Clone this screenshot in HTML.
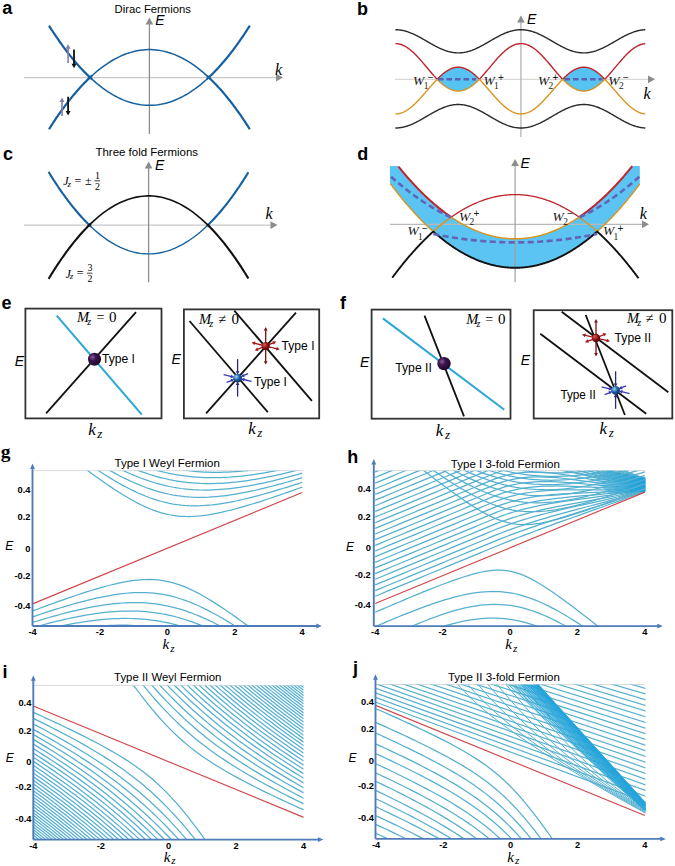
<!DOCTYPE html><html><head><meta charset="utf-8"><style>html,body{margin:0;padding:0;background:#fff;}svg{display:block}</style></head><body>
<svg width="675" height="866" viewBox="0 0 675 866">
<rect width="675" height="866" fill="#fff"/>
<text x="2.3" y="13.5" font-family="Liberation Sans" font-size="18" font-weight="bold" font-style="normal" fill="#000" text-anchor="start" >a</text>
<text x="356.9" y="14.9" font-family="Liberation Sans" font-size="18" font-weight="bold" font-style="normal" fill="#000" text-anchor="start" >b</text>
<text x="3" y="159.5" font-family="Liberation Sans" font-size="18" font-weight="bold" font-style="normal" fill="#000" text-anchor="start" >c</text>
<text x="357.2" y="159.7" font-family="Liberation Sans" font-size="18" font-weight="bold" font-style="normal" fill="#000" text-anchor="start" >d</text>
<text x="1.5" y="308.9" font-family="Liberation Sans" font-size="18" font-weight="bold" font-style="normal" fill="#000" text-anchor="start" >e</text>
<text x="339.9" y="308.7" font-family="Liberation Sans" font-size="18" font-weight="bold" font-style="normal" fill="#000" text-anchor="start" >f</text>
<text x="347.2" y="463.2" font-family="Liberation Sans" font-size="18" font-weight="bold" font-style="normal" fill="#000" text-anchor="start" >h</text>
<text x="2.5" y="677.6" font-family="Liberation Sans" font-size="18" font-weight="bold" font-style="normal" fill="#000" text-anchor="start" >i</text>
<text x="352.9" y="673.6" font-family="Liberation Sans" font-size="18" font-weight="bold" font-style="normal" fill="#000" text-anchor="start" >j</text>
<text x="0.8" y="457.6" font-family="Liberation Serif" font-size="19.5" font-weight="bold" font-style="normal" fill="#000" text-anchor="start" >g</text>
<text x="114.6" y="13.2" font-family="Liberation Sans" font-size="11.6" font-weight="normal" font-style="normal" fill="#000" text-anchor="start" textLength="76.3" lengthAdjust="spacingAndGlyphs" >Dirac Fermions</text>
<line x1="24" y1="77.6" x2="277" y2="77.6" stroke="#c8c8c8" stroke-width="1.3" />
<polygon points="283,77.6 276,81.45 276,73.75" fill="#8c8c8c"/>
<line x1="149.4" y1="134" x2="149.4" y2="24" stroke="#8c8c8c" stroke-width="1.3" />
<polygon points="149.4,17.5 153.25,24.5 145.55,24.5" fill="#8c8c8c"/>
<text x="155.3" y="25.3" font-family="Liberation Sans" font-size="14" font-weight="normal" font-style="italic" fill="#000" text-anchor="start" >E</text>
<text x="275" y="74.6" font-family="Liberation Serif" font-size="16" font-weight="normal" font-style="italic" fill="#000" text-anchor="start" >k</text>
<polyline points="49,129.23 49.88,127.85 50.76,126.47 51.63,125.11 52.51,123.76 53.39,122.42 54.27,121.1 55.14,119.79 56.02,118.49 56.9,117.2 57.78,115.92 58.65,114.66 59.53,113.4 60.41,112.16 61.29,110.94 62.16,109.72 63.04,108.52 63.92,107.33 64.8,106.15 65.67,104.98 66.55,103.83 67.43,102.68 68.31,101.55 69.18,100.43 70.06,99.33 70.94,98.23 71.82,97.15 72.69,96.08 73.57,95.02 74.45,93.98 75.33,92.95 76.2,91.93 77.08,90.92 77.96,89.92 78.84,88.94 79.71,87.96 80.59,87 81.47,86.06 82.35,85.12 83.22,84.2 84.1,83.28 84.98,82.38 85.86,81.5 86.73,80.62 87.61,79.76 88.49,78.91 89.37,78.07 90.24,77.24 91.12,76.43 92,75.63" fill="none" stroke="#15609f" stroke-width="2.2" />
<polyline points="49,25.67 49.88,27.05 50.76,28.43 51.63,29.79 52.51,31.14 53.39,32.48 54.27,33.8 55.14,35.11 56.02,36.41 56.9,37.7 57.78,38.98 58.65,40.24 59.53,41.5 60.41,42.74 61.29,43.96 62.16,45.18 63.04,46.38 63.92,47.57 64.8,48.75 65.67,49.92 66.55,51.07 67.43,52.22 68.31,53.35 69.18,54.47 70.06,55.57 70.94,56.67 71.82,57.75 72.69,58.82 73.57,59.88 74.45,60.92 75.33,61.95 76.2,62.97 77.08,63.98 77.96,64.98 78.84,65.96 79.71,66.94 80.59,67.9 81.47,68.84 82.35,69.78 83.22,70.7 84.1,71.62 84.98,72.52 85.86,73.4 86.73,74.28 87.61,75.14 88.49,75.99 89.37,76.83 90.24,77.66 91.12,78.47 92,79.27" fill="none" stroke="#15609f" stroke-width="2.2" />
<polyline points="88,79.38 90.51,77 93.02,74.71 95.53,72.53 98.04,70.44 100.55,68.45 103.06,66.56 105.57,64.78 108.08,63.09 110.59,61.5 113.1,60.01 115.61,58.62 118.12,57.33 120.63,56.14 123.14,55.05 125.65,54.05 128.16,53.16 130.67,52.37 133.18,51.68 135.69,51.08 138.2,50.59 140.71,50.2 143.22,49.9 145.73,49.71 148.24,49.61 150.76,49.61 153.27,49.72 155.78,49.92 158.29,50.22 160.8,50.63 163.31,51.13 165.82,51.73 168.33,52.43 170.84,53.23 173.35,54.13 175.86,55.13 178.37,56.23 180.88,57.43 183.39,58.73 185.9,60.12 188.41,61.62 190.92,63.22 193.43,64.91 195.94,66.71 198.45,68.61 200.96,70.6 203.47,72.7 205.98,74.89 208.49,77.18 211,79.58" fill="none" stroke="#15609f" stroke-width="1.5" />
<polyline points="88,75.52 90.51,77.9 93.02,80.19 95.53,82.37 98.04,84.46 100.55,86.45 103.06,88.34 105.57,90.12 108.08,91.81 110.59,93.4 113.1,94.89 115.61,96.28 118.12,97.57 120.63,98.76 123.14,99.85 125.65,100.85 128.16,101.74 130.67,102.53 133.18,103.22 135.69,103.82 138.2,104.31 140.71,104.7 143.22,105 145.73,105.19 148.24,105.29 150.76,105.29 153.27,105.18 155.78,104.98 158.29,104.68 160.8,104.27 163.31,103.77 165.82,103.17 168.33,102.47 170.84,101.67 173.35,100.77 175.86,99.77 178.37,98.67 180.88,97.47 183.39,96.17 185.9,94.78 188.41,93.28 190.92,91.68 193.43,89.99 195.94,88.19 198.45,86.29 200.96,84.3 203.47,82.2 205.98,80.01 208.49,77.72 211,75.32" fill="none" stroke="#15609f" stroke-width="1.5" />
<polyline points="207,75.81 207.87,76.61 208.75,77.42 209.62,78.25 210.49,79.09 211.37,79.94 212.24,80.8 213.11,81.67 213.99,82.56 214.86,83.45 215.73,84.36 216.61,85.28 217.48,86.22 218.36,87.16 219.23,88.12 220.1,89.09 220.98,90.07 221.85,91.07 222.72,92.07 223.6,93.09 224.47,94.12 225.34,95.16 226.22,96.22 227.09,97.28 227.96,98.36 228.84,99.45 229.71,100.55 230.58,101.67 231.46,102.79 232.33,103.93 233.2,105.08 234.08,106.25 234.95,107.42 235.82,108.61 236.7,109.81 237.57,111.02 238.44,112.24 239.32,113.47 240.19,114.72 241.07,115.98 241.94,117.25 242.81,118.53 243.69,119.83 244.56,121.14 245.43,122.46 246.31,123.79 247.18,125.13 248.05,126.49 248.93,127.85 249.8,129.23" fill="none" stroke="#15609f" stroke-width="2.2" />
<polyline points="207,79.09 207.87,78.29 208.75,77.48 209.62,76.65 210.49,75.81 211.37,74.96 212.24,74.1 213.11,73.23 213.99,72.34 214.86,71.45 215.73,70.54 216.61,69.62 217.48,68.68 218.36,67.74 219.23,66.78 220.1,65.81 220.98,64.83 221.85,63.83 222.72,62.83 223.6,61.81 224.47,60.78 225.34,59.74 226.22,58.68 227.09,57.62 227.96,56.54 228.84,55.45 229.71,54.35 230.58,53.23 231.46,52.11 232.33,50.97 233.2,49.82 234.08,48.65 234.95,47.48 235.82,46.29 236.7,45.09 237.57,43.88 238.44,42.66 239.32,41.43 240.19,40.18 241.07,38.92 241.94,37.65 242.81,36.37 243.69,35.07 244.56,33.76 245.43,32.44 246.31,31.11 247.18,29.77 248.05,28.41 248.93,27.05 249.8,25.67" fill="none" stroke="#15609f" stroke-width="2.2" />
<line x1="68.1" y1="63" x2="68.1" y2="48" stroke="#8a7ba6" stroke-width="1.6" />
<polygon points="68.1,44.3 70.57,48.8 65.62,48.8" fill="#8a7ba6"/>
<line x1="74" y1="49.4" x2="74" y2="64.5" stroke="#111" stroke-width="1.8" />
<polygon points="74,68.3 71.53,63.8 76.47,63.8" fill="#111"/>
<line x1="62" y1="116.1" x2="62" y2="101.3" stroke="#8a7ba6" stroke-width="1.6" />
<polygon points="62,97.6 64.47,102.1 59.52,102.1" fill="#8a7ba6"/>
<line x1="68.1" y1="96.7" x2="68.1" y2="111.6" stroke="#111" stroke-width="1.8" />
<polygon points="68.1,115.4 65.62,110.9 70.57,110.9" fill="#111"/>
<line x1="395" y1="79.3" x2="648" y2="79.3" stroke="#d8d8d8" stroke-width="1.2" />
<polygon points="655,79.3 648,83.15 648,75.45" fill="#8c8c8c"/>
<line x1="520.9" y1="137" x2="520.9" y2="22" stroke="#b0b0b0" stroke-width="1.2" />
<polygon points="520.9,15.6 524.75,22.6 517.05,22.6" fill="#8c8c8c"/>
<text x="527" y="24.4" font-family="Liberation Sans" font-size="14" font-weight="normal" font-style="italic" fill="#000" text-anchor="start" >E</text>
<text x="643.5" y="98.7" font-family="Liberation Serif" font-size="16" font-weight="normal" font-style="italic" fill="#000" text-anchor="start" >k</text>
<polygon points="436.11,78.16 436.74,78.83 437.36,79.12 437.99,78.48 438.62,77.85 439.24,77.23 439.87,76.63 440.49,76.04 441.12,75.46 441.75,74.9 442.37,74.36 443,73.83 443.63,73.32 444.25,72.83 444.88,72.36 445.51,71.9 446.13,71.47 446.76,71.05 447.38,70.65 448.01,70.27 448.64,69.92 449.26,69.58 449.89,69.26 450.52,68.97 451.14,68.7 451.77,68.45 452.39,68.22 453.02,68.01 453.65,67.83 454.27,67.67 454.9,67.54 455.53,67.42 456.15,67.33 456.78,67.26 457.41,67.22 458.03,67.2 458.66,67.2 459.28,67.23 459.91,67.28 460.54,67.36 461.16,67.45 461.79,67.57 462.42,67.72 463.04,67.88 463.67,68.07 464.29,68.29 464.92,68.52 465.55,68.78 466.17,69.06 466.8,69.36 467.43,69.68 468.05,70.02 468.68,70.38 469.31,70.77 469.93,71.17 470.56,71.6 471.18,72.04 471.81,72.5 472.44,72.98 473.06,73.48 473.69,73.99 474.32,74.52 474.94,75.07 475.57,75.63 476.19,76.21 476.82,76.81 477.45,77.41 477.45,81.13 476.82,81.72 476.19,82.29 475.57,82.86 474.94,83.4 474.32,83.93 473.69,84.45 473.06,84.95 472.44,85.43 471.81,85.9 471.18,86.34 470.56,86.77 469.93,87.18 469.31,87.58 468.68,87.95 468.05,88.3 467.43,88.63 466.8,88.95 466.17,89.24 465.55,89.51 464.92,89.76 464.29,89.98 463.67,90.19 463.04,90.37 462.42,90.53 461.79,90.67 461.16,90.79 460.54,90.89 459.91,90.96 459.28,91.01 458.66,91.03 458.03,91.04 457.41,91.02 456.78,90.97 456.15,90.91 455.53,90.82 454.9,90.71 454.27,90.58 453.65,90.42 453.02,90.25 452.39,90.05 451.77,89.83 451.14,89.58 450.52,89.32 449.89,89.04 449.26,88.73 448.64,88.4 448.01,88.06 447.38,87.69 446.76,87.3 446.13,86.9 445.51,86.48 444.88,86.03 444.25,85.57 443.63,85.1 443,84.6 442.37,84.09 441.75,83.56 441.12,83.02 440.49,82.47 439.87,81.89 439.24,81.31 438.62,80.71 437.99,80.1 437.36,79.48 436.74,79.76 436.11,80.4" fill="#57c3f3"/>
<polygon points="562.63,79.23 563.25,78.72 563.88,78.08 564.51,77.46 565.13,76.85 565.76,76.26 566.38,75.68 567.01,75.11 567.64,74.56 568.26,74.03 568.89,73.52 569.52,73.02 570.14,72.54 570.77,72.07 571.39,71.63 572.02,71.2 572.65,70.8 573.27,70.41 573.9,70.05 574.53,69.7 575.15,69.38 575.78,69.08 576.41,68.8 577.03,68.54 577.66,68.3 578.28,68.09 578.91,67.9 579.54,67.73 580.16,67.58 580.79,67.46 581.42,67.36 582.04,67.29 582.67,67.24 583.29,67.21 583.92,67.2 584.55,67.22 585.17,67.26 585.8,67.33 586.43,67.41 587.05,67.53 587.68,67.66 588.31,67.82 588.93,68 589.56,68.2 590.18,68.43 590.81,68.68 591.44,68.95 592.06,69.24 592.69,69.55 593.32,69.89 593.94,70.24 594.57,70.62 595.19,71.02 595.82,71.43 596.45,71.87 597.07,72.32 597.7,72.8 598.33,73.29 598.95,73.79 599.58,74.32 600.21,74.86 600.83,75.42 601.46,75.99 602.08,76.58 602.71,77.18 603.34,77.8 603.96,78.43 603.96,80.15 603.34,80.76 602.71,81.35 602.08,81.94 601.46,82.51 600.83,83.06 600.21,83.6 599.58,84.13 598.95,84.64 598.33,85.13 597.7,85.61 597.07,86.07 596.45,86.51 595.82,86.93 595.19,87.33 594.57,87.72 593.94,88.08 593.32,88.43 592.69,88.75 592.06,89.06 591.44,89.34 590.81,89.6 590.18,89.84 589.56,90.06 588.93,90.26 588.31,90.44 587.68,90.59 587.05,90.72 586.43,90.83 585.8,90.92 585.17,90.98 584.55,91.02 583.92,91.04 583.29,91.03 582.67,91 582.04,90.95 581.42,90.88 580.79,90.78 580.16,90.66 579.54,90.52 578.91,90.36 578.28,90.17 577.66,89.97 577.03,89.74 576.41,89.49 575.78,89.22 575.15,88.92 574.53,88.61 573.9,88.27 573.27,87.92 572.65,87.55 572.02,87.15 571.39,86.74 570.77,86.31 570.14,85.86 569.52,85.4 568.89,84.91 568.26,84.41 567.64,83.89 567.01,83.36 566.38,82.81 565.76,82.25 565.13,81.67 564.51,81.08 563.88,80.48 563.25,79.86 562.63,79.36" fill="#57c3f3"/>
<polyline points="395.4,29.7 396.03,29.7 396.65,29.72 397.28,29.75 397.91,29.78 398.53,29.83 399.16,29.89 399.78,29.97 400.41,30.05 401.04,30.14 401.66,30.25 402.29,30.36 402.92,30.49 403.54,30.63 404.17,30.78 404.79,30.93 405.42,31.1 406.05,31.28 406.67,31.47 407.3,31.67 407.93,31.87 408.55,32.09 409.18,32.32 409.81,32.55 410.43,32.79 411.06,33.04 411.68,33.3 412.31,33.57 412.94,33.85 413.56,34.13 414.19,34.42 414.82,34.71 415.44,35.02 416.07,35.33 416.69,35.64 417.32,35.96 417.95,36.29 418.57,36.62 419.2,36.95 419.83,37.29 420.45,37.63 421.08,37.98 421.71,38.33 422.33,38.68 422.96,39.04 423.58,39.4 424.21,39.76 424.84,40.12 425.46,40.48 426.09,40.84 426.72,41.21 427.34,41.57 427.97,41.93 428.59,42.3 429.22,42.66 429.85,43.02 430.47,43.38 431.1,43.74 431.73,44.09 432.35,44.44 432.98,44.79 433.61,45.14 434.23,45.48 434.86,45.81 435.48,46.15 436.11,46.47 436.74,46.8 437.36,47.11 437.99,47.43 438.62,47.73 439.24,48.03 439.87,48.32 440.49,48.61 441.12,48.89 441.75,49.16 442.37,49.42 443,49.68 443.63,49.93 444.25,50.17 444.88,50.4 445.51,50.62 446.13,50.83 446.76,51.03 447.38,51.23 448.01,51.41 448.64,51.58 449.26,51.75 449.89,51.9 450.52,52.04 451.14,52.17 451.77,52.29 452.39,52.41 453.02,52.5 453.65,52.59 454.27,52.67 454.9,52.74 455.53,52.79 456.15,52.84 456.78,52.87 457.41,52.89 458.03,52.9 458.66,52.9 459.28,52.88 459.91,52.86 460.54,52.82 461.16,52.78 461.79,52.72 462.42,52.65 463.04,52.57 463.67,52.48 464.29,52.37 464.92,52.26 465.55,52.13 466.17,52 466.8,51.85 467.43,51.7 468.05,51.53 468.68,51.35 469.31,51.17 469.93,50.97 470.56,50.77 471.18,50.55 471.81,50.33 472.44,50.09 473.06,49.85 473.69,49.6 474.32,49.35 474.94,49.08 475.57,48.81 476.19,48.53 476.82,48.24 477.45,47.94 478.07,47.64 478.7,47.33 479.33,47.02 479.95,46.7 480.58,46.38 481.21,46.05 481.83,45.71 482.46,45.37 483.08,45.03 483.71,44.68 484.34,44.34 484.96,43.98 485.59,43.63 486.22,43.27 486.84,42.91 487.47,42.55 488.09,42.19 488.72,41.82 489.35,41.46 489.97,41.1 490.6,40.73 491.23,40.37 491.85,40.01 492.48,39.65 493.11,39.29 493.73,38.93 494.36,38.58 494.98,38.22 495.61,37.88 496.24,37.53 496.86,37.19 497.49,36.85 498.12,36.52 498.74,36.19 499.37,35.86 499.99,35.54 500.62,35.23 501.25,34.92 501.87,34.62 502.5,34.33 503.13,34.04 503.75,33.76 504.38,33.49 505.01,33.22 505.63,32.97 506.26,32.72 506.88,32.48 507.51,32.25 508.14,32.02 508.76,31.81 509.39,31.61 510.02,31.41 510.64,31.23 511.27,31.05 511.89,30.88 512.52,30.73 513.15,30.58 513.77,30.45 514.4,30.33 515.03,30.21 515.65,30.11 516.28,30.02 516.91,29.94 517.53,29.87 518.16,29.82 518.78,29.77 519.41,29.74 520.04,29.71 520.66,29.7 521.29,29.7 521.92,29.71 522.54,29.73 523.17,29.77 523.79,29.81 524.42,29.87 525.05,29.94 525.67,30.02 526.3,30.11 526.93,30.21 527.55,30.32 528.18,30.44 528.81,30.57 529.43,30.72 530.06,30.87 530.68,31.04 531.31,31.21 531.94,31.4 532.56,31.59 533.19,31.79 533.82,32.01 534.44,32.23 535.07,32.46 535.69,32.7 536.32,32.95 536.95,33.2 537.57,33.47 538.2,33.74 538.83,34.02 539.45,34.31 540.08,34.6 540.71,34.9 541.33,35.21 541.96,35.52 542.58,35.84 543.21,36.16 543.84,36.49 544.46,36.82 545.09,37.16 545.72,37.5 546.34,37.85 546.97,38.2 547.59,38.55 548.22,38.9 548.85,39.26 549.47,39.62 550.1,39.98 550.73,40.34 551.35,40.71 551.98,41.07 552.61,41.43 553.23,41.8 553.86,42.16 554.48,42.52 555.11,42.88 555.74,43.24 556.36,43.6 556.99,43.96 557.62,44.31 558.24,44.66 558.87,45.01 559.49,45.35 560.12,45.69 560.75,46.02 561.37,46.35 562,46.68 562.63,47 563.25,47.31 563.88,47.62 564.51,47.92 565.13,48.22 565.76,48.5 566.38,48.79 567.01,49.06 567.64,49.33 568.26,49.58 568.89,49.83 569.52,50.08 570.14,50.31 570.77,50.54 571.39,50.75 572.02,50.96 572.65,51.15 573.27,51.34 573.9,51.52 574.53,51.68 575.15,51.84 575.78,51.99 576.41,52.12 577.03,52.25 577.66,52.36 578.28,52.47 578.91,52.56 579.54,52.64 580.16,52.71 580.79,52.77 581.42,52.82 582.04,52.86 582.67,52.88 583.29,52.9 583.92,52.9 584.55,52.89 585.17,52.87 585.8,52.84 586.43,52.8 587.05,52.74 587.68,52.68 588.31,52.6 588.93,52.51 589.56,52.41 590.18,52.3 590.81,52.18 591.44,52.05 592.06,51.91 592.69,51.76 593.32,51.59 593.94,51.42 594.57,51.24 595.19,51.05 595.82,50.85 596.45,50.63 597.07,50.41 597.7,50.18 598.33,49.95 598.95,49.7 599.58,49.44 600.21,49.18 600.83,48.91 601.46,48.63 602.08,48.35 602.71,48.05 603.34,47.76 603.96,47.45 604.59,47.14 605.22,46.82 605.84,46.5 606.47,46.17 607.09,45.84 607.72,45.5 608.35,45.16 608.97,44.82 609.6,44.47 610.23,44.12 610.85,43.76 611.48,43.41 612.11,43.05 612.73,42.69 613.36,42.32 613.98,41.96 614.61,41.6 615.24,41.24 615.86,40.87 616.49,40.51 617.12,40.15 617.74,39.78 618.37,39.42 618.99,39.07 619.62,38.71 620.25,38.36 620.87,38.01 621.5,37.66 622.13,37.32 622.75,36.98 623.38,36.64 624.01,36.31 624.63,35.99 625.26,35.66 625.88,35.35 626.51,35.04 627.14,34.74 627.76,34.44 628.39,34.15 629.02,33.87 629.64,33.59 630.27,33.32 630.89,33.06 631.52,32.81 632.15,32.57 632.77,32.33 633.4,32.11 634.03,31.89 634.65,31.68 635.28,31.48 635.91,31.29 636.53,31.11 637.16,30.95 637.78,30.79 638.41,30.64 639.04,30.5 639.66,30.37 640.29,30.26 640.92,30.15 641.54,30.06 642.17,29.97 642.79,29.9 643.42,29.84 644.05,29.79 644.67,29.75 645.3,29.72" fill="none" stroke="#2a2a2a" stroke-width="1.4" />
<polyline points="395.4,128 396.03,128 396.65,127.98 397.28,127.95 397.91,127.91 398.53,127.86 399.16,127.8 399.78,127.73 400.41,127.65 401.04,127.55 401.66,127.45 402.29,127.33 402.92,127.2 403.54,127.06 404.17,126.91 404.79,126.75 405.42,126.58 406.05,126.4 406.67,126.21 407.3,126.01 407.93,125.8 408.55,125.58 409.18,125.35 409.81,125.11 410.43,124.87 411.06,124.61 411.68,124.35 412.31,124.08 412.94,123.8 413.56,123.51 414.19,123.22 414.82,122.92 415.44,122.61 416.07,122.3 416.69,121.98 417.32,121.66 417.95,121.33 418.57,120.99 419.2,120.65 419.83,120.31 420.45,119.96 421.08,119.61 421.71,119.26 422.33,118.9 422.96,118.54 423.58,118.18 424.21,117.81 424.84,117.45 425.46,117.08 426.09,116.71 426.72,116.34 427.34,115.98 427.97,115.61 428.59,115.24 429.22,114.87 429.85,114.51 430.47,114.14 431.1,113.78 431.73,113.42 432.35,113.07 432.98,112.71 433.61,112.37 434.23,112.02 434.86,111.68 435.48,111.34 436.11,111.01 436.74,110.68 437.36,110.36 437.99,110.04 438.62,109.73 439.24,109.43 439.87,109.13 440.49,108.84 441.12,108.56 441.75,108.29 442.37,108.02 443,107.76 443.63,107.51 444.25,107.27 444.88,107.04 445.51,106.81 446.13,106.6 446.76,106.39 447.38,106.2 448.01,106.01 448.64,105.83 449.26,105.67 449.89,105.51 450.52,105.37 451.14,105.24 451.77,105.11 452.39,105 453.02,104.9 453.65,104.81 454.27,104.73 454.9,104.66 455.53,104.61 456.15,104.56 456.78,104.53 457.41,104.51 458.03,104.5 458.66,104.5 459.28,104.52 459.91,104.54 460.54,104.58 461.16,104.62 461.79,104.68 462.42,104.75 463.04,104.84 463.67,104.93 464.29,105.03 464.92,105.15 465.55,105.28 466.17,105.41 466.8,105.56 467.43,105.72 468.05,105.89 468.68,106.07 469.31,106.25 469.93,106.45 470.56,106.66 471.18,106.88 471.81,107.11 472.44,107.34 473.06,107.59 473.69,107.84 474.32,108.1 474.94,108.37 475.57,108.65 476.19,108.93 476.82,109.22 477.45,109.52 478.07,109.83 478.7,110.14 479.33,110.46 479.95,110.78 480.58,111.11 481.21,111.44 481.83,111.78 482.46,112.12 483.08,112.47 483.71,112.82 484.34,113.18 484.96,113.53 485.59,113.89 486.22,114.25 486.84,114.62 487.47,114.98 488.09,115.35 488.72,115.72 489.35,116.09 489.97,116.46 490.6,116.82 491.23,117.19 491.85,117.56 492.48,117.92 493.11,118.29 493.73,118.65 494.36,119.01 494.98,119.36 495.61,119.72 496.24,120.07 496.86,120.42 497.49,120.76 498.12,121.1 498.74,121.43 499.37,121.76 499.99,122.08 500.62,122.4 501.25,122.71 501.87,123.01 502.5,123.31 503.13,123.6 503.75,123.88 504.38,124.16 505.01,124.43 505.63,124.69 506.26,124.94 506.88,125.19 507.51,125.42 508.14,125.65 508.76,125.86 509.39,126.07 510.02,126.27 510.64,126.46 511.27,126.63 511.89,126.8 512.52,126.96 513.15,127.1 513.77,127.24 514.4,127.36 515.03,127.48 515.65,127.58 516.28,127.67 516.91,127.75 517.53,127.82 518.16,127.88 518.78,127.93 519.41,127.96 520.04,127.99 520.66,128 521.29,128 521.92,127.99 522.54,127.96 523.17,127.93 523.79,127.89 524.42,127.83 525.05,127.76 525.67,127.68 526.3,127.59 526.93,127.49 527.55,127.37 528.18,127.25 528.81,127.11 529.43,126.97 530.06,126.81 530.68,126.65 531.31,126.47 531.94,126.28 532.56,126.09 533.19,125.88 533.82,125.66 534.44,125.44 535.07,125.2 535.69,124.96 536.32,124.71 536.95,124.45 537.57,124.18 538.2,123.91 538.83,123.62 539.45,123.33 540.08,123.04 540.71,122.73 541.33,122.42 541.96,122.1 542.58,121.78 543.21,121.45 543.84,121.12 544.46,120.78 545.09,120.44 545.72,120.1 546.34,119.75 546.97,119.39 547.59,119.04 548.22,118.68 548.85,118.31 549.47,117.95 550.1,117.59 550.73,117.22 551.35,116.85 551.98,116.48 552.61,116.11 553.23,115.75 553.86,115.38 554.48,115.01 555.11,114.65 555.74,114.28 556.36,113.92 556.99,113.56 557.62,113.2 558.24,112.85 558.87,112.5 559.49,112.15 560.12,111.81 560.75,111.47 561.37,111.13 562,110.8 562.63,110.48 563.25,110.16 563.88,109.85 564.51,109.54 565.13,109.25 565.76,108.95 566.38,108.67 567.01,108.39 567.64,108.12 568.26,107.86 568.89,107.6 569.52,107.36 570.14,107.12 570.77,106.9 571.39,106.68 572.02,106.47 572.65,106.27 573.27,106.08 573.9,105.9 574.53,105.73 575.15,105.57 575.78,105.42 576.41,105.29 577.03,105.16 577.66,105.04 578.28,104.94 578.91,104.84 579.54,104.76 580.16,104.69 580.79,104.63 581.42,104.58 582.04,104.54 582.67,104.52 583.29,104.5 583.92,104.5 584.55,104.51 585.17,104.53 585.8,104.56 586.43,104.61 587.05,104.66 587.68,104.73 588.31,104.8 588.93,104.89 589.56,104.99 590.18,105.1 590.81,105.23 591.44,105.36 592.06,105.5 592.69,105.66 593.32,105.82 593.94,106 594.57,106.18 595.19,106.38 595.82,106.58 596.45,106.8 597.07,107.02 597.7,107.25 598.33,107.49 598.95,107.74 599.58,108 600.21,108.27 600.83,108.54 601.46,108.82 602.08,109.11 602.71,109.41 603.34,109.71 603.96,110.02 604.59,110.34 605.22,110.66 605.84,110.98 606.47,111.32 607.09,111.65 607.72,111.99 608.35,112.34 608.97,112.69 609.6,113.04 610.23,113.4 610.85,113.76 611.48,114.12 612.11,114.48 612.73,114.85 613.36,115.21 613.98,115.58 614.61,115.95 615.24,116.32 615.86,116.68 616.49,117.05 617.12,117.42 617.74,117.79 618.37,118.15 618.99,118.51 619.62,118.87 620.25,119.23 620.87,119.59 621.5,119.94 622.13,120.28 622.75,120.63 623.38,120.97 624.01,121.3 624.63,121.63 625.26,121.96 625.88,122.28 626.51,122.59 627.14,122.9 627.76,123.2 628.39,123.49 629.02,123.78 629.64,124.06 630.27,124.33 630.89,124.59 631.52,124.85 632.15,125.09 632.77,125.33 633.4,125.56 634.03,125.78 634.65,125.99 635.28,126.19 635.91,126.39 636.53,126.57 637.16,126.74 637.78,126.9 638.41,127.05 639.04,127.19 639.66,127.32 640.29,127.44 640.92,127.54 641.54,127.64 642.17,127.72 642.79,127.8 643.42,127.86 644.05,127.91 644.67,127.95 645.3,127.98" fill="none" stroke="#2a2a2a" stroke-width="1.4" />
<polyline points="395.4,43.6 396.03,43.61 396.65,43.64 397.28,43.69 397.91,43.77 398.53,43.87 399.16,44 399.78,44.15 400.41,44.32 401.04,44.51 401.66,44.73 402.29,44.97 402.92,45.23 403.54,45.51 404.17,45.82 404.79,46.14 405.42,46.49 406.05,46.86 406.67,47.24 407.3,47.65 407.93,48.08 408.55,48.52 409.18,48.99 409.81,49.47 410.43,49.97 411.06,50.49 411.68,51.03 412.31,51.58 412.94,52.14 413.56,52.72 414.19,53.32 414.82,53.93 415.44,54.55 416.07,55.19 416.69,55.84 417.32,56.5 417.95,57.17 418.57,57.85 419.2,58.54 419.83,59.24 420.45,59.95 421.08,60.66 421.71,61.38 422.33,62.11 422.96,62.84 423.58,63.58 424.21,64.32 424.84,65.07 425.46,65.81 426.09,66.56 426.72,67.31 427.34,68.06 427.97,68.81 428.59,69.56 429.22,70.3 429.85,71.04 430.47,71.78 431.1,72.52 431.73,73.25 432.35,73.97 432.98,74.69 433.61,75.4 434.23,76.1 434.86,76.8 435.48,77.49 436.11,78.16 436.74,78.83 437.36,79.12 437.99,78.48 438.62,77.85 439.24,77.23 439.87,76.63 440.49,76.04 441.12,75.46 441.75,74.9 442.37,74.36 443,73.83 443.63,73.32 444.25,72.83 444.88,72.36 445.51,71.9 446.13,71.47 446.76,71.05 447.38,70.65 448.01,70.27 448.64,69.92 449.26,69.58 449.89,69.26 450.52,68.97 451.14,68.7 451.77,68.45 452.39,68.22 453.02,68.01 453.65,67.83 454.27,67.67 454.9,67.54 455.53,67.42 456.15,67.33 456.78,67.26 457.41,67.22 458.03,67.2 458.66,67.2 459.28,67.23 459.91,67.28 460.54,67.36 461.16,67.45 461.79,67.57 462.42,67.72 463.04,67.88 463.67,68.07 464.29,68.29 464.92,68.52 465.55,68.78 466.17,69.06 466.8,69.36 467.43,69.68 468.05,70.02 468.68,70.38 469.31,70.77 469.93,71.17 470.56,71.6 471.18,72.04 471.81,72.5 472.44,72.98 473.06,73.48 473.69,73.99 474.32,74.52 474.94,75.07 475.57,75.63 476.19,76.21 476.82,76.81 477.45,77.41 478.07,78.04 478.7,78.67 479.33,79.28 479.95,78.63 480.58,77.96 481.21,77.28 481.83,76.59 482.46,75.89 483.08,75.19 483.71,74.47 484.34,73.75 484.96,73.03 485.59,72.3 486.22,71.56 486.84,70.82 487.47,70.08 488.09,69.33 488.72,68.58 489.35,67.83 489.97,67.08 490.6,66.33 491.23,65.59 491.85,64.84 492.48,64.1 493.11,63.36 493.73,62.62 494.36,61.89 494.98,61.16 495.61,60.44 496.24,59.73 496.86,59.03 497.49,58.33 498.12,57.64 498.74,56.97 499.37,56.3 499.99,55.64 500.62,55 501.25,54.36 501.87,53.75 502.5,53.14 503.13,52.55 503.75,51.97 504.38,51.41 505.01,50.86 505.63,50.33 506.26,49.82 506.88,49.32 507.51,48.85 508.14,48.39 508.76,47.95 509.39,47.53 510.02,47.12 510.64,46.74 511.27,46.38 511.89,46.04 512.52,45.72 513.15,45.42 513.77,45.15 514.4,44.89 515.03,44.66 515.65,44.45 516.28,44.26 516.91,44.1 517.53,43.96 518.16,43.84 518.78,43.75 519.41,43.68 520.04,43.63 520.66,43.6 521.29,43.6 521.92,43.63 522.54,43.67 523.17,43.74 523.79,43.83 524.42,43.95 525.05,44.09 525.67,44.25 526.3,44.44 526.93,44.64 527.55,44.87 528.18,45.13 528.81,45.4 529.43,45.7 530.06,46.02 530.68,46.35 531.31,46.71 531.94,47.09 532.56,47.49 533.19,47.91 533.82,48.35 534.44,48.81 535.07,49.29 535.69,49.78 536.32,50.29 536.95,50.82 537.57,51.37 538.2,51.93 538.83,52.5 539.45,53.09 540.08,53.7 540.71,54.32 541.33,54.95 541.96,55.59 542.58,56.25 543.21,56.91 543.84,57.59 544.46,58.28 545.09,58.97 545.72,59.68 546.34,60.39 546.97,61.11 547.59,61.83 548.22,62.57 548.85,63.3 549.47,64.04 550.1,64.78 550.73,65.53 551.35,66.28 551.98,67.03 552.61,67.78 553.23,68.52 553.86,69.27 554.48,70.02 555.11,70.76 555.74,71.5 556.36,72.24 556.99,72.97 557.62,73.7 558.24,74.42 558.87,75.13 559.49,75.84 560.12,76.54 560.75,77.23 561.37,77.91 562,78.58 562.63,79.23 563.25,78.72 563.88,78.08 564.51,77.46 565.13,76.85 565.76,76.26 566.38,75.68 567.01,75.11 567.64,74.56 568.26,74.03 568.89,73.52 569.52,73.02 570.14,72.54 570.77,72.07 571.39,71.63 572.02,71.2 572.65,70.8 573.27,70.41 573.9,70.05 574.53,69.7 575.15,69.38 575.78,69.08 576.41,68.8 577.03,68.54 577.66,68.3 578.28,68.09 578.91,67.9 579.54,67.73 580.16,67.58 580.79,67.46 581.42,67.36 582.04,67.29 582.67,67.24 583.29,67.21 583.92,67.2 584.55,67.22 585.17,67.26 585.8,67.33 586.43,67.41 587.05,67.53 587.68,67.66 588.31,67.82 588.93,68 589.56,68.2 590.18,68.43 590.81,68.68 591.44,68.95 592.06,69.24 592.69,69.55 593.32,69.89 593.94,70.24 594.57,70.62 595.19,71.02 595.82,71.43 596.45,71.87 597.07,72.32 597.7,72.8 598.33,73.29 598.95,73.79 599.58,74.32 600.21,74.86 600.83,75.42 601.46,75.99 602.08,76.58 602.71,77.18 603.34,77.8 603.96,78.43 604.59,79.07 605.22,78.88 605.84,78.21 606.47,77.54 607.09,76.85 607.72,76.16 608.35,75.46 608.97,74.74 609.6,74.03 610.23,73.3 610.85,72.57 611.48,71.84 612.11,71.1 612.73,70.36 613.36,69.61 613.98,68.86 614.61,68.12 615.24,67.37 615.86,66.62 616.49,65.87 617.12,65.12 617.74,64.38 618.37,63.64 618.99,62.9 619.62,62.17 620.25,61.44 620.87,60.72 621.5,60 622.13,59.29 622.75,58.59 623.38,57.9 624.01,57.22 624.63,56.55 625.26,55.89 625.88,55.24 626.51,54.6 627.14,53.98 627.76,53.37 628.39,52.77 629.02,52.19 629.64,51.62 630.27,51.07 630.89,50.53 631.52,50.01 632.15,49.51 632.77,49.02 633.4,48.56 634.03,48.11 634.65,47.68 635.28,47.27 635.91,46.88 636.53,46.52 637.16,46.17 637.78,45.84 638.41,45.53 639.04,45.25 639.66,44.99 640.29,44.75 640.92,44.53 641.54,44.33 642.17,44.16 642.79,44.01 643.42,43.88 644.05,43.78 644.67,43.7 645.3,43.64" fill="none" stroke="#c0232b" stroke-width="1.4" />
<polyline points="395.4,113.93 396.03,113.92 396.65,113.89 397.28,113.84 397.91,113.76 398.53,113.66 399.16,113.54 399.78,113.4 400.41,113.23 401.04,113.04 401.66,112.83 402.29,112.6 402.92,112.35 403.54,112.08 404.17,111.78 404.79,111.46 405.42,111.13 406.05,110.77 406.67,110.4 407.3,110 407.93,109.59 408.55,109.15 409.18,108.7 409.81,108.23 410.43,107.75 411.06,107.24 411.68,106.73 412.31,106.19 412.94,105.64 413.56,105.08 414.19,104.5 414.82,103.91 415.44,103.3 416.07,102.69 416.69,102.06 417.32,101.42 417.95,100.77 418.57,100.11 419.2,99.44 419.83,98.76 420.45,98.07 421.08,97.38 421.71,96.68 422.33,95.97 422.96,95.26 423.58,94.55 424.21,93.83 424.84,93.11 425.46,92.38 426.09,91.66 426.72,90.93 427.34,90.2 427.97,89.48 428.59,88.75 429.22,88.03 429.85,87.31 430.47,86.59 431.1,85.88 431.73,85.17 432.35,84.47 432.98,83.77 433.61,83.08 434.23,82.4 434.86,81.73 435.48,81.06 436.11,80.4 436.74,79.76 437.36,79.48 437.99,80.1 438.62,80.71 439.24,81.31 439.87,81.89 440.49,82.47 441.12,83.02 441.75,83.56 442.37,84.09 443,84.6 443.63,85.1 444.25,85.57 444.88,86.03 445.51,86.48 446.13,86.9 446.76,87.3 447.38,87.69 448.01,88.06 448.64,88.4 449.26,88.73 449.89,89.04 450.52,89.32 451.14,89.58 451.77,89.83 452.39,90.05 453.02,90.25 453.65,90.42 454.27,90.58 454.9,90.71 455.53,90.82 456.15,90.91 456.78,90.97 457.41,91.02 458.03,91.04 458.66,91.03 459.28,91.01 459.91,90.96 460.54,90.89 461.16,90.79 461.79,90.67 462.42,90.53 463.04,90.37 463.67,90.19 464.29,89.98 464.92,89.76 465.55,89.51 466.17,89.24 466.8,88.95 467.43,88.63 468.05,88.3 468.68,87.95 469.31,87.58 469.93,87.18 470.56,86.77 471.18,86.34 471.81,85.9 472.44,85.43 473.06,84.95 473.69,84.45 474.32,83.93 474.94,83.4 475.57,82.86 476.19,82.29 476.82,81.72 477.45,81.13 478.07,80.53 478.7,79.91 479.33,79.32 479.95,79.95 480.58,80.6 481.21,81.26 481.83,81.93 482.46,82.6 483.08,83.29 483.71,83.98 484.34,84.68 484.96,85.38 485.59,86.09 486.22,86.81 486.84,87.53 487.47,88.25 488.09,88.97 488.72,89.7 489.35,90.42 489.97,91.15 490.6,91.88 491.23,92.6 491.85,93.33 492.48,94.05 493.11,94.77 493.73,95.48 494.36,96.19 494.98,96.89 495.61,97.59 496.24,98.28 496.86,98.96 497.49,99.64 498.12,100.31 498.74,100.96 499.37,101.61 499.99,102.25 500.62,102.87 501.25,103.49 501.87,104.09 502.5,104.68 503.13,105.25 503.75,105.81 504.38,106.36 505.01,106.88 505.63,107.4 506.26,107.9 506.88,108.38 507.51,108.84 508.14,109.29 508.76,109.71 509.39,110.12 510.02,110.51 510.64,110.88 511.27,111.23 511.89,111.56 512.52,111.87 513.15,112.16 513.77,112.43 514.4,112.67 515.03,112.9 515.65,113.1 516.28,113.28 516.91,113.44 517.53,113.58 518.16,113.69 518.78,113.79 519.41,113.86 520.04,113.9 520.66,113.93 521.29,113.93 521.92,113.9 522.54,113.86 523.17,113.79 523.79,113.7 524.42,113.59 525.05,113.45 525.67,113.3 526.3,113.12 526.93,112.92 527.55,112.69 528.18,112.45 528.81,112.18 529.43,111.89 530.06,111.59 530.68,111.26 531.31,110.91 531.94,110.54 532.56,110.15 533.19,109.74 533.82,109.32 534.44,108.87 535.07,108.41 535.69,107.93 536.32,107.44 536.95,106.92 537.57,106.4 538.2,105.85 538.83,105.29 539.45,104.72 540.08,104.13 540.71,103.53 541.33,102.92 541.96,102.3 542.58,101.66 543.21,101.01 543.84,100.36 544.46,99.69 545.09,99.02 545.72,98.33 546.34,97.64 546.97,96.94 547.59,96.24 548.22,95.53 548.85,94.82 549.47,94.1 550.1,93.38 550.73,92.66 551.35,91.93 551.98,91.21 552.61,90.48 553.23,89.75 553.86,89.03 554.48,88.3 555.11,87.58 555.74,86.86 556.36,86.15 556.99,85.44 557.62,84.73 558.24,84.03 558.87,83.34 559.49,82.66 560.12,81.98 560.75,81.31 561.37,80.65 562,80 562.63,79.36 563.25,79.86 563.88,80.48 564.51,81.08 565.13,81.67 565.76,82.25 566.38,82.81 567.01,83.36 567.64,83.89 568.26,84.41 568.89,84.91 569.52,85.4 570.14,85.86 570.77,86.31 571.39,86.74 572.02,87.15 572.65,87.55 573.27,87.92 573.9,88.27 574.53,88.61 575.15,88.92 575.78,89.22 576.41,89.49 577.03,89.74 577.66,89.97 578.28,90.17 578.91,90.36 579.54,90.52 580.16,90.66 580.79,90.78 581.42,90.88 582.04,90.95 582.67,91 583.29,91.03 583.92,91.04 584.55,91.02 585.17,90.98 585.8,90.92 586.43,90.83 587.05,90.72 587.68,90.59 588.31,90.44 588.93,90.26 589.56,90.06 590.18,89.84 590.81,89.6 591.44,89.34 592.06,89.06 592.69,88.75 593.32,88.43 593.94,88.08 594.57,87.72 595.19,87.33 595.82,86.93 596.45,86.51 597.07,86.07 597.7,85.61 598.33,85.13 598.95,84.64 599.58,84.13 600.21,83.6 600.83,83.06 601.46,82.51 602.08,81.94 602.71,81.35 603.34,80.76 603.96,80.15 604.59,79.52 605.22,79.71 605.84,80.36 606.47,81.01 607.09,81.67 607.72,82.35 608.35,83.03 608.97,83.72 609.6,84.41 610.23,85.12 610.85,85.82 611.48,86.54 612.11,87.25 612.73,87.97 613.36,88.7 613.98,89.42 614.61,90.15 615.24,90.88 615.86,91.6 616.49,92.33 617.12,93.05 617.74,93.77 618.37,94.49 618.99,95.21 619.62,95.92 620.25,96.63 620.87,97.33 621.5,98.02 622.13,98.71 622.75,99.39 623.38,100.06 624.01,100.72 624.63,101.37 625.26,102.01 625.88,102.64 626.51,103.26 627.14,103.86 627.76,104.46 628.39,105.03 629.02,105.6 629.64,106.15 630.27,106.69 630.89,107.21 631.52,107.71 632.15,108.2 632.77,108.67 633.4,109.12 634.03,109.55 634.65,109.97 635.28,110.37 635.91,110.74 636.53,111.1 637.16,111.44 637.78,111.76 638.41,112.05 639.04,112.33 639.66,112.58 640.29,112.82 640.92,113.03 641.54,113.22 642.17,113.39 642.79,113.53 643.42,113.65 644.05,113.75 644.67,113.83 645.3,113.89" fill="none" stroke="#d9941e" stroke-width="1.4" />
<line x1="438" y1="79.3" x2="476" y2="79.3" stroke="#5d5fb0" stroke-width="2.6" stroke-dasharray="5.5 3"/>
<line x1="564.5" y1="79.3" x2="602.5" y2="79.3" stroke="#5d5fb0" stroke-width="2.6" stroke-dasharray="5.5 3"/>
<text x="413.1" y="84.8" font-family="Liberation Serif" font-style="italic" font-size="13.5" fill="#1a1a1a">W</text>
<text x="423.7" y="89.2" font-family="Liberation Serif" font-size="9.5" fill="#1a1a1a">1</text>
<text x="427.7" y="81.2" font-family="Liberation Sans" font-size="10" fill="#1a1a1a">−</text>
<text x="483.4" y="84.8" font-family="Liberation Serif" font-style="italic" font-size="13.5" fill="#1a1a1a">W</text>
<text x="494" y="89.2" font-family="Liberation Serif" font-size="9.5" fill="#1a1a1a">1</text>
<text x="498" y="81.2" font-family="Liberation Sans" font-size="10" fill="#1a1a1a">+</text>
<text x="537.9" y="84.8" font-family="Liberation Serif" font-style="italic" font-size="13.5" fill="#1a1a1a">W</text>
<text x="548.5" y="89.2" font-family="Liberation Serif" font-size="9.5" fill="#1a1a1a">2</text>
<text x="552.5" y="81.2" font-family="Liberation Sans" font-size="10" fill="#1a1a1a">+</text>
<text x="608.3" y="84.8" font-family="Liberation Serif" font-style="italic" font-size="13.5" fill="#1a1a1a">W</text>
<text x="618.9" y="89.2" font-family="Liberation Serif" font-size="9.5" fill="#1a1a1a">2</text>
<text x="622.9" y="81.2" font-family="Liberation Sans" font-size="10" fill="#1a1a1a">−</text>
<text x="95.5" y="156.1" font-family="Liberation Sans" font-size="11.6" font-weight="normal" font-style="normal" fill="#000" text-anchor="start" textLength="102.5" lengthAdjust="spacingAndGlyphs" >Three fold Fermions</text>
<line x1="24" y1="225.1" x2="271" y2="225.1" stroke="#c8c8c8" stroke-width="1.3" />
<polygon points="277.5,225.1 270.5,228.95 270.5,221.25" fill="#8c8c8c"/>
<line x1="148.6" y1="282.3" x2="148.6" y2="168" stroke="#8c8c8c" stroke-width="1.3" />
<polygon points="148.6,161.4 152.45,168.4 144.75,168.4" fill="#8c8c8c"/>
<text x="155" y="169.7" font-family="Liberation Sans" font-size="14" font-weight="normal" font-style="italic" fill="#000" text-anchor="start" >E</text>
<text x="265.4" y="218.6" font-family="Liberation Serif" font-size="16" font-weight="normal" font-style="italic" fill="#000" text-anchor="start" >k</text>
<polyline points="48.6,171.9 49.47,173.31 50.33,174.71 51.2,176.1 52.06,177.48 52.93,178.84 53.79,180.19 54.66,181.53 55.52,182.86 56.39,184.17 57.25,185.48 58.12,186.77 58.98,188.05 59.85,189.31 60.71,190.56 61.58,191.81 62.44,193.03 63.31,194.25 64.18,195.45 65.04,196.65 65.91,197.83 66.77,198.99 67.64,200.15 68.5,201.29 69.37,202.42 70.23,203.54 71.1,204.65 71.96,205.74 72.83,206.82 73.69,207.89 74.56,208.95 75.42,209.99 76.29,211.02 77.16,212.04 78.02,213.05 78.89,214.05 79.75,215.03 80.62,216 81.48,216.96 82.35,217.91 83.21,218.84 84.08,219.76 84.94,220.67 85.81,221.57 86.67,222.45 87.54,223.33 88.4,224.19 89.27,225.04 90.13,225.87 91,226.69" fill="none" stroke="#15609f" stroke-width="2.1" />
<polyline points="88,223.79 90.49,226.21 92.98,228.53 95.47,230.75 97.96,232.87 100.45,234.89 102.94,236.8 105.43,238.62 107.92,240.33 110.41,241.94 112.9,243.45 115.39,244.85 117.88,246.16 120.37,247.36 122.86,248.47 125.35,249.47 127.84,250.36 130.33,251.16 132.82,251.86 135.31,252.45 137.8,252.94 140.29,253.33 142.78,253.62 145.27,253.81 147.76,253.89 150.24,253.88 152.73,253.76 155.22,253.54 157.71,253.22 160.2,252.8 162.69,252.27 165.18,251.64 167.67,250.92 170.16,250.09 172.65,249.16 175.14,248.12 177.63,246.99 180.12,245.75 182.61,244.41 185.1,242.97 187.59,241.43 190.08,239.79 192.57,238.05 195.06,236.2 197.55,234.25 200.04,232.2 202.53,230.05 205.02,227.8 207.51,225.44 210,222.99" fill="none" stroke="#15609f" stroke-width="1.4" />
<polyline points="207,225.93 207.84,225.12 208.69,224.29 209.53,223.45 210.38,222.6 211.22,221.74 212.07,220.87 212.91,219.98 213.76,219.09 214.6,218.18 215.45,217.26 216.29,216.32 217.14,215.38 217.98,214.42 218.83,213.46 219.67,212.48 220.52,211.49 221.36,210.49 222.21,209.47 223.05,208.45 223.9,207.41 224.74,206.36 225.59,205.3 226.43,204.23 227.28,203.14 228.12,202.04 228.97,200.94 229.81,199.82 230.66,198.69 231.5,197.54 232.35,196.39 233.19,195.22 234.04,194.04 234.88,192.85 235.73,191.65 236.57,190.44 237.42,189.22 238.26,187.98 239.11,186.73 239.95,185.47 240.8,184.2 241.64,182.92 242.49,181.62 243.33,180.31 244.18,179 245.02,177.67 245.87,176.32 246.71,174.97 247.56,173.6 248.4,172.23" fill="none" stroke="#15609f" stroke-width="2.1" />
<polyline points="48.6,278.9 49.47,277.47 50.33,276.05 51.2,274.65 52.06,273.25 52.93,271.87 53.79,270.51 54.66,269.15 55.52,267.81 56.39,266.48 57.25,265.16 58.12,263.85 58.98,262.56 59.85,261.28 60.71,260.01 61.58,258.75 62.44,257.51 63.31,256.28 64.18,255.06 65.04,253.85 65.91,252.66 66.77,251.48 67.64,250.31 68.5,249.15 69.37,248.01 70.23,246.87 71.1,245.75 71.96,244.65 72.83,243.55 73.69,242.47 74.56,241.4 75.42,240.34 76.29,239.3 77.16,238.27 78.02,237.25 78.89,236.24 79.75,235.24 80.62,234.26 81.48,233.29 82.35,232.33 83.21,231.39 84.08,230.45 84.94,229.53 85.81,228.63 86.67,227.73 87.54,226.85 88.4,225.98 89.27,225.12 90.13,224.27 91,223.44" fill="none" stroke="#111" stroke-width="2.1" />
<polyline points="88,226.38 90.49,223.93 92.98,221.58 95.47,219.33 97.96,217.19 100.45,215.14 102.94,213.21 105.43,211.37 107.92,209.64 110.41,208.01 112.9,206.48 115.39,205.06 117.88,203.73 120.37,202.52 122.86,201.4 125.35,200.39 127.84,199.48 130.33,198.67 132.82,197.97 135.31,197.37 137.8,196.87 140.29,196.47 142.78,196.18 145.27,195.99 147.76,195.91 150.24,195.92 152.73,196.04 155.22,196.26 157.71,196.59 160.2,197.02 162.69,197.55 165.18,198.18 167.67,198.92 170.16,199.76 172.65,200.7 175.14,201.75 177.63,202.9 180.12,204.15 182.61,205.5 185.1,206.96 187.59,208.52 190.08,210.18 192.57,211.95 195.06,213.82 197.55,215.79 200.04,217.86 202.53,220.04 205.02,222.32 207.51,224.7 210,227.19" fill="none" stroke="#111" stroke-width="1.6" />
<polyline points="207,224.21 207.84,225.03 208.69,225.87 209.53,226.72 210.38,227.58 211.22,228.45 212.07,229.34 212.91,230.23 213.76,231.14 214.6,232.06 215.45,232.99 216.29,233.93 217.14,234.89 217.98,235.86 218.83,236.84 219.67,237.83 220.52,238.83 221.36,239.84 222.21,240.87 223.05,241.91 223.9,242.96 224.74,244.02 225.59,245.1 226.43,246.18 227.28,247.28 228.12,248.39 228.97,249.51 229.81,250.64 230.66,251.79 231.5,252.94 232.35,254.11 233.19,255.29 234.04,256.49 234.88,257.69 235.73,258.91 236.57,260.13 237.42,261.37 238.26,262.62 239.11,263.89 239.95,265.16 240.8,266.45 241.64,267.75 242.49,269.06 243.33,270.38 244.18,271.72 245.02,273.06 245.87,274.42 246.71,275.79 247.56,277.17 248.4,278.57" fill="none" stroke="#111" stroke-width="2.1" />
<text x="63.2" y="185.3" font-family="Liberation Serif" font-style="italic" font-size="12">J</text>
<text x="67.5" y="186.7" font-family="Liberation Serif" font-style="italic" font-size="9">z</text>
<text x="74.6" y="184.6" font-family="Liberation Serif" font-size="12">=</text>
<text x="85" y="185.3" font-family="Liberation Serif" font-size="12">±</text>
<text x="95" y="178.8" font-family="Liberation Serif" font-size="10">1</text>
<line x1="94.5" y1="180.8" x2="100" y2="180.8" stroke="#222" stroke-width="0.9"/>
<text x="95" y="189.8" font-family="Liberation Serif" font-size="10">2</text>
<text x="65.5" y="277.7" font-family="Liberation Serif" font-style="italic" font-size="12">J</text>
<text x="69.8" y="279.1" font-family="Liberation Serif" font-style="italic" font-size="9">z</text>
<text x="76.8" y="277.2" font-family="Liberation Serif" font-size="12">=</text>
<text x="87.4" y="271.2" font-family="Liberation Serif" font-size="10">3</text>
<line x1="86.9" y1="273.2" x2="92.4" y2="273.2" stroke="#222" stroke-width="0.9"/>
<text x="87.4" y="282.2" font-family="Liberation Serif" font-size="10">2</text>
<polygon points="389.9,166 390.74,166 391.57,166 392.41,166 393.24,166 394.08,166 394.91,166 395.75,166 396.59,166 397.42,166 398.26,166.32 399.09,167.35 399.93,168.38 400.77,169.39 401.6,170.4 402.44,171.41 403.27,172.4 404.11,173.39 404.94,174.37 405.78,175.34 406.62,176.31 407.45,177.27 408.29,178.22 409.12,179.16 409.96,180.1 410.79,181.03 411.63,181.95 412.47,182.86 413.3,183.77 414.14,184.67 414.97,185.56 415.81,186.44 416.65,187.32 417.48,188.19 418.32,189.05 419.15,189.91 419.99,190.75 420.82,191.59 421.66,192.43 422.5,193.25 423.33,194.07 424.17,194.88 425,195.68 425.84,196.48 426.67,197.27 427.51,198.05 428.35,198.82 429.18,199.58 430.02,200.34 430.85,201.09 431.69,201.84 432.53,202.57 433.36,203.3 434.2,204.02 435.03,204.74 435.87,205.44 436.7,206.14 437.54,206.84 438.38,207.52 439.21,208.2 440.05,208.87 440.88,209.53 441.72,210.18 442.55,210.83 443.39,211.47 444.23,212.1 445.06,212.73 445.9,213.35 446.73,213.96 447.57,214.56 448.41,215.15 449.24,215.74 450.08,216.32 450.91,216.9 451.75,217.46 452.58,218.02 453.42,218.57 454.26,219.11 455.09,219.65 455.93,220.18 456.76,220.7 457.6,221.22 458.43,221.72 459.27,222.22 460.11,222.71 460.94,223.2 461.78,223.67 462.61,224.14 463.45,224.61 464.28,225.06 465.12,225.51 465.96,225.95 466.79,226.38 467.63,226.81 468.46,227.22 469.3,227.63 470.14,228.04 470.97,228.43 471.81,228.82 472.64,229.2 473.48,229.57 474.31,229.94 475.15,230.3 475.99,230.65 476.82,230.99 477.66,231.33 478.49,231.66 479.33,231.98 480.16,232.29 481,232.6 481.84,232.9 482.67,233.19 483.51,233.48 484.34,233.75 485.18,234.02 486.02,234.29 486.85,234.54 487.69,234.79 488.52,235.03 489.36,235.26 490.19,235.49 491.03,235.7 491.87,235.91 492.7,236.12 493.54,236.31 494.37,236.5 495.21,236.68 496.04,236.86 496.88,237.02 497.72,237.18 498.55,237.33 499.39,237.47 500.22,237.61 501.06,237.74 501.9,237.86 502.73,237.98 503.57,238.08 504.4,238.18 505.24,238.27 506.07,238.36 506.91,238.44 507.75,238.51 508.58,238.57 509.42,238.62 510.25,238.67 511.09,238.71 511.92,238.74 512.76,238.77 513.6,238.79 514.43,238.8 515.27,238.8 516.1,238.8 516.94,238.78 517.78,238.76 518.61,238.74 519.45,238.7 520.28,238.66 521.12,238.61 521.95,238.56 522.79,238.49 523.63,238.42 524.46,238.35 525.3,238.26 526.13,238.17 526.97,238.07 527.8,237.96 528.64,237.84 529.48,237.72 530.31,237.59 531.15,237.45 531.98,237.31 532.82,237.15 533.66,236.99 534.49,236.83 535.33,236.65 536.16,236.47 537,236.28 537.83,236.08 538.67,235.88 539.51,235.67 540.34,235.45 541.18,235.22 542.01,234.99 542.85,234.75 543.68,234.5 544.52,234.24 545.36,233.98 546.19,233.71 547.03,233.43 547.86,233.15 548.7,232.85 549.54,232.55 550.37,232.24 551.21,231.93 552.04,231.61 552.88,231.28 553.71,230.94 554.55,230.59 555.39,230.24 556.22,229.88 557.06,229.51 557.89,229.14 558.73,228.76 559.56,228.37 560.4,227.97 561.24,227.57 562.07,227.16 562.91,226.74 563.74,226.31 564.58,225.88 565.42,225.44 566.25,224.99 567.09,224.53 567.92,224.07 568.76,223.6 569.59,223.12 570.43,222.63 571.27,222.14 572.1,221.64 572.94,221.13 573.77,220.62 574.61,220.09 575.44,219.56 576.28,219.03 577.12,218.48 577.95,217.93 578.79,217.37 579.62,216.8 580.46,216.23 581.29,215.65 582.13,215.06 582.97,214.46 583.8,213.86 584.64,213.25 585.47,212.63 586.31,212 587.15,211.37 587.98,210.73 588.82,210.08 589.65,209.42 590.49,208.76 591.32,208.09 592.16,207.41 593,206.72 593.83,206.03 594.67,205.33 595.5,204.62 596.34,203.91 597.17,203.18 598.01,202.45 598.85,201.72 599.68,200.97 600.52,200.22 601.35,199.46 602.19,198.69 603.03,197.92 603.86,197.14 604.7,196.35 605.53,195.55 606.37,194.75 607.2,193.94 608.04,193.12 608.88,192.29 609.71,191.46 610.55,190.62 611.38,189.77 612.22,188.91 613.05,188.05 613.89,187.18 614.73,186.3 615.56,185.42 616.4,184.52 617.23,183.62 618.07,182.71 618.91,181.8 619.74,180.88 620.58,179.95 621.41,179.01 622.25,178.07 623.08,177.11 623.92,176.15 624.76,175.19 625.59,174.21 626.43,173.23 627.26,172.24 628.1,171.25 628.93,170.24 629.77,169.23 630.61,168.21 631.44,167.19 632.28,166.15 633.11,166 633.95,166 634.79,166 635.62,166 636.46,166 637.29,166 638.13,166 638.96,166 639.8,166 639.8,183.96 638.96,185.09 638.13,186.2 637.29,187.3 636.46,188.4 635.62,189.49 634.79,190.58 633.95,191.65 633.11,192.72 632.28,193.78 631.44,194.83 630.61,195.88 629.77,196.92 628.93,197.95 628.1,198.97 627.26,199.99 626.43,200.99 625.59,201.99 624.76,202.99 623.92,203.97 623.08,204.95 622.25,205.92 621.41,206.88 620.58,207.84 619.74,208.78 618.91,209.72 618.07,210.66 617.23,211.58 616.4,212.5 615.56,213.41 614.73,214.31 613.89,215.2 613.05,216.09 612.22,216.97 611.38,217.84 610.55,218.71 609.71,219.56 608.88,220.41 608.04,221.26 607.2,222.09 606.37,222.92 605.53,223.74 604.7,224.55 603.86,225.35 603.03,226.15 602.19,226.94 601.35,227.72 600.52,228.49 599.68,229.26 598.85,230.02 598.01,230.77 597.17,231.51 596.34,232.25 595.5,232.98 594.67,233.7 593.83,234.41 593,235.12 592.16,235.82 591.32,236.51 590.49,237.19 589.65,237.87 588.82,238.53 587.98,239.2 587.15,239.85 586.31,240.49 585.47,241.13 584.64,241.76 583.8,242.39 582.97,243 582.13,243.61 581.29,244.21 580.46,244.8 579.62,245.39 578.79,245.97 577.95,246.54 577.12,247.1 576.28,247.65 575.44,248.2 574.61,248.74 573.77,249.27 572.94,249.8 572.1,250.32 571.27,250.83 570.43,251.33 569.59,251.82 568.76,252.31 567.92,252.79 567.09,253.26 566.25,253.73 565.42,254.18 564.58,254.63 563.74,255.08 562.91,255.51 562.07,255.94 561.24,256.36 560.4,256.77 559.56,257.17 558.73,257.57 557.89,257.96 557.06,258.34 556.22,258.71 555.39,259.08 554.55,259.44 553.71,259.79 552.88,260.13 552.04,260.47 551.21,260.8 550.37,261.12 549.54,261.43 548.7,261.74 547.86,262.04 547.03,262.33 546.19,262.61 545.36,262.89 544.52,263.16 543.68,263.42 542.85,263.67 542.01,263.92 541.18,264.16 540.34,264.39 539.51,264.61 538.67,264.83 537.83,265.03 537,265.23 536.16,265.43 535.33,265.61 534.49,265.79 533.66,265.96 532.82,266.12 531.98,266.28 531.15,266.43 530.31,266.57 529.48,266.7 528.64,266.82 527.8,266.94 526.97,267.05 526.13,267.15 525.3,267.25 524.46,267.34 523.63,267.42 522.79,267.49 521.95,267.55 521.12,267.61 520.28,267.66 519.45,267.7 518.61,267.74 517.78,267.76 516.94,267.78 516.1,267.8 515.27,267.8 514.43,267.8 513.6,267.79 512.76,267.77 511.92,267.74 511.09,267.71 510.25,267.67 509.42,267.62 508.58,267.56 507.75,267.5 506.91,267.43 506.07,267.35 505.24,267.26 504.4,267.17 503.57,267.07 502.73,266.96 501.9,266.84 501.06,266.72 500.22,266.59 499.39,266.45 498.55,266.3 497.72,266.15 496.88,265.99 496.04,265.82 495.21,265.64 494.37,265.46 493.54,265.27 492.7,265.07 491.87,264.86 491.03,264.65 490.19,264.42 489.36,264.19 488.52,263.96 487.69,263.71 486.85,263.46 486.02,263.2 485.18,262.93 484.34,262.66 483.51,262.38 482.67,262.09 481.84,261.79 481,261.48 480.16,261.17 479.33,260.85 478.49,260.52 477.66,260.19 476.82,259.85 475.99,259.5 475.15,259.14 474.31,258.77 473.48,258.4 472.64,258.02 471.81,257.63 470.97,257.24 470.14,256.83 469.3,256.42 468.46,256 467.63,255.58 466.79,255.15 465.96,254.71 465.12,254.26 464.28,253.8 463.45,253.34 462.61,252.87 461.78,252.39 460.94,251.9 460.11,251.41 459.27,250.91 458.43,250.4 457.6,249.88 456.76,249.36 455.93,248.83 455.09,248.29 454.26,247.74 453.42,247.19 452.58,246.63 451.75,246.06 450.91,245.48 450.08,244.9 449.24,244.31 448.41,243.71 447.57,243.1 446.73,242.49 445.9,241.86 445.06,241.24 444.23,240.6 443.39,239.95 442.55,239.3 441.72,238.64 440.88,237.98 440.05,237.3 439.21,236.62 438.38,235.93 437.54,235.23 436.7,234.53 435.87,233.81 435.03,233.1 434.2,232.37 433.36,231.63 432.53,230.89 431.69,230.14 430.85,229.38 430.02,228.62 429.18,227.84 428.35,227.06 427.51,226.28 426.67,225.48 425.84,224.68 425,223.87 424.17,223.05 423.33,222.22 422.5,221.39 421.66,220.55 420.82,219.7 419.99,218.85 419.15,217.98 418.32,217.11 417.48,216.24 416.65,215.35 415.81,214.46 414.97,213.56 414.14,212.65 413.3,211.73 412.47,210.81 411.63,209.88 410.79,208.94 409.96,207.99 409.12,207.04 408.29,206.08 407.45,205.11 406.62,204.13 405.78,203.15 404.94,202.16 404.11,201.16 403.27,200.15 402.44,199.14 401.6,198.11 400.77,197.09 399.93,196.05 399.09,195 398.26,193.95 397.42,192.89 396.59,191.83 395.75,190.75 394.91,189.67 394.08,188.58 393.24,187.48 392.41,186.38 391.57,185.27 390.74,184.15 389.9,183.02" fill="#5cc4f2"/>
<line x1="389.9" y1="224.3" x2="642" y2="224.3" stroke="#b8b8b8" stroke-width="1.2" />
<polygon points="649,224.3 642,228.15 642,220.45" fill="#8c8c8c"/>
<line x1="515.1" y1="282.3" x2="515.1" y2="165" stroke="#a0a0a0" stroke-width="1.2" />
<polygon points="515.1,158.9 518.95,165.9 511.25,165.9" fill="#8c8c8c"/>
<text x="520.6" y="168.2" font-family="Liberation Sans" font-size="14" font-weight="normal" font-style="italic" fill="#000" text-anchor="start" >E</text>
<text x="639.8" y="219.3" font-family="Liberation Serif" font-size="16" font-weight="normal" font-style="italic" fill="#000" text-anchor="start" >k</text>
<polyline points="398.53,166.65 399.15,167.42 399.78,168.19 400.4,168.95 401.03,169.71 401.65,170.47 402.28,171.22 402.9,171.96 403.53,172.7 404.15,173.44 404.78,174.18 405.4,174.9 406.03,175.63 406.65,176.35 407.28,177.07 407.9,177.78 408.53,178.49 409.15,179.2 409.78,179.9 410.4,180.59 411.03,181.28 411.65,181.97 412.28,182.66 412.9,183.34 413.53,184.01 414.15,184.68 414.78,185.35 415.4,186.01 416.03,186.67 416.65,187.33 417.28,187.98 417.9,188.63 418.53,189.27 419.15,189.91 419.78,190.54 420.4,191.17 421.03,191.8 421.65,192.42 422.28,193.04 422.9,193.65 423.53,194.26 424.15,194.87 424.78,195.47 425.4,196.06 426.03,196.66 426.65,197.25 427.28,197.83 427.9,198.41 428.53,198.99 429.15,199.56 429.78,200.13 430.4,200.69 431.03,201.25 431.65,201.81 432.28,202.36 432.9,202.91 433.53,203.45 434.15,203.99 434.78,204.52 435.4,205.05 436.03,205.58 436.65,206.1 437.28,206.62 437.9,207.13 438.53,207.64 439.15,208.15 439.78,208.65 440.41,209.15 441.03,209.64 441.66,210.13 442.28,210.62 442.91,211.1 443.53,211.58 444.16,212.05 444.78,212.52 445.41,212.98 446.03,213.44 446.66,213.9 447.28,214.35 447.91,214.8 448.53,215.24 449.16,215.68 449.78,216.12 450.41,216.55 451.03,216.98 451.66,216.81" fill="none" stroke="#c0232b" stroke-width="2.0" />
<polyline points="578.54,216.67 579.17,217.11 579.79,216.69 580.42,216.26 581.04,215.82 581.67,215.38 582.29,214.94 582.92,214.49 583.54,214.04 584.17,213.59 584.79,213.13 585.42,212.67 586.04,212.2 586.67,211.73 587.29,211.25 587.92,210.77 588.54,210.29 589.17,209.8 589.79,209.31 590.42,208.81 591.05,208.31 591.67,207.81 592.3,207.3 592.92,206.79 593.55,206.27 594.17,205.75 594.8,205.22 595.42,204.69 596.05,204.16 596.67,203.62 597.3,203.08 597.92,202.53 598.55,201.98 599.17,201.43 599.8,200.87 600.42,200.31 601.05,199.74 601.67,199.17 602.3,198.6 602.92,198.02 603.55,197.43 604.17,196.85 604.8,196.25 605.42,195.66 606.05,195.06 606.67,194.45 607.3,193.85 607.92,193.23 608.55,192.62 609.17,192 609.8,191.37 610.42,190.74 611.05,190.11 611.67,189.47 612.3,188.83 612.92,188.19 613.55,187.54 614.17,186.88 614.8,186.23 615.42,185.56 616.05,184.9 616.67,184.23 617.3,183.55 617.92,182.87 618.55,182.19 619.17,181.51 619.8,180.81 620.42,180.12 621.05,179.42 621.67,178.72 622.3,178.01 622.92,177.3 623.55,176.58 624.17,175.86 624.8,175.14 625.42,174.41 626.05,173.68 626.67,172.94 627.3,172.2 627.92,171.45 628.55,170.71 629.17,169.95 629.8,169.2 630.42,168.43 631.05,167.67 631.67,166.9 632.3,166.13" fill="none" stroke="#c0232b" stroke-width="2.0" />
<polyline points="450.41,216.55 451.03,216.98 451.66,216.81 452.28,216.37 452.91,215.94 453.53,215.52 454.16,215.09 454.78,214.68 455.41,214.26 456.03,213.85 456.66,213.45 457.28,213.05 457.91,212.65 458.53,212.26 459.16,211.87 459.78,211.49 460.41,211.11 461.03,210.74 461.66,210.37 462.28,210 462.91,209.64 463.53,209.28 464.16,208.93 464.78,208.58 465.41,208.24 466.03,207.9 466.66,207.56 467.28,207.23 467.91,206.9 468.53,206.58 469.16,206.26 469.78,205.94 470.41,205.63 471.03,205.33 471.66,205.03 472.28,204.73 472.91,204.44 473.53,204.15 474.16,203.86 474.78,203.58 475.41,203.31 476.03,203.04 476.66,202.77 477.28,202.51 477.91,202.25 478.53,201.99 479.16,201.74 479.78,201.5 480.41,201.26 481.03,201.02 481.66,200.79 482.28,200.56 482.91,200.33 483.53,200.11 484.16,199.9 484.78,199.69 485.41,199.48 486.03,199.28 486.66,199.08 487.28,198.89 487.91,198.7 488.53,198.51 489.16,198.33 489.78,198.15 490.41,197.98 491.04,197.81 491.66,197.65 492.29,197.49 492.91,197.33 493.54,197.18 494.16,197.03 494.79,196.89 495.41,196.75 496.04,196.62 496.66,196.49 497.29,196.37 497.91,196.24 498.54,196.13 499.16,196.01 499.79,195.91 500.41,195.8 501.04,195.7 501.66,195.61 502.29,195.52 502.91,195.43 503.54,195.35 504.16,195.27 504.79,195.2 505.41,195.13 506.04,195.06 506.66,195 507.29,194.94 507.91,194.89 508.54,194.84 509.16,194.8 509.79,194.76 510.41,194.73 511.04,194.7 511.66,194.67 512.29,194.65 512.91,194.63 513.54,194.62 514.16,194.61 514.79,194.6 515.41,194.6 516.04,194.6 516.66,194.61 517.29,194.62 517.91,194.64 518.54,194.66 519.16,194.69 519.79,194.72 520.41,194.75 521.04,194.79 521.66,194.83 522.29,194.88 522.91,194.93 523.54,194.98 524.16,195.04 524.79,195.11 525.41,195.17 526.04,195.25 526.66,195.32 527.29,195.4 527.91,195.49 528.54,195.58 529.16,195.67 529.79,195.77 530.41,195.87 531.04,195.98 531.66,196.09 532.29,196.21 532.91,196.33 533.54,196.45 534.16,196.58 534.79,196.71 535.41,196.85 536.04,196.99 536.66,197.13 537.29,197.28 537.91,197.44 538.54,197.6 539.16,197.76 539.79,197.93 540.42,198.1 541.04,198.27 541.67,198.45 542.29,198.64 542.92,198.82 543.54,199.02 544.17,199.21 544.79,199.42 545.42,199.62 546.04,199.83 546.67,200.05 547.29,200.26 547.92,200.49 548.54,200.71 549.17,200.95 549.79,201.18 550.42,201.42 551.04,201.67 551.67,201.91 552.29,202.17 552.92,202.42 553.54,202.69 554.17,202.95 554.79,203.22 555.42,203.5 556.04,203.77 556.67,204.06 557.29,204.34 557.92,204.64 558.54,204.93 559.17,205.23 559.79,205.54 560.42,205.85 561.04,206.16 561.67,206.48 562.29,206.8 562.92,207.12 563.54,207.45 564.17,207.79 564.79,208.13 565.42,208.47 566.04,208.82 566.67,209.17 567.29,209.53 567.92,209.89 568.54,210.25 569.17,210.62 569.79,210.99 570.42,211.37 571.04,211.75 571.67,212.14 572.29,212.53 572.92,212.92 573.54,213.32 574.17,213.73 574.79,214.13 575.42,214.54 576.04,214.96 576.67,215.38 577.29,215.81 577.92,216.24 578.54,216.67 579.17,217.11 579.79,216.69" fill="none" stroke="#c0232b" stroke-width="1.3" />
<polyline points="390.4,183.69 391.03,184.54 391.65,185.37 392.28,186.2 392.9,187.03 393.53,187.85 394.15,188.67 394.78,189.49 395.4,190.3 396.03,191.11 396.65,191.91 397.28,192.71 397.9,193.5 398.53,194.29 399.15,195.08 399.78,195.86 400.4,196.63 401.03,197.41 401.65,198.18 402.28,198.94 402.9,199.7 403.53,200.46 404.15,201.21 404.78,201.96 405.4,202.7 406.03,203.44 406.65,204.17 407.28,204.9 407.9,205.63 408.53,206.35 409.15,207.07 409.78,207.78 410.4,208.49 411.03,209.2 411.65,209.9 412.28,210.6 412.9,211.29 413.53,211.98 414.15,212.66 414.78,213.34 415.4,214.02 416.03,214.69 416.65,215.36 417.28,216.02 417.9,216.68 418.53,217.33 419.15,217.98 419.78,218.63 420.4,219.27 421.03,219.91 421.65,220.54 422.28,221.17 422.9,221.8 423.53,222.42 424.15,223.04 424.78,223.65 425.4,224.26 426.03,224.86 426.65,225.46 427.28,226.06 427.9,226.65 428.53,227.24 429.15,227.82 429.78,228.4 430.4,228.97 431.03,229.54 431.65,230.11 432.28,230.67 432.9,231.23 433.53,231.29 434.15,230.73 434.78,230.17 435.4,229.62 436.03,229.07 436.65,228.53 437.28,227.99 437.9,227.46 438.53,226.93 439.15,226.41 439.78,225.89 440.41,225.37 441.03,224.86 441.66,224.35 442.28,223.85 442.91,223.35 443.53,222.85 444.16,222.36 444.78,221.87 445.41,221.39 446.03,220.91 446.66,220.44 447.28,219.97 447.91,219.51 448.53,219.05 449.16,218.59 449.78,218.14 450.41,217.69 451.03,217.25 451.66,217.4 452.28,217.82 452.91,218.23 453.53,218.64 454.16,219.05 454.78,219.45 455.41,219.85 456.03,220.25 456.66,220.64 457.28,221.02 457.91,221.4 458.53,221.78 459.16,222.15 459.78,222.52 460.41,222.89 461.03,223.25 461.66,223.61 462.28,223.96 462.91,224.31 463.53,224.65 464.16,224.99 464.78,225.33 465.41,225.66 466.03,225.99 466.66,226.31 467.28,226.63 467.91,226.95 468.53,227.26 469.16,227.56 469.78,227.87 470.41,228.17 471.03,228.46 471.66,228.75 472.28,229.04 472.91,229.32 473.53,229.6 474.16,229.87 474.78,230.14 475.41,230.41 476.03,230.67 476.66,230.93 477.28,231.18 477.91,231.43 478.53,231.67 479.16,231.92 479.78,232.15 480.41,232.38 481.03,232.61 481.66,232.84 482.28,233.06 482.91,233.27 483.53,233.49 484.16,233.69 484.78,233.9 485.41,234.1 486.03,234.29 486.66,234.48 487.28,234.67 487.91,234.85 488.53,235.03 489.16,235.21 489.78,235.38 490.41,235.54 491.04,235.71 491.66,235.86 492.29,236.02 492.91,236.17 493.54,236.31 494.16,236.45 494.79,236.59 495.41,236.72 496.04,236.85 496.66,236.98 497.29,237.1 497.91,237.22 498.54,237.33 499.16,237.44 499.79,237.54 500.41,237.64 501.04,237.74 501.66,237.83 502.29,237.92 502.91,238 503.54,238.08 504.16,238.15 504.79,238.23 505.41,238.29 506.04,238.35 506.66,238.41 507.29,238.47 507.91,238.52 508.54,238.56 509.16,238.61 509.79,238.64 510.41,238.68 511.04,238.71 511.66,238.73 512.29,238.76 512.91,238.77 513.54,238.79 514.16,238.79 514.79,238.8 515.41,238.8 516.04,238.8 516.66,238.79 517.29,238.78 517.91,238.76 518.54,238.74 519.16,238.72 519.79,238.69 520.41,238.66 521.04,238.62 521.66,238.58 522.29,238.53 522.91,238.48 523.54,238.43 524.16,238.37 524.79,238.31 525.41,238.25 526.04,238.18 526.66,238.1 527.29,238.03 527.91,237.94 528.54,237.86 529.16,237.77 529.79,237.67 530.41,237.57 531.04,237.47 531.66,237.36 532.29,237.25 532.91,237.14 533.54,237.02 534.16,236.89 534.79,236.77 535.41,236.63 536.04,236.5 536.66,236.36 537.29,236.21 537.91,236.07 538.54,235.91 539.16,235.76 539.79,235.6 540.42,235.43 541.04,235.26 541.67,235.09 542.29,234.91 542.92,234.73 543.54,234.54 544.17,234.35 544.79,234.16 545.42,233.96 546.04,233.76 546.67,233.55 547.29,233.34 547.92,233.13 548.54,232.91 549.17,232.69 549.79,232.46 550.42,232.23 551.04,231.99 551.67,231.75 552.29,231.51 552.92,231.26 553.54,231.01 554.17,230.75 554.79,230.49 555.42,230.23 556.04,229.96 556.67,229.69 557.29,229.41 557.92,229.13 558.54,228.84 559.17,228.55 559.79,228.26 560.42,227.96 561.04,227.66 561.67,227.36 562.29,227.05 562.92,226.73 563.54,226.41 564.17,226.09 564.79,225.77 565.42,225.43 566.04,225.1 566.67,224.76 567.29,224.42 567.92,224.07 568.54,223.72 569.17,223.36 569.79,223 570.42,222.64 571.04,222.27 571.67,221.9 572.29,221.52 572.92,221.14 573.54,220.76 574.17,220.37 574.79,219.98 575.42,219.58 576.04,219.18 576.67,218.77 577.29,218.37 577.92,217.95 578.54,217.53 579.17,217.11 579.79,217.55 580.42,217.99 581.04,218.44 581.67,218.9 582.29,219.36 582.92,219.82 583.54,220.29 584.17,220.76 584.79,221.24 585.42,221.72 586.04,222.2 586.67,222.69 587.29,223.19 587.92,223.68 588.54,224.19 589.17,224.69 589.79,225.2 590.42,225.72 591.05,226.24 591.67,226.76 592.3,227.29 592.92,227.82 593.55,228.36 594.17,228.9 594.8,229.44 595.42,229.99 596.05,230.55 596.67,231.11 597.3,231.41 597.92,230.85 598.55,230.29 599.17,229.72 599.8,229.15 600.42,228.58 601.05,228 601.67,227.42 602.3,226.84 602.92,226.25 603.55,225.65 604.17,225.05 604.8,224.45 605.42,223.84 606.05,223.23 606.67,222.62 607.3,222 607.92,221.37 608.55,220.75 609.17,220.11 609.8,219.48 610.42,218.84 611.05,218.19 611.67,217.54 612.3,216.89 612.92,216.23 613.55,215.57 614.17,214.9 614.8,214.23 615.42,213.56 616.05,212.88 616.67,212.2 617.3,211.51 617.92,210.82 618.55,210.12 619.17,209.42 619.8,208.72 620.42,208.01 621.05,207.3 621.67,206.58 622.3,205.86 622.92,205.14 623.55,204.41 624.17,203.67 624.8,202.94 625.42,202.19 626.05,201.45 626.67,200.7 627.3,199.94 627.92,199.18 628.55,198.42 629.17,197.65 629.8,196.88 630.42,196.11 631.05,195.33 631.67,194.54 632.3,193.75 632.92,192.96 633.55,192.16 634.17,191.36 634.8,190.56 635.42,189.75 636.05,188.93 636.67,188.12 637.3,187.29 637.92,186.47 638.55,185.64 639.17,184.8 639.8,183.96" fill="none" stroke="#d9941e" stroke-width="1.4" />
<polyline points="392.28,277.71 392.9,276.86 393.53,276.03 394.15,275.19 394.78,274.36 395.4,273.54 396.03,272.71 396.65,271.9 397.28,271.08 397.9,270.28 398.53,269.47 399.15,268.67 399.78,267.87 400.4,267.08 401.03,266.3 401.65,265.51 402.28,264.73 402.9,263.96 403.53,263.19 404.15,262.42 404.78,261.66 405.4,260.91 406.03,260.15 406.65,259.41 407.28,258.66 407.9,257.92 408.53,257.19 409.15,256.45 409.78,255.73 410.4,255 411.03,254.29 411.65,253.57 412.28,252.86 412.9,252.16 413.53,251.46 414.15,250.76 414.78,250.07 415.4,249.38 416.03,248.69 416.65,248.01 417.28,247.34 417.9,246.67 418.53,246 419.15,245.34 419.78,244.68 420.4,244.03 421.03,243.38 421.65,242.73 422.28,242.09 422.9,241.45 423.53,240.82 424.15,240.19 424.78,239.57 425.4,238.95 426.03,238.33 426.65,237.72 427.28,237.12 427.9,236.51 428.53,235.92 429.15,235.32 429.78,234.73 430.4,234.15 431.03,233.57 431.65,232.99 432.28,232.42 432.9,231.85 433.53,231.78 434.15,232.33 434.78,232.88 435.4,233.42 436.03,233.95 436.65,234.49 437.28,235.01 437.9,235.54 438.53,236.06 439.15,236.57 439.78,237.08 440.41,237.59 441.03,238.09 441.66,238.59 442.28,239.09 442.91,239.58 443.53,240.06 444.16,240.54 444.78,241.02 445.41,241.5 446.03,241.96 446.66,242.43 447.28,242.89 447.91,243.35 448.53,243.8 449.16,244.25 449.78,244.69 450.41,245.13 451.03,245.56 451.66,246 452.28,246.42 452.91,246.85 453.53,247.26 454.16,247.68 454.78,248.09 455.41,248.49 456.03,248.9 456.66,249.29 457.28,249.69 457.91,250.07 458.53,250.46 459.16,250.84 459.78,251.22 460.41,251.59 461.03,251.96 461.66,252.32 462.28,252.68 462.91,253.03 463.53,253.38 464.16,253.73 464.78,254.07 465.41,254.41 466.03,254.75 466.66,255.08 467.28,255.4 467.91,255.72 468.53,256.04 469.16,256.35 469.78,256.66 470.41,256.97 471.03,257.27 471.66,257.56 472.28,257.85 472.91,258.14 473.53,258.42 474.16,258.7 474.78,258.98 475.41,259.25 476.03,259.52 476.66,259.78 477.28,260.04 477.91,260.29 478.53,260.54 479.16,260.79 479.78,261.03 480.41,261.26 481.03,261.5 481.66,261.73 482.28,261.95 482.91,262.17 483.53,262.39 484.16,262.6 484.78,262.8 485.41,263.01 486.03,263.21 486.66,263.4 487.28,263.59 487.91,263.78 488.53,263.96 489.16,264.14 489.78,264.31 490.41,264.48 491.04,264.65 491.66,264.81 492.29,264.96 492.91,265.12 493.54,265.27 494.16,265.41 494.79,265.55 495.41,265.69 496.04,265.82 496.66,265.94 497.29,266.07 497.91,266.19 498.54,266.3 499.16,266.41 499.79,266.52 500.41,266.62 501.04,266.72 501.66,266.81 502.29,266.9 502.91,266.98 503.54,267.07 504.16,267.14 504.79,267.21 505.41,267.28 506.04,267.35 506.66,267.41 507.29,267.46 507.91,267.51 508.54,267.56 509.16,267.6 509.79,267.64 510.41,267.68 511.04,267.71 511.66,267.73 512.29,267.75 512.91,267.77 513.54,267.79 514.16,267.79 514.79,267.8 515.41,267.8 516.04,267.8 516.66,267.79 517.29,267.78 517.91,267.76 518.54,267.74 519.16,267.72 519.79,267.69 520.41,267.65 521.04,267.62 521.66,267.57 522.29,267.53 522.91,267.48 523.54,267.42 524.16,267.37 524.79,267.3 525.41,267.24 526.04,267.17 526.66,267.09 527.29,267.01 527.91,266.93 528.54,266.84 529.16,266.75 529.79,266.65 530.41,266.55 531.04,266.45 531.66,266.34 532.29,266.22 532.91,266.11 533.54,265.98 534.16,265.86 534.79,265.73 535.41,265.59 536.04,265.45 536.66,265.31 537.29,265.17 537.91,265.01 538.54,264.86 539.16,264.7 539.79,264.53 540.42,264.37 541.04,264.19 541.67,264.02 542.29,263.84 542.92,263.65 543.54,263.46 544.17,263.27 544.79,263.07 545.42,262.87 546.04,262.66 546.67,262.45 547.29,262.24 547.92,262.02 548.54,261.8 549.17,261.57 549.79,261.34 550.42,261.1 551.04,260.86 551.67,260.62 552.29,260.37 552.92,260.12 553.54,259.86 554.17,259.6 554.79,259.34 555.42,259.07 556.04,258.79 556.67,258.51 557.29,258.23 557.92,257.95 558.54,257.66 559.17,257.36 559.79,257.06 560.42,256.76 561.04,256.45 561.67,256.14 562.29,255.82 562.92,255.5 563.54,255.18 564.17,254.85 564.79,254.52 565.42,254.18 566.04,253.84 566.67,253.5 567.29,253.15 567.92,252.79 568.54,252.43 569.17,252.07 569.79,251.71 570.42,251.34 571.04,250.96 571.67,250.58 572.29,250.2 572.92,249.81 573.54,249.42 574.17,249.02 574.79,248.62 575.42,248.22 576.04,247.81 576.67,247.4 577.29,246.98 577.92,246.56 578.54,246.13 579.17,245.7 579.79,245.27 580.42,244.83 581.04,244.39 581.67,243.94 582.29,243.49 582.92,243.04 583.54,242.58 584.17,242.11 584.79,241.65 585.42,241.17 586.04,240.7 586.67,240.22 587.29,239.73 587.92,239.24 588.54,238.75 589.17,238.25 589.79,237.75 590.42,237.25 591.05,236.74 591.67,236.22 592.3,235.7 592.92,235.18 593.55,234.65 594.17,234.12 594.8,233.59 595.42,233.05 596.05,232.51 596.67,231.96 597.3,231.67 597.92,232.24 598.55,232.81 599.17,233.38 599.8,233.96 600.42,234.54 601.05,235.13 601.67,235.72 602.3,236.32 602.92,236.92 603.55,237.53 604.17,238.14 604.8,238.75 605.42,239.37 606.05,239.99 606.67,240.62 607.3,241.25 607.92,241.89 608.55,242.53 609.17,243.17 609.8,243.82 610.42,244.47 611.05,245.13 611.67,245.79 612.3,246.45 612.92,247.12 613.55,247.8 614.17,248.48 614.8,249.16 615.42,249.85 616.05,250.54 616.67,251.23 617.3,251.93 617.92,252.64 618.55,253.34 619.17,254.06 619.8,254.77 620.42,255.5 621.05,256.22 621.67,256.95 622.3,257.69 622.92,258.42 623.55,259.17 624.17,259.91 624.8,260.67 625.42,261.42 626.05,262.18 626.67,262.95 627.3,263.71 627.92,264.49 628.55,265.26 629.17,266.05 629.8,266.83 630.42,267.62 631.05,268.42 631.67,269.21 632.3,270.02 632.92,270.82 633.55,271.64 634.17,272.45 634.8,273.27 635.42,274.1 636.05,274.93 636.67,275.76 637.3,276.6 637.92,277.44 638.55,278.28" fill="none" stroke="#111" stroke-width="1.9" />
<polyline points="433.3,233.95 435.38,234.37 437.45,234.78 439.53,235.18 441.6,235.58 443.68,235.95 445.76,236.32 447.83,236.68 449.91,237.03 451.98,237.36 454.06,237.69 456.14,238 458.21,238.31 460.29,238.6 462.36,238.88 464.44,239.15 466.52,239.41 468.59,239.66 470.67,239.9 472.74,240.13 474.82,240.35 476.89,240.55 478.97,240.75 481.05,240.93 483.12,241.1 485.2,241.27 487.27,241.42 489.35,241.56 491.43,241.69 493.5,241.81 495.58,241.91 497.65,242.01 499.73,242.1 501.81,242.17 503.88,242.24 505.96,242.29 508.03,242.34 510.11,242.37 512.19,242.39 514.26,242.4 516.34,242.4 518.41,242.39 520.49,242.36 522.57,242.33 524.64,242.29 526.72,242.23 528.79,242.17 530.87,242.09 532.95,242 535.02,241.9 537.1,241.8 539.17,241.68 541.25,241.55 543.33,241.4 545.4,241.25 547.48,241.09 549.55,240.91 551.63,240.73 553.71,240.53 555.78,240.33 557.86,240.11 559.93,239.88 562.01,239.64 564.08,239.39 566.16,239.13 568.24,238.86 570.31,238.57 572.39,238.28 574.46,237.97 576.54,237.66 578.62,237.33 580.69,237 582.77,236.65 584.84,236.29 586.92,235.92 589,235.54 591.07,235.15 593.15,234.74 595.22,234.33 597.3,233.91" fill="none" stroke="#6264b8" stroke-width="2.6" stroke-dasharray="6 3.5"/>
<polyline points="450.8,217.33 449.25,216.6 447.69,215.85 446.14,215.08 444.58,214.3 443.03,213.5 441.48,212.68 439.92,211.84 438.37,210.99 436.82,210.12 435.26,209.23 433.71,208.33 432.15,207.4 430.6,206.46 429.05,205.5 427.49,204.53 425.94,203.54 424.38,202.53 422.83,201.5 421.28,200.45 419.72,199.39 418.17,198.31 416.62,197.21 415.06,196.1 413.51,194.97 411.95,193.82 410.4,192.65 408.85,191.47 407.29,190.26 405.74,189.05 404.18,187.81 402.63,186.55 401.08,185.28 399.52,183.99 397.97,182.69 396.42,181.36 394.86,180.02 393.31,178.66 391.75,177.29 390.2,175.89" fill="none" stroke="#6264b8" stroke-width="2.6" stroke-dasharray="6 3.5"/>
<polyline points="579.6,217.33 581.15,216.6 582.71,215.85 584.26,215.08 585.82,214.3 587.37,213.5 588.92,212.68 590.48,211.84 592.03,210.99 593.58,210.12 595.14,209.23 596.69,208.33 598.25,207.4 599.8,206.46 601.35,205.5 602.91,204.53 604.46,203.54 606.02,202.53 607.57,201.5 609.12,200.45 610.68,199.39 612.23,198.31 613.78,197.21 615.34,196.1 616.89,194.97 618.45,193.82 620,192.65 621.55,191.47 623.11,190.26 624.66,189.05 626.22,187.81 627.77,186.55 629.32,185.28 630.88,183.99 632.43,182.69 633.98,181.36 635.54,180.02 637.09,178.66 638.65,177.29 640.2,175.89" fill="none" stroke="#6264b8" stroke-width="2.6" stroke-dasharray="6 3.5"/>
<text x="459" y="220.8" font-family="Liberation Serif" font-style="italic" font-size="13.5" fill="#1a1a1a">W</text>
<text x="469.6" y="225.2" font-family="Liberation Serif" font-size="9.5" fill="#1a1a1a">2</text>
<text x="473.6" y="217.2" font-family="Liberation Sans" font-size="10" fill="#1a1a1a">+</text>
<text x="407.5" y="235.2" font-family="Liberation Serif" font-style="italic" font-size="13.5" fill="#1a1a1a">W</text>
<text x="418.1" y="239.6" font-family="Liberation Serif" font-size="9.5" fill="#1a1a1a">1</text>
<text x="422.1" y="231.6" font-family="Liberation Sans" font-size="10" fill="#1a1a1a">−</text>
<text x="552.6" y="220.8" font-family="Liberation Serif" font-style="italic" font-size="13.5" fill="#1a1a1a">W</text>
<text x="563.2" y="225.2" font-family="Liberation Serif" font-size="9.5" fill="#1a1a1a">2</text>
<text x="567.2" y="217.2" font-family="Liberation Sans" font-size="10" fill="#1a1a1a">−</text>
<text x="602.9" y="235.4" font-family="Liberation Serif" font-style="italic" font-size="13.5" fill="#1a1a1a">W</text>
<text x="613.5" y="239.8" font-family="Liberation Serif" font-size="9.5" fill="#1a1a1a">1</text>
<text x="617.5" y="231.8" font-family="Liberation Sans" font-size="10" fill="#1a1a1a">+</text>
<defs>
<radialGradient id="gp" cx="0.35" cy="0.35" r="0.75"><stop offset="0" stop-color="#8a5c9a"/><stop offset="0.35" stop-color="#3a1450"/><stop offset="1" stop-color="#1a0522"/></radialGradient>
<radialGradient id="gr" cx="0.35" cy="0.35" r="0.75"><stop offset="0" stop-color="#e06060"/><stop offset="0.5" stop-color="#8a1010"/><stop offset="1" stop-color="#500808"/></radialGradient>
<radialGradient id="gb" cx="0.35" cy="0.35" r="0.75"><stop offset="0" stop-color="#9ad8ff"/><stop offset="0.5" stop-color="#1a5a9a"/><stop offset="1" stop-color="#0a2a5a"/></radialGradient>
</defs>
<rect x="25.4" y="308.6" width="136.1" height="109.8" fill="none" stroke="#333" stroke-width="1.8"/>
<line x1="46.1" y1="413.4" x2="136" y2="312.1" stroke="#111" stroke-width="1.8" />
<line x1="56.7" y1="315.7" x2="141.8" y2="414.6" stroke="#2aa6d9" stroke-width="2.0" />
<circle cx="94.5" cy="359.2" r="6.5" fill="url(#gp)"/>
<text x="102" y="362.8" font-family="Liberation Sans" font-size="13" font-weight="normal" font-style="normal" fill="#000" text-anchor="start" textLength="33" lengthAdjust="spacingAndGlyphs" >Type I</text>
<text x="77.1" y="321.8" font-family="Liberation Serif" font-style="italic" font-size="14.5">M</text>
<text x="87.3" y="324.6" font-family="Liberation Serif" font-style="italic" font-size="10">z</text>
<text x="96.5" y="321.8" font-family="Liberation Serif" font-size="14">=</text>
<text x="109.1" y="321.8" font-family="Liberation Serif" font-size="15">0</text>
<text x="14.8" y="365.5" font-family="Liberation Sans" font-size="14" font-weight="normal" font-style="italic" fill="#000" text-anchor="start" >E</text>
<text x="88.2" y="434.5" font-family="Liberation Serif" font-style="italic" font-size="17">k<tspan font-size="13" dx="1.6" dy="3.4">z</tspan></text>
<rect x="183.9" y="309.4" width="135.3" height="109" fill="none" stroke="#333" stroke-width="1.8"/>
<line x1="189.5" y1="321" x2="267.8" y2="412.1" stroke="#111" stroke-width="1.8" />
<line x1="206.1" y1="413.4" x2="296" y2="312.6" stroke="#111" stroke-width="1.8" />
<line x1="234.3" y1="310.6" x2="311.9" y2="400.8" stroke="#111" stroke-width="1.8" />
<line x1="265.7" y1="342.6" x2="265.7" y2="329.7" stroke="#7a1010" stroke-width="1.3" />
<polygon points="265.7,327.1 267.57,330.5 263.83,330.5" fill="#7a1010"/>
<line x1="265.7" y1="349.6" x2="265.7" y2="362" stroke="#7a1010" stroke-width="1.3" />
<polygon points="265.7,364.6 263.83,361.2 267.57,361.2" fill="#7a1010"/>
<line x1="262.3" y1="345.25" x2="254.22" y2="343.23" stroke="#a01818" stroke-width="1.3" />
<polygon points="251.7,342.6 255.45,341.61 254.54,345.24" fill="#a01818"/>
<line x1="262.44" y1="347.37" x2="257.12" y2="349.45" stroke="#a01818" stroke-width="1.3" />
<polygon points="254.7,350.4 257.19,347.42 258.55,350.9" fill="#a01818"/>
<line x1="268.92" y1="344.72" x2="273.81" y2="342.62" stroke="#a01818" stroke-width="1.3" />
<polygon points="276.2,341.6 273.81,344.66 272.34,341.22" fill="#a01818"/>
<line x1="269.11" y1="346.9" x2="277.17" y2="348.8" stroke="#a01818" stroke-width="1.3" />
<polygon points="279.7,349.4 275.96,350.44 276.82,346.8" fill="#a01818"/>
<line x1="237.6" y1="359.1" x2="237.6" y2="372" stroke="#2a2a78" stroke-width="1.3" />
<polygon points="237.6,374.6 235.73,371.2 239.47,371.2" fill="#2a2a78"/>
<line x1="237.6" y1="396.6" x2="237.6" y2="384.2" stroke="#2a2a78" stroke-width="1.3" />
<polygon points="237.6,381.6 239.47,385 235.73,385" fill="#2a2a78"/>
<line x1="223.6" y1="374.6" x2="231.68" y2="376.62" stroke="#3a3ab8" stroke-width="1.3" />
<polygon points="234.2,377.25 230.45,378.24 231.36,374.61" fill="#3a3ab8"/>
<line x1="226.6" y1="382.4" x2="231.92" y2="380.32" stroke="#3a3ab8" stroke-width="1.3" />
<polygon points="234.34,379.37 231.85,382.35 230.49,378.87" fill="#3a3ab8"/>
<line x1="248.1" y1="373.6" x2="243.21" y2="375.7" stroke="#3a3ab8" stroke-width="1.3" />
<polygon points="240.82,376.72 243.21,373.66 244.68,377.1" fill="#3a3ab8"/>
<line x1="251.6" y1="381.4" x2="243.54" y2="379.5" stroke="#3a3ab8" stroke-width="1.3" />
<polygon points="241.01,378.9 244.74,377.86 243.89,381.5" fill="#3a3ab8"/>
<circle cx="265.7" cy="346.1" r="4.2" fill="url(#gr)"/>
<circle cx="237.6" cy="378.1" r="4.4" fill="url(#gb)"/>
<text x="281.6" y="350.4" font-family="Liberation Sans" font-size="13" font-weight="normal" font-style="normal" fill="#000" text-anchor="start" textLength="32.9" lengthAdjust="spacingAndGlyphs" >Type I</text>
<text x="254.1" y="385.8" font-family="Liberation Sans" font-size="13" font-weight="normal" font-style="normal" fill="#000" text-anchor="start" textLength="32.7" lengthAdjust="spacingAndGlyphs" >Type I</text>
<text x="199.1" y="323.7" font-family="Liberation Serif" font-style="italic" font-size="14.5">M</text>
<text x="209.3" y="326.5" font-family="Liberation Serif" font-style="italic" font-size="10">z</text>
<text x="218.5" y="323.7" font-family="Liberation Serif" font-size="14">≠</text>
<text x="231.5" y="323.7" font-family="Liberation Serif" font-size="15">0</text>
<text x="171.5" y="363.5" font-family="Liberation Sans" font-size="14" font-weight="normal" font-style="italic" fill="#000" text-anchor="start" >E</text>
<text x="248.2" y="433.5" font-family="Liberation Serif" font-style="italic" font-size="17">k<tspan font-size="13" dx="1.6" dy="3.4">z</tspan></text>
<rect x="371.6" y="309.6" width="138.9" height="109.1" fill="none" stroke="#333" stroke-width="1.8"/>
<line x1="382.9" y1="318.4" x2="504.3" y2="409.7" stroke="#2aa6d9" stroke-width="2.0" />
<line x1="424.5" y1="315.7" x2="464" y2="416.4" stroke="#111" stroke-width="1.8" />
<circle cx="444" cy="363.6" r="6.7" fill="url(#gp)"/>
<text x="395.2" y="371.9" font-family="Liberation Sans" font-size="13" font-weight="normal" font-style="normal" fill="#000" text-anchor="start" textLength="36.7" lengthAdjust="spacingAndGlyphs" >Type II</text>
<text x="466.2" y="324.2" font-family="Liberation Serif" font-style="italic" font-size="14.5">M</text>
<text x="476.4" y="327" font-family="Liberation Serif" font-style="italic" font-size="10">z</text>
<text x="485.2" y="324.2" font-family="Liberation Serif" font-size="14">=</text>
<text x="498.1" y="324.2" font-family="Liberation Serif" font-size="15">0</text>
<text x="360" y="366.8" font-family="Liberation Sans" font-size="14" font-weight="normal" font-style="italic" fill="#000" text-anchor="start" >E</text>
<text x="435.8" y="436" font-family="Liberation Serif" font-style="italic" font-size="17">k<tspan font-size="13" dx="1.6" dy="3.4">z</tspan></text>
<rect x="533.7" y="310.2" width="138.6" height="108.3" fill="none" stroke="#333" stroke-width="1.8"/>
<line x1="561.7" y1="311.8" x2="668.3" y2="392.3" stroke="#111" stroke-width="1.8" />
<line x1="540.3" y1="333.7" x2="646.2" y2="413.7" stroke="#111" stroke-width="1.8" />
<line x1="585.7" y1="315" x2="624.9" y2="415" stroke="#111" stroke-width="1.8" />
<line x1="596" y1="334.5" x2="596" y2="321.6" stroke="#7a1010" stroke-width="1.3" />
<polygon points="596,319 597.87,322.4 594.13,322.4" fill="#7a1010"/>
<line x1="596" y1="341.5" x2="596" y2="353.9" stroke="#7a1010" stroke-width="1.3" />
<polygon points="596,356.5 594.13,353.1 597.87,353.1" fill="#7a1010"/>
<line x1="592.6" y1="337.15" x2="584.52" y2="335.13" stroke="#a01818" stroke-width="1.3" />
<polygon points="582,334.5 585.75,333.51 584.84,337.14" fill="#a01818"/>
<line x1="592.74" y1="339.27" x2="587.42" y2="341.35" stroke="#a01818" stroke-width="1.3" />
<polygon points="585,342.3 587.49,339.32 588.85,342.8" fill="#a01818"/>
<line x1="599.22" y1="336.62" x2="604.11" y2="334.52" stroke="#a01818" stroke-width="1.3" />
<polygon points="606.5,333.5 604.11,336.56 602.64,333.12" fill="#a01818"/>
<line x1="599.41" y1="338.8" x2="607.47" y2="340.7" stroke="#a01818" stroke-width="1.3" />
<polygon points="610,341.3 606.26,342.34 607.12,338.7" fill="#a01818"/>
<line x1="615.6" y1="371.3" x2="615.6" y2="384.2" stroke="#2a2a78" stroke-width="1.3" />
<polygon points="615.6,386.8 613.73,383.4 617.47,383.4" fill="#2a2a78"/>
<line x1="615.6" y1="408.8" x2="615.6" y2="396.4" stroke="#2a2a78" stroke-width="1.3" />
<polygon points="615.6,393.8 617.47,397.2 613.73,397.2" fill="#2a2a78"/>
<line x1="601.6" y1="386.8" x2="609.68" y2="388.82" stroke="#3a3ab8" stroke-width="1.3" />
<polygon points="612.2,389.45 608.45,390.44 609.36,386.81" fill="#3a3ab8"/>
<line x1="604.6" y1="394.6" x2="609.92" y2="392.52" stroke="#3a3ab8" stroke-width="1.3" />
<polygon points="612.34,391.57 609.85,394.55 608.49,391.07" fill="#3a3ab8"/>
<line x1="626.1" y1="385.8" x2="621.21" y2="387.9" stroke="#3a3ab8" stroke-width="1.3" />
<polygon points="618.82,388.92 621.21,385.86 622.68,389.3" fill="#3a3ab8"/>
<line x1="629.6" y1="393.6" x2="621.54" y2="391.7" stroke="#3a3ab8" stroke-width="1.3" />
<polygon points="619.01,391.1 622.74,390.06 621.89,393.7" fill="#3a3ab8"/>
<circle cx="596" cy="338" r="4.2" fill="url(#gr)"/>
<circle cx="615.6" cy="390.3" r="4.4" fill="url(#gb)"/>
<text x="614.6" y="341.7" font-family="Liberation Sans" font-size="13" font-weight="normal" font-style="normal" fill="#000" text-anchor="start" textLength="36.5" lengthAdjust="spacingAndGlyphs" >Type II</text>
<text x="560.4" y="399.3" font-family="Liberation Sans" font-size="13" font-weight="normal" font-style="normal" fill="#000" text-anchor="start" textLength="35.3" lengthAdjust="spacingAndGlyphs" >Type II</text>
<text x="627" y="323" font-family="Liberation Serif" font-style="italic" font-size="14.5">M</text>
<text x="637.2" y="325.8" font-family="Liberation Serif" font-style="italic" font-size="10">z</text>
<text x="645.7" y="323" font-family="Liberation Serif" font-size="14">≠</text>
<text x="659.1" y="323" font-family="Liberation Serif" font-size="15">0</text>
<text x="520.7" y="364.9" font-family="Liberation Sans" font-size="14" font-weight="normal" font-style="italic" fill="#000" text-anchor="start" >E</text>
<text x="599.5" y="434" font-family="Liberation Serif" font-style="italic" font-size="17">k<tspan font-size="13" dx="1.6" dy="3.4">z</tspan></text>
<clipPath id="cp1"><rect x="32.5" y="470.7" width="271" height="155.3"/></clipPath>
<line x1="32.5" y1="470.7" x2="303.5" y2="470.7" stroke="#dcdcdc" stroke-width="1.0" />
<polyline points="83.39,467.44 87.3,470.33 91.21,473.18 95.12,476.01 99.02,478.79 102.93,481.53 106.84,484.23 110.74,486.87 114.65,489.45 118.56,491.97 122.47,494.42 126.37,496.79 130.28,499.07 134.19,501.25 138.1,503.32 142,505.27 145.91,507.09 149.82,508.77 153.72,510.3 157.63,511.67 161.54,512.87 165.45,513.9 169.35,514.76 173.26,515.44 177.17,515.95 181.08,516.29 184.98,516.47 188.89,516.5 192.8,516.39 196.7,516.15 200.61,515.79 204.52,515.32 208.43,514.76 212.33,514.1 216.24,513.37 220.15,512.56 224.06,511.68 227.96,510.75 231.87,509.77 235.78,508.74 239.68,507.67 243.59,506.56 247.5,505.41 251.41,504.24 255.31,503.03 259.22,501.8 263.13,500.55 267.03,499.28 270.94,497.99 274.85,496.68 278.76,495.35 282.66,494.01 286.57,492.65 290.48,491.29 294.39,489.91 298.29,488.52 302.2,487.12" fill="none" stroke="#55b0cf" stroke-width="1.25" clip-path="url(#cp1)"/>
<polyline points="32.6,610.95 36.51,609.49 40.41,608.03 44.32,606.59 48.23,605.16 52.14,603.74 56.04,602.33 59.95,600.93 63.86,599.56 67.77,598.2 71.67,596.85 75.58,595.53 79.49,594.23 83.39,592.96 87.3,591.71 91.21,590.5 95.12,589.31 99.02,588.17 102.93,587.06 106.84,586.01 110.74,585 114.65,584.05 118.56,583.17 122.47,582.36 126.37,581.63 130.28,580.99 134.19,580.45 138.1,580.02 142,579.71 145.91,579.53 149.82,579.5 153.72,579.63 157.63,579.92 161.54,580.39 165.45,581.03 169.35,581.86 173.26,582.87 177.17,584.06 181.08,585.42 184.98,586.95 188.89,588.63 192.8,590.46 196.7,592.42 200.61,594.51 204.52,596.7 208.43,599 212.33,601.38 216.24,603.85 220.15,606.39 224.06,608.99 227.96,611.65 231.87,614.36 235.78,617.12 239.68,619.92 243.59,622.75 247.5,625.62 251.41,628.53 255.31,631.45" fill="none" stroke="#55b0cf" stroke-width="1.25" clip-path="url(#cp1)"/>
<polyline points="91.21,465.89 95.12,468.49 99.02,471.04 102.93,473.54 106.84,475.98 110.74,478.37 114.65,480.69 118.56,482.94 122.47,485.12 126.37,487.21 130.28,489.22 134.19,491.14 138.1,492.96 142,494.67 145.91,496.28 149.82,497.76 153.72,499.13 157.63,500.38 161.54,501.49 165.45,502.48 169.35,503.34 173.26,504.06 177.17,504.66 181.08,505.12 184.98,505.47 188.89,505.69 192.8,505.8 196.7,505.79 200.61,505.69 204.52,505.48 208.43,505.18 212.33,504.8 216.24,504.33 220.15,503.79 224.06,503.18 227.96,502.51 231.87,501.78 235.78,500.99 239.68,500.15 243.59,499.26 247.5,498.33 251.41,497.37 255.31,496.36 259.22,495.32 263.13,494.25 267.03,493.15 270.94,492.03 274.85,490.88 278.76,489.7 282.66,488.51 286.57,487.29 290.48,486.06 294.39,484.81 298.29,483.54 302.2,482.26" fill="none" stroke="#55b0cf" stroke-width="1.25" clip-path="url(#cp1)"/>
<polyline points="32.6,616.86 36.51,615.54 40.41,614.24 44.32,612.95 48.23,611.68 52.14,610.43 56.04,609.2 59.95,607.99 63.86,606.8 67.77,605.64 71.67,604.51 75.58,603.41 79.49,602.34 83.39,601.31 87.3,600.31 91.21,599.36 95.12,598.45 99.02,597.59 102.93,596.78 106.84,596.02 110.74,595.33 114.65,594.7 118.56,594.14 122.47,593.66 126.37,593.25 130.28,592.94 134.19,592.72 138.1,592.59 142,592.57 145.91,592.66 149.82,592.86 153.72,593.19 157.63,593.63 161.54,594.2 165.45,594.9 169.35,595.73 173.26,596.68 177.17,597.77 181.08,598.98 184.98,600.31 188.89,601.76 192.8,603.32 196.7,605 200.61,606.78 204.52,608.65 208.43,610.62 212.33,612.68 216.24,614.82 220.15,617.03 224.06,619.31 227.96,621.66 231.87,624.07 235.78,626.54 239.68,629.05" fill="none" stroke="#55b0cf" stroke-width="1.25" clip-path="url(#cp1)"/>
<polyline points="102.93,466.48 106.84,468.76 110.74,470.97 114.65,473.12 118.56,475.2 122.47,477.21 126.37,479.15 130.28,481 134.19,482.77 138.1,484.44 142,486.03 145.91,487.52 149.82,488.9 153.72,490.19 157.63,491.37 161.54,492.44 165.45,493.41 169.35,494.26 173.26,495.01 177.17,495.65 181.08,496.18 184.98,496.61 188.89,496.93 192.8,497.15 196.7,497.28 200.61,497.31 204.52,497.26 208.43,497.12 212.33,496.89 216.24,496.6 220.15,496.23 224.06,495.79 227.96,495.28 231.87,494.72 235.78,494.1 239.68,493.43 243.59,492.7 247.5,491.93 251.41,491.12 255.31,490.26 259.22,489.37 263.13,488.44 267.03,487.48 270.94,486.49 274.85,485.47 278.76,484.42 282.66,483.34 286.57,482.24 290.48,481.12 294.39,479.98 298.29,478.82 302.2,477.64" fill="none" stroke="#55b0cf" stroke-width="1.25" clip-path="url(#cp1)"/>
<polyline points="32.6,622.44 36.51,621.23 40.41,620.05 44.32,618.89 48.23,617.75 52.14,616.64 56.04,615.55 59.95,614.48 63.86,613.45 67.77,612.44 71.67,611.47 75.58,610.54 79.49,609.64 83.39,608.78 87.3,607.96 91.21,607.19 95.12,606.46 99.02,605.79 102.93,605.17 106.84,604.6 110.74,604.1 114.65,603.66 118.56,603.29 122.47,603 126.37,602.78 130.28,602.64 134.19,602.58 138.1,602.61 142,602.73 145.91,602.95 149.82,603.26 153.72,603.67 157.63,604.19 161.54,604.81 165.45,605.53 169.35,606.35 173.26,607.29 177.17,608.32 181.08,609.46 184.98,610.71 188.89,612.05 192.8,613.49 196.7,615.02 200.61,616.64 204.52,618.35 208.43,620.15 212.33,622.02 216.24,623.97 220.15,626 224.06,628.09 227.96,630.24" fill="none" stroke="#55b0cf" stroke-width="1.25" clip-path="url(#cp1)"/>
<polyline points="114.65,466.37 118.56,468.33 122.47,470.22 126.37,472.04 130.28,473.79 134.19,475.45 138.1,477.04 142,478.54 145.91,479.95 149.82,481.28 153.72,482.51 157.63,483.65 161.54,484.7 165.45,485.65 169.35,486.5 173.26,487.26 177.17,487.93 181.08,488.5 184.98,488.98 188.89,489.36 192.8,489.66 196.7,489.87 200.61,490 204.52,490.04 208.43,490.01 212.33,489.9 216.24,489.72 220.15,489.47 224.06,489.15 227.96,488.77 231.87,488.34 235.78,487.84 239.68,487.29 243.59,486.69 247.5,486.04 251.41,485.35 255.31,484.61 259.22,483.84 263.13,483.03 267.03,482.18 270.94,481.29 274.85,480.38 278.76,479.43 282.66,478.46 286.57,477.46 290.48,476.43 294.39,475.38 298.29,474.31 302.2,473.22" fill="none" stroke="#55b0cf" stroke-width="1.25" clip-path="url(#cp1)"/>
<polyline points="32.6,627.72 36.51,626.62 40.41,625.54 44.32,624.49 48.23,623.46 52.14,622.45 56.04,621.48 59.95,620.53 63.86,619.62 67.77,618.74 71.67,617.9 75.58,617.09 79.49,616.32 83.39,615.59 87.3,614.91 91.21,614.27 95.12,613.68 99.02,613.14 102.93,612.66 106.84,612.23 110.74,611.86 114.65,611.56 118.56,611.32 122.47,611.15 126.37,611.04 130.28,611.02 134.19,611.07 138.1,611.2 142,611.41 145.91,611.7 149.82,612.08 153.72,612.54 157.63,613.1 161.54,613.75 165.45,614.48 169.35,615.31 173.26,616.23 177.17,617.24 181.08,618.33 184.98,619.52 188.89,620.8 192.8,622.16 196.7,623.6 200.61,625.13 204.52,626.73 208.43,628.41 212.33,630.17" fill="none" stroke="#55b0cf" stroke-width="1.25" clip-path="url(#cp1)"/>
<polyline points="130.28,467.29 134.19,468.88 138.1,470.4 142,471.84 145.91,473.2 149.82,474.48 153.72,475.67 157.63,476.78 161.54,477.81 165.45,478.75 169.35,479.61 173.26,480.38 177.17,481.06 181.08,481.66 184.98,482.18 188.89,482.61 192.8,482.96 196.7,483.23 200.61,483.43 204.52,483.54 208.43,483.59 212.33,483.56 216.24,483.47 220.15,483.31 224.06,483.08 227.96,482.8 231.87,482.46 235.78,482.06 239.68,481.61 243.59,481.11 247.5,480.56 251.41,479.97 255.31,479.33 259.22,478.65 263.13,477.93 267.03,477.17 270.94,476.38 274.85,475.56 278.76,474.7 282.66,473.81 286.57,472.9 290.48,471.95 294.39,470.99 298.29,469.99 302.2,468.98" fill="none" stroke="#55b0cf" stroke-width="1.25" clip-path="url(#cp1)"/>
<polyline points="44.32,629.79 48.23,628.86 52.14,627.95 56.04,627.07 59.95,626.22 63.86,625.41 67.77,624.63 71.67,623.89 75.58,623.18 79.49,622.52 83.39,621.9 87.3,621.32 91.21,620.79 95.12,620.31 99.02,619.87 102.93,619.49 106.84,619.17 110.74,618.9 114.65,618.69 118.56,618.55 122.47,618.47 126.37,618.45 130.28,618.5 134.19,618.63 138.1,618.83 142,619.1 145.91,619.45 149.82,619.87 153.72,620.38 157.63,620.96 161.54,621.62 165.45,622.37 169.35,623.2 173.26,624.11 177.17,625.09 181.08,626.17 184.98,627.32 188.89,628.54 192.8,629.85" fill="none" stroke="#55b0cf" stroke-width="1.25" clip-path="url(#cp1)"/>
<polyline points="145.91,467.04 149.82,468.28 153.72,469.45 157.63,470.54 161.54,471.55 165.45,472.49 169.35,473.34 173.26,474.12 177.17,474.82 181.08,475.44 184.98,475.98 188.89,476.45 192.8,476.84 196.7,477.16 200.61,477.4 204.52,477.58 208.43,477.68 212.33,477.72 216.24,477.7 220.15,477.61 224.06,477.46 227.96,477.25 231.87,476.99 235.78,476.67 239.68,476.3 243.59,475.88 247.5,475.41 251.41,474.9 255.31,474.34 259.22,473.74 263.13,473.1 267.03,472.43 270.94,471.71 274.85,470.97 278.76,470.19 282.66,469.37 286.57,468.53 290.48,467.66" fill="none" stroke="#55b0cf" stroke-width="1.25" clip-path="url(#cp1)"/>
<polyline points="71.67,629.53 75.58,628.91 79.49,628.33 83.39,627.8 87.3,627.31 91.21,626.86 95.12,626.46 99.02,626.11 102.93,625.82 106.84,625.57 110.74,625.38 114.65,625.25 118.56,625.18 122.47,625.17 126.37,625.22 130.28,625.33 134.19,625.52 138.1,625.76 142,626.08 145.91,626.47 149.82,626.93 153.72,627.46 157.63,628.07 161.54,628.75 165.45,629.5" fill="none" stroke="#55b0cf" stroke-width="1.25" clip-path="url(#cp1)"/>
<polyline points="169.35,467.56 173.26,468.34 177.17,469.05 181.08,469.69 184.98,470.26 188.89,470.75 192.8,471.17 196.7,471.53 200.61,471.81 204.52,472.03 208.43,472.19 212.33,472.28 216.24,472.31 220.15,472.28 224.06,472.19 227.96,472.04 231.87,471.84 235.78,471.59 239.68,471.29 243.59,470.94 247.5,470.54 251.41,470.09 255.31,469.6 259.22,469.08 263.13,468.51 267.03,467.9 270.94,467.25" fill="none" stroke="#55b0cf" stroke-width="1.25" clip-path="url(#cp1)"/>
<polyline points="32.6,603.88 302.2,492.52" fill="none" stroke="#d0474c" stroke-width="1.15" clip-path="url(#cp1)"/>
<line x1="32.5" y1="626" x2="32.5" y2="467.4" stroke="#4f7cb8" stroke-width="1.9" />
<polygon points="32.5,463.4 34.9,468.9 30.1,468.9" fill="#4f7cb8"/>
<line x1="32.5" y1="626" x2="317.8" y2="626" stroke="#4f7cb8" stroke-width="1.9" />
<polygon points="321.8,626 316.3,628.4 316.3,623.6" fill="#4f7cb8"/>
<text x="32.6" y="635" font-family="Liberation Sans" font-size="9.3" font-weight="bold" font-style="normal" fill="#000" text-anchor="middle" >-4</text>
<text x="100" y="635" font-family="Liberation Sans" font-size="9.3" font-weight="bold" font-style="normal" fill="#000" text-anchor="middle" >-2</text>
<text x="167.4" y="635" font-family="Liberation Sans" font-size="9.3" font-weight="bold" font-style="normal" fill="#000" text-anchor="middle" >0</text>
<text x="234.8" y="635" font-family="Liberation Sans" font-size="9.3" font-weight="bold" font-style="normal" fill="#000" text-anchor="middle" >2</text>
<text x="302.2" y="635" font-family="Liberation Sans" font-size="9.3" font-weight="bold" font-style="normal" fill="#000" text-anchor="middle" >4</text>
<text x="30.5" y="492.9" font-family="Liberation Sans" font-size="9.3" font-weight="bold" font-style="normal" fill="#000" text-anchor="end" >0.4</text>
<text x="30.5" y="520.3" font-family="Liberation Sans" font-size="9.3" font-weight="bold" font-style="normal" fill="#000" text-anchor="end" >0.2</text>
<text x="30.5" y="552.1" font-family="Liberation Sans" font-size="9.3" font-weight="bold" font-style="normal" fill="#000" text-anchor="end" >0</text>
<text x="30.5" y="578.5" font-family="Liberation Sans" font-size="9.3" font-weight="bold" font-style="normal" fill="#000" text-anchor="end" >-0.2</text>
<text x="30.5" y="609" font-family="Liberation Sans" font-size="9.3" font-weight="bold" font-style="normal" fill="#000" text-anchor="end" >-0.4</text>
<text x="114.5" y="466.6" font-family="Liberation Sans" font-size="11.6" font-weight="normal" font-style="normal" fill="#000" text-anchor="start" textLength="105.4" lengthAdjust="spacingAndGlyphs" >Type I Weyl Fermion</text>
<text x="5.3" y="549.6" font-family="Liberation Sans" font-size="12" font-weight="normal" font-style="italic" fill="#000" text-anchor="start" >E</text>
<text x="162.5" y="649.2" font-family="Liberation Serif" font-style="italic" font-size="15">k<tspan font-size="11" dx="1" dy="2.8">z</tspan></text>
<clipPath id="cp2"><rect x="373.8" y="470.7" width="271.7" height="155.4"/></clipPath>
<line x1="373.8" y1="470.7" x2="645.5" y2="470.7" stroke="#dcdcdc" stroke-width="1.0" />
<defs><linearGradient id="hb" x1="0" y1="0" x2="1" y2="0"><stop offset="0" stop-color="#3fb0dc" stop-opacity="0"/><stop offset="0.55" stop-color="#22a5dc" stop-opacity="0.55"/><stop offset="1" stop-color="#16a0dc" stop-opacity="0.95"/></linearGradient></defs>
<polyline points="375.2,596.23 380.7,593.96 386.2,591.68 391.71,589.41 397.21,587.14 402.71,584.87 408.21,582.59 413.71,580.32 419.22,578.05 424.72,575.78 430.22,573.5 435.72,571.23 441.22,568.96 446.73,566.69 452.23,564.41 457.73,562.14 463.23,559.87 468.73,557.59 474.24,555.32 479.74,553.05 485.24,550.78 490.74,548.5 496.24,546.24 501.75,544 507.25,541.8 512.75,539.64 518.25,537.5 523.76,535.39 529.26,533.31 534.76,531.24 540.26,529.2 545.76,527.18 551.27,525.18 556.77,523.18 562.27,521.2 567.77,519.23 573.27,517.27 578.78,515.31 584.28,513.35 589.78,511.4 595.28,509.44 600.78,507.48 606.29,505.51 611.79,503.53 617.29,501.54 622.79,499.54 628.29,497.53 633.8,495.49 639.3,493.44 644.8,491.36" fill="none" stroke="#55b0cf" stroke-width="1.25" clip-path="url(#cp2)"/>
<polyline points="375.2,590.57 380.7,588.3 386.2,586.03 391.71,583.76 397.21,581.48 402.71,579.21 408.21,576.94 413.71,574.67 419.22,572.39 424.72,570.12 430.22,567.85 435.72,565.58 441.22,563.3 446.73,561.03 452.23,558.76 457.73,556.49 463.23,554.21 468.73,551.94 474.24,549.67 479.74,547.39 485.24,545.12 490.74,542.85 496.24,540.59 501.75,538.38 507.25,536.24 512.75,534.16 518.25,532.12 523.76,530.14 529.26,528.2 534.76,526.31 540.26,524.45 545.76,522.62 551.27,520.82 556.77,519.05 562.27,517.3 567.77,515.56 573.27,513.84 578.78,512.13 584.28,510.42 589.78,508.71 595.28,507 600.78,505.28 606.29,503.54 611.79,501.8 617.29,500.03 622.79,498.24 628.29,496.42 633.8,494.57 639.3,492.69 644.8,490.76" fill="none" stroke="#55b0cf" stroke-width="1.25" clip-path="url(#cp2)"/>
<polyline points="375.2,584.92 380.7,582.65 386.2,580.37 391.71,578.1 397.21,575.83 402.71,573.56 408.21,571.28 413.71,569.01 419.22,566.74 424.72,564.47 430.22,562.19 435.72,559.92 441.22,557.65 446.73,555.38 452.23,553.1 457.73,550.83 463.23,548.56 468.73,546.28 474.24,544.01 479.74,541.74 485.24,539.47 490.74,537.19 496.24,534.94 501.75,532.76 507.25,530.68 512.75,528.68 518.25,526.75 523.76,524.89 529.26,523.1 534.76,521.37 540.26,519.69 545.76,518.06 551.27,516.47 556.77,514.92 562.27,513.39 567.77,511.89 573.27,510.41 578.78,508.94 584.28,507.48 589.78,506.02 595.28,504.55 600.78,503.07 606.29,501.58 611.79,500.06 617.29,498.52 622.79,496.94 628.29,495.32 633.8,493.66 639.3,491.94 644.8,490.17" fill="none" stroke="#55b0cf" stroke-width="1.25" clip-path="url(#cp2)"/>
<polyline points="375.2,579.26 380.7,576.99 386.2,574.72 391.71,572.45 397.21,570.17 402.71,567.9 408.21,565.63 413.71,563.36 419.22,561.08 424.72,558.81 430.22,556.54 435.72,554.27 441.22,551.99 446.73,549.72 452.23,547.45 457.73,545.18 463.23,542.9 468.73,540.63 474.24,538.36 479.74,536.08 485.24,533.81 490.74,531.54 496.24,529.29 501.75,527.14 507.25,525.12 512.75,523.2 518.25,521.37 523.76,519.65 529.26,518 534.76,516.43 540.26,514.94 545.76,513.5 551.27,512.12 556.77,510.78 562.27,509.49 567.77,508.22 573.27,506.98 578.78,505.76 584.28,504.54 589.78,503.33 595.28,502.11 600.78,500.87 606.29,499.62 611.79,498.33 617.29,497.01 622.79,495.64 628.29,494.22 633.8,492.74 639.3,491.2 644.8,489.58" fill="none" stroke="#55b0cf" stroke-width="1.25" clip-path="url(#cp2)"/>
<polyline points="375.2,573.61 380.7,571.34 386.2,569.06 391.71,566.79 397.21,564.52 402.71,562.25 408.21,559.97 413.71,557.7 419.22,555.43 424.72,553.16 430.22,550.88 435.72,548.61 441.22,546.34 446.73,544.07 452.23,541.79 457.73,539.52 463.23,537.25 468.73,534.97 474.24,532.7 479.74,530.43 485.24,528.16 490.74,525.88 496.24,523.64 501.75,521.52 507.25,519.55 512.75,517.71 518.25,516 523.76,514.4 529.26,512.9 534.76,511.5 540.26,510.18 545.76,508.94 551.27,507.77 556.77,506.65 562.27,505.58 567.77,504.55 573.27,503.55 578.78,502.57 584.28,501.61 589.78,500.64 595.28,499.66 600.78,498.67 606.29,497.65 611.79,496.59 617.29,495.49 622.79,494.34 628.29,493.12 633.8,491.83 639.3,490.45 644.8,488.98" fill="none" stroke="#55b0cf" stroke-width="1.25" clip-path="url(#cp2)"/>
<polyline points="375.2,567.95 380.7,565.68 386.2,563.41 391.71,561.14 397.21,558.86 402.71,556.59 408.21,554.32 413.71,552.05 419.22,549.77 424.72,547.5 430.22,545.23 435.72,542.96 441.22,540.68 446.73,538.41 452.23,536.14 457.73,533.87 463.23,531.59 468.73,529.32 474.24,527.05 479.74,524.77 485.24,522.5 490.74,520.23 496.24,517.99 501.75,515.9 507.25,513.99 512.75,512.23 518.25,510.62 523.76,509.15 529.26,507.8 534.76,506.56 540.26,505.43 545.76,504.38 551.27,503.41 556.77,502.52 562.27,501.68 567.77,500.88 573.27,500.12 578.78,499.39 584.28,498.67 589.78,497.95 595.28,497.22 600.78,496.47 606.29,495.69 611.79,494.86 617.29,493.98 622.79,493.04 628.29,492.02 633.8,490.91 639.3,489.71 644.8,488.39" fill="none" stroke="#55b0cf" stroke-width="1.25" clip-path="url(#cp2)"/>
<polyline points="375.2,562.3 380.7,560.03 386.2,557.75 391.71,555.48 397.21,553.21 402.71,550.94 408.21,548.66 413.71,546.39 419.22,544.12 424.72,541.85 430.22,539.57 435.72,537.3 441.22,535.03 446.73,532.76 452.23,530.48 457.73,528.21 463.23,525.94 468.73,523.66 474.24,521.39 479.74,519.12 485.24,516.85 490.74,514.57 496.24,512.34 501.75,510.28 507.25,508.43 512.75,506.75 518.25,505.25 523.76,503.9 529.26,502.7 534.76,501.63 540.26,500.67 545.76,499.82 551.27,499.06 556.77,498.38 562.27,497.77 567.77,497.21 573.27,496.7 578.78,496.21 584.28,495.73 589.78,495.26 595.28,494.77 600.78,494.27 606.29,493.72 611.79,493.13 617.29,492.47 622.79,491.74 628.29,490.92 633.8,489.99 639.3,488.96 644.8,487.8" fill="none" stroke="#55b0cf" stroke-width="1.25" clip-path="url(#cp2)"/>
<polyline points="375.2,556.64 380.7,554.37 386.2,552.1 391.71,549.83 397.21,547.55 402.71,545.28 408.21,543.01 413.71,540.74 419.22,538.46 424.72,536.19 430.22,533.92 435.72,531.65 441.22,529.37 446.73,527.1 452.23,524.83 457.73,522.56 463.23,520.28 468.73,518.01 474.24,515.74 479.74,513.46 485.24,511.19 490.74,508.92 496.24,506.68 501.75,504.66 507.25,502.86 512.75,501.27 518.25,499.87 523.76,498.65 529.26,497.6 534.76,496.69 540.26,495.91 545.76,495.26 551.27,494.71 556.77,494.25 562.27,493.87 567.77,493.54 573.27,493.27 578.78,493.02 584.28,492.79 589.78,492.57 595.28,492.33 600.78,492.06 606.29,491.76 611.79,491.39 617.29,490.96 622.79,490.44 628.29,489.81 633.8,489.08 639.3,488.21 644.8,487.2" fill="none" stroke="#55b0cf" stroke-width="1.25" clip-path="url(#cp2)"/>
<polyline points="375.2,550.99 380.7,548.72 386.2,546.44 391.71,544.17 397.21,541.9 402.71,539.63 408.21,537.35 413.71,535.08 419.22,532.81 424.72,530.54 430.22,528.26 435.72,525.99 441.22,523.72 446.73,521.45 452.23,519.17 457.73,516.9 463.23,514.63 468.73,512.35 474.24,510.08 479.74,507.81 485.24,505.54 490.74,503.26 496.24,501.03 501.75,499.04 507.25,497.3 512.75,495.79 518.25,494.5 523.76,493.41 529.26,492.5 534.76,491.75 540.26,491.16 545.76,490.7 551.27,490.36 556.77,490.12 562.27,489.96 567.77,489.87 573.27,489.84 578.78,489.84 584.28,489.86 589.78,489.88 595.28,489.88 600.78,489.86 606.29,489.79 611.79,489.66 617.29,489.44 622.79,489.14 628.29,488.71 633.8,488.16 639.3,487.47 644.8,486.61" fill="none" stroke="#55b0cf" stroke-width="1.25" clip-path="url(#cp2)"/>
<polyline points="375.2,545.33 380.7,543.06 386.2,540.79 391.71,538.52 397.21,536.24 402.71,533.97 408.21,531.7 413.71,529.43 419.22,527.15 424.72,524.88 430.22,522.61 435.72,520.34 441.22,518.06 446.73,515.79 452.23,513.52 457.73,511.25 463.23,508.97 468.73,506.7 474.24,504.43 479.74,502.15 485.24,499.88 490.74,497.61 496.24,495.38 501.75,493.42 507.25,491.74 512.75,490.31 518.25,489.12 523.76,488.16 529.26,487.39 534.76,486.82 540.26,486.4 545.76,486.14 551.27,486.01 556.77,485.98 562.27,486.06 567.77,486.2 573.27,486.41 578.78,486.65 584.28,486.92 589.78,487.19 595.28,487.44 600.78,487.66 606.29,487.83 611.79,487.92 617.29,487.93 622.79,487.83 628.29,487.61 633.8,487.25 639.3,486.72 644.8,486.01" fill="none" stroke="#55b0cf" stroke-width="1.25" clip-path="url(#cp2)"/>
<polyline points="375.2,539.68 380.7,537.41 386.2,535.13 391.71,532.86 397.21,530.59 402.71,528.32 408.21,526.04 413.71,523.77 419.22,521.5 424.72,519.23 430.22,516.95 435.72,514.68 441.22,512.41 446.73,510.14 452.23,507.86 457.73,505.59 463.23,503.32 468.73,501.04 474.24,498.77 479.74,496.5 485.24,494.23 490.74,491.95 496.24,489.73 501.75,487.8 507.25,486.18 512.75,484.83 518.25,483.75 523.76,482.91 529.26,482.29 534.76,481.88 540.26,481.65 545.76,481.58 551.27,481.65 556.77,481.85 562.27,482.15 567.77,482.54 573.27,482.98 578.78,483.47 584.28,483.98 589.78,484.5 595.28,485 600.78,485.46 606.29,485.86 611.79,486.19 617.29,486.42 622.79,486.53 628.29,486.51 633.8,486.33 639.3,485.97 644.8,485.42" fill="none" stroke="#55b0cf" stroke-width="1.25" clip-path="url(#cp2)"/>
<polyline points="375.2,534.02 380.7,531.75 386.2,529.48 391.71,527.21 397.21,524.93 402.71,522.66 408.21,520.39 413.71,518.12 419.22,515.84 424.72,513.57 430.22,511.3 435.72,509.03 441.22,506.75 446.73,504.48 452.23,502.21 457.73,499.94 463.23,497.66 468.73,495.39 474.24,493.12 479.74,490.84 485.24,488.57 490.74,486.3 496.24,484.08 501.75,482.18 507.25,480.61 512.75,479.35 518.25,478.37 523.76,477.66 529.26,477.19 534.76,476.94 540.26,476.89 545.76,477.02 551.27,477.3 556.77,477.72 562.27,478.25 567.77,478.87 573.27,479.55 578.78,480.29 584.28,481.05 589.78,481.81 595.28,482.55 600.78,483.25 606.29,483.9 611.79,484.45 617.29,484.91 622.79,485.23 628.29,485.41 633.8,485.41 639.3,485.23 644.8,484.83" fill="none" stroke="#55b0cf" stroke-width="1.25" clip-path="url(#cp2)"/>
<polyline points="375.2,528.37 380.7,526.1 386.2,523.82 391.71,521.55 397.21,519.28 402.71,517.01 408.21,514.73 413.71,512.46 419.22,510.19 424.72,507.92 430.22,505.64 435.72,503.37 441.22,501.1 446.73,498.83 452.23,496.55 457.73,494.28 463.23,492.01 468.73,489.73 474.24,487.46 479.74,485.19 485.24,482.92 490.74,480.64 496.24,478.43 501.75,476.56 507.25,475.05 512.75,473.87 518.25,473 523.76,472.41 529.26,472.09 534.76,472.01 540.26,472.14 545.76,472.46 551.27,472.95 556.77,473.59 562.27,474.34 567.77,475.2 573.27,476.12 578.78,477.1 584.28,478.11 589.78,479.12 595.28,480.11 600.78,481.05 606.29,481.93 611.79,482.72 617.29,483.39 622.79,483.93 628.29,484.31 633.8,484.5 639.3,484.48 644.8,484.23" fill="none" stroke="#55b0cf" stroke-width="1.25" clip-path="url(#cp2)"/>
<polyline points="375.2,522.71 380.7,520.44 386.2,518.17 391.71,515.9 397.21,513.62 402.71,511.35 408.21,509.08 413.71,506.81 419.22,504.53 424.72,502.26 430.22,499.99 435.72,497.72 441.22,495.44 446.73,493.17 452.23,490.9 457.73,488.63 463.23,486.35 468.73,484.08 474.24,481.81 479.74,479.53 485.24,477.26 490.74,474.99 496.24,472.78 501.75,470.94 507.25,469.49 512.75,468.39 518.25,467.62" fill="none" stroke="#55b0cf" stroke-width="1.25" clip-path="url(#cp2)"/>
<polyline points="540.26,467.38 545.76,467.9 551.27,468.6 556.77,469.45 562.27,470.44 567.77,471.53 573.27,472.69 578.78,473.92 584.28,475.17 589.78,476.43 595.28,477.66 600.78,478.85 606.29,479.97 611.79,480.99 617.29,481.88 622.79,482.63 628.29,483.21 633.8,483.58 639.3,483.74 644.8,483.64" fill="none" stroke="#55b0cf" stroke-width="1.25" clip-path="url(#cp2)"/>
<polyline points="375.2,517.06 380.7,514.79 386.2,512.51 391.71,510.24 397.21,507.97 402.71,505.7 408.21,503.42 413.71,501.15 419.22,498.88 424.72,496.61 430.22,494.33 435.72,492.06 441.22,489.79 446.73,487.52 452.23,485.24 457.73,482.97 463.23,480.7 468.73,478.42 474.24,476.15 479.74,473.88 485.24,471.61 490.74,469.33 496.24,467.13" fill="none" stroke="#55b0cf" stroke-width="1.25" clip-path="url(#cp2)"/>
<polyline points="562.27,466.53 567.77,467.86 573.27,469.27 578.78,470.73 584.28,472.23 589.78,473.74 595.28,475.22 600.78,476.65 606.29,478 611.79,479.25 617.29,480.37 622.79,481.33 628.29,482.1 633.8,482.67 639.3,482.99 644.8,483.05" fill="none" stroke="#55b0cf" stroke-width="1.25" clip-path="url(#cp2)"/>
<polyline points="375.2,511.4 380.7,509.13 386.2,506.86 391.71,504.59 397.21,502.31 402.71,500.04 408.21,497.77 413.71,495.5 419.22,493.22 424.72,490.95 430.22,488.68 435.72,486.41 441.22,484.13 446.73,481.86 452.23,479.59 457.73,477.32 463.23,475.04 468.73,472.77 474.24,470.5 479.74,468.22 485.24,465.95" fill="none" stroke="#55b0cf" stroke-width="1.25" clip-path="url(#cp2)"/>
<polyline points="578.78,467.55 584.28,469.3 589.78,471.05 595.28,472.77 600.78,474.45 606.29,476.04 611.79,477.52 617.29,478.86 622.79,480.03 628.29,481 633.8,481.75 639.3,482.24 644.8,482.45" fill="none" stroke="#55b0cf" stroke-width="1.25" clip-path="url(#cp2)"/>
<polyline points="375.2,505.75 380.7,503.48 386.2,501.2 391.71,498.93 397.21,496.66 402.71,494.39 408.21,492.11 413.71,489.84 419.22,487.57 424.72,485.3 430.22,483.02 435.72,480.75 441.22,478.48 446.73,476.21 452.23,473.93 457.73,471.66 463.23,469.39 468.73,467.11" fill="none" stroke="#55b0cf" stroke-width="1.25" clip-path="url(#cp2)"/>
<polyline points="584.28,466.36 589.78,468.36 595.28,470.33 600.78,472.24 606.29,474.07 611.79,475.78 617.29,477.34 622.79,478.73 628.29,479.9 633.8,480.83 639.3,481.5 644.8,481.86" fill="none" stroke="#55b0cf" stroke-width="1.25" clip-path="url(#cp2)"/>
<polyline points="375.2,500.09 380.7,497.82 386.2,495.55 391.71,493.28 397.21,491 402.71,488.73 408.21,486.46 413.71,484.19 419.22,481.91 424.72,479.64 430.22,477.37 435.72,475.1 441.22,472.82 446.73,470.55 452.23,468.28 457.73,466.01" fill="none" stroke="#55b0cf" stroke-width="1.25" clip-path="url(#cp2)"/>
<polyline points="589.78,465.67 595.28,467.88 600.78,470.04 606.29,472.11 611.79,474.05 617.29,475.83 622.79,477.43 628.29,478.8 633.8,479.92 639.3,480.75 644.8,481.26" fill="none" stroke="#55b0cf" stroke-width="1.25" clip-path="url(#cp2)"/>
<polyline points="375.2,494.44 380.7,492.17 386.2,489.89 391.71,487.62 397.21,485.35 402.71,483.08 408.21,480.8 413.71,478.53 419.22,476.26 424.72,473.99 430.22,471.71 435.72,469.44 441.22,467.17" fill="none" stroke="#55b0cf" stroke-width="1.25" clip-path="url(#cp2)"/>
<polyline points="595.28,465.44 600.78,467.84 606.29,470.14 611.79,472.31 617.29,474.32 622.79,476.13 628.29,477.7 633.8,479 639.3,480 644.8,480.67" fill="none" stroke="#55b0cf" stroke-width="1.25" clip-path="url(#cp2)"/>
<polyline points="375.2,488.78 380.7,486.51 386.2,484.24 391.71,481.97 397.21,479.69 402.71,477.42 408.21,475.15 413.71,472.88 419.22,470.6 424.72,468.33 430.22,466.06" fill="none" stroke="#55b0cf" stroke-width="1.25" clip-path="url(#cp2)"/>
<polyline points="600.78,465.64 606.29,468.18 611.79,470.58 617.29,472.81 622.79,474.82 628.29,476.6 633.8,478.09 639.3,479.26 644.8,480.08" fill="none" stroke="#55b0cf" stroke-width="1.25" clip-path="url(#cp2)"/>
<polyline points="375.2,483.13 380.7,480.86 386.2,478.58 391.71,476.31 397.21,474.04 402.71,471.77 408.21,469.49 413.71,467.22" fill="none" stroke="#55b0cf" stroke-width="1.25" clip-path="url(#cp2)"/>
<polyline points="606.29,466.21 611.79,468.84 617.29,471.29 622.79,473.52 628.29,475.49 633.8,477.17 639.3,478.51 644.8,479.48" fill="none" stroke="#55b0cf" stroke-width="1.25" clip-path="url(#cp2)"/>
<polyline points="375.2,477.47 380.7,475.2 386.2,472.93 391.71,470.66 397.21,468.38 402.71,466.11" fill="none" stroke="#55b0cf" stroke-width="1.25" clip-path="url(#cp2)"/>
<polyline points="611.79,467.11 617.29,469.78 622.79,472.22 628.29,474.39 633.8,476.25 639.3,477.77 644.8,478.89" fill="none" stroke="#55b0cf" stroke-width="1.25" clip-path="url(#cp2)"/>
<polyline points="375.2,471.82 380.7,469.55 386.2,467.27" fill="none" stroke="#55b0cf" stroke-width="1.25" clip-path="url(#cp2)"/>
<polyline points="611.79,465.38 617.29,468.27 622.79,470.92 628.29,473.29 633.8,475.34 639.3,477.02 644.8,478.3" fill="none" stroke="#55b0cf" stroke-width="1.25" clip-path="url(#cp2)"/>
<polyline points="617.29,466.76 622.79,469.62 628.29,472.19 633.8,474.42 639.3,476.27 644.8,477.7" fill="none" stroke="#55b0cf" stroke-width="1.25" clip-path="url(#cp2)"/>
<polyline points="568.7,470.7 645.6,488" fill="none" stroke="#55b0cf" stroke-width="1.0" clip-path="url(#cp2)"/>
<polyline points="578.82,470.7 645.6,486.33" fill="none" stroke="#55b0cf" stroke-width="1.0" clip-path="url(#cp2)"/>
<polyline points="587.79,470.7 645.6,484.67" fill="none" stroke="#55b0cf" stroke-width="1.0" clip-path="url(#cp2)"/>
<polyline points="595.5,470.7 645.6,483" fill="none" stroke="#55b0cf" stroke-width="1.0" clip-path="url(#cp2)"/>
<polyline points="601.8,470.7 645.6,481.33" fill="none" stroke="#55b0cf" stroke-width="1.0" clip-path="url(#cp2)"/>
<polyline points="606.42,470.7 645.6,479.67" fill="none" stroke="#55b0cf" stroke-width="1.0" clip-path="url(#cp2)"/>
<polyline points="608.7,470.7 645.6,478" fill="none" stroke="#55b0cf" stroke-width="1.0" clip-path="url(#cp2)"/>
<defs><linearGradient id="hb2" gradientUnits="userSpaceOnUse" x1="580" y1="0" x2="645.6" y2="0"><stop offset="0" stop-color="#3fb0dc" stop-opacity="0"/><stop offset="0.45" stop-color="#22a5dc" stop-opacity="0.5"/><stop offset="1" stop-color="#16a0dc" stop-opacity="0.95"/></linearGradient></defs>
<polygon points="580,470.7 608.7,470.7 645.6,478 645.6,491.8 610,494" fill="url(#hb2)"/>
<polyline points="418.18,466.08 422.09,469.13 425.99,472.17 429.9,475.19 433.81,478.19 437.72,481.17 441.62,484.11 445.53,487.03 449.44,489.92 453.34,492.76 457.25,495.56 461.16,498.31 465.07,501 468.97,503.62 472.88,506.15 476.79,508.6 480.7,510.93 484.6,513.14 488.51,515.21 492.42,517.11 496.32,518.83 500.23,520.35 504.14,521.64 508.05,522.71 511.95,523.53 515.86,524.12 519.77,524.47 523.68,524.6 527.58,524.53 531.49,524.27 535.4,523.85 539.3,523.29 543.21,522.6 547.12,521.8 551.03,520.91 554.93,519.94 558.84,518.9 562.75,517.8 566.66,516.65 570.56,515.45 574.47,514.22 578.38,512.95 582.28,511.65 586.19,510.32 590.1,508.97 594.01,507.59 597.91,506.2 601.82,504.79 605.73,503.37 609.63,501.94 613.54,500.49 617.45,499.03 621.36,497.56 625.26,496.08 629.17,494.6 633.08,493.1 636.99,491.6 640.89,490.09 644.8,488.58" fill="none" stroke="#55b0cf" stroke-width="1.25" clip-path="url(#cp2)"/>
<polyline points="425.99,465.15 429.9,467.93 433.81,470.67 437.72,473.37 441.62,476.03 445.53,478.64 449.44,481.21 453.34,483.71 457.25,486.16 461.16,488.53 465.07,490.83 468.97,493.06 472.88,495.19 476.79,497.22 480.7,499.15 484.6,500.96 488.51,502.66 492.42,504.22 496.32,505.64 500.23,506.92 504.14,508.05 508.05,509.03 511.95,509.86 515.86,510.53 519.77,511.04 523.68,511.41 527.58,511.63 531.49,511.72 535.4,511.67 539.3,511.51 543.21,511.22 547.12,510.84 551.03,510.35 554.93,509.78 558.84,509.13 562.75,508.4 566.66,507.6 570.56,506.74 574.47,505.83 578.38,504.86 582.28,503.85 586.19,502.8 590.1,501.7 594.01,500.58 597.91,499.42 601.82,498.23 605.73,497.01 609.63,495.77 613.54,494.51 617.45,493.23 621.36,491.93 625.26,490.61 629.17,489.27 633.08,487.92 636.99,486.56 640.89,485.18 644.8,483.79" fill="none" stroke="#55b0cf" stroke-width="1.25" clip-path="url(#cp2)"/>
<polyline points="437.72,466.81 441.62,469.28 445.53,471.7 449.44,474.06 453.34,476.37 457.25,478.6 461.16,480.77 465.07,482.87 468.97,484.88 472.88,486.81 476.79,488.65 480.7,490.4 484.6,492.04 488.51,493.58 492.42,495 496.32,496.31 500.23,497.5 504.14,498.57 508.05,499.52 511.95,500.35 515.86,501.05 519.77,501.62 523.68,502.08 527.58,502.42 531.49,502.64 535.4,502.75 539.3,502.75 543.21,502.66 547.12,502.47 551.03,502.18 554.93,501.82 558.84,501.37 562.75,500.85 566.66,500.26 570.56,499.6 574.47,498.88 578.38,498.11 582.28,497.29 586.19,496.42 590.1,495.5 594.01,494.54 597.91,493.55 601.82,492.52 605.73,491.45 609.63,490.36 613.54,489.24 617.45,488.09 621.36,486.92 625.26,485.72 629.17,484.51 633.08,483.27 636.99,482.02 640.89,480.75 644.8,479.46" fill="none" stroke="#55b0cf" stroke-width="1.25" clip-path="url(#cp2)"/>
<polyline points="445.53,465.76 449.44,467.99 453.34,470.15 457.25,472.25 461.16,474.29 465.07,476.25 468.97,478.14 472.88,479.94 476.79,481.66 480.7,483.3 484.6,484.84 488.51,486.28 492.42,487.63 496.32,488.88 500.23,490.02 504.14,491.06 508.05,491.99 511.95,492.81 515.86,493.53 519.77,494.14 523.68,494.64 527.58,495.05 531.49,495.35 535.4,495.55 539.3,495.65 543.21,495.67 547.12,495.59 551.03,495.44 554.93,495.2 558.84,494.88 562.75,494.5 566.66,494.04 570.56,493.52 574.47,492.94 578.38,492.31 582.28,491.62 586.19,490.88 590.1,490.09 594.01,489.26 597.91,488.39 601.82,487.48 605.73,486.53 609.63,485.55 613.54,484.54 617.45,483.5 621.36,482.43 625.26,481.33 629.17,480.21 633.08,479.07 636.99,477.91 640.89,476.72 644.8,475.52" fill="none" stroke="#55b0cf" stroke-width="1.25" clip-path="url(#cp2)"/>
<polyline points="457.25,466.78 461.16,468.71 465.07,470.58 468.97,472.38 472.88,474.1 476.79,475.74 480.7,477.3 484.6,478.77 488.51,480.16 492.42,481.45 496.32,482.66 500.23,483.77 504.14,484.78 508.05,485.7 511.95,486.53 515.86,487.26 519.77,487.89 523.68,488.42 527.58,488.87 531.49,489.22 535.4,489.48 539.3,489.65 543.21,489.74 547.12,489.75 551.03,489.68 554.93,489.53 558.84,489.31 562.75,489.02 566.66,488.66 570.56,488.24 574.47,487.76 578.38,487.23 582.28,486.64 586.19,486 590.1,485.31 594.01,484.58 597.91,483.8 601.82,482.99 605.73,482.13 609.63,481.24 613.54,480.32 617.45,479.36 621.36,478.38 625.26,477.37 629.17,476.33 633.08,475.26 636.99,474.17 640.89,473.06 644.8,471.93" fill="none" stroke="#55b0cf" stroke-width="1.25" clip-path="url(#cp2)"/>
<polyline points="468.97,467.37 472.88,469.03 476.79,470.61 480.7,472.11 484.6,473.54 488.51,474.88 492.42,476.14 496.32,477.31 500.23,478.4 504.14,479.4 508.05,480.32 511.95,481.14 515.86,481.87 519.77,482.52 523.68,483.08 527.58,483.55 531.49,483.94 535.4,484.25 539.3,484.47 543.21,484.61 547.12,484.68 551.03,484.67 554.93,484.59 558.84,484.44 562.75,484.22 566.66,483.94 570.56,483.6 574.47,483.19 578.38,482.74 582.28,482.23 586.19,481.66 590.1,481.05 594.01,480.4 597.91,479.7 601.82,478.96 605.73,478.18 609.63,477.37 613.54,476.52 617.45,475.63 621.36,474.72 625.26,473.77 629.17,472.8 633.08,471.8 636.99,470.78 640.89,469.73 644.8,468.66" fill="none" stroke="#55b0cf" stroke-width="1.25" clip-path="url(#cp2)"/>
<polyline points="480.7,467.57 484.6,468.96 488.51,470.27 492.42,471.5 496.32,472.65 500.23,473.73 504.14,474.71 508.05,475.62 511.95,476.44 515.86,477.19 519.77,477.84 523.68,478.42 527.58,478.92 531.49,479.33 535.4,479.67 539.3,479.93 543.21,480.11 547.12,480.22 551.03,480.26 554.93,480.24 558.84,480.14 562.75,479.98 566.66,479.75 570.56,479.47 574.47,479.13 578.38,478.74 582.28,478.29 586.19,477.79 590.1,477.24 594.01,476.65 597.91,476.02 601.82,475.34 605.73,474.62 609.63,473.87 613.54,473.08 617.45,472.26 621.36,471.4 625.26,470.51 629.17,469.6 633.08,468.65 636.99,467.68" fill="none" stroke="#55b0cf" stroke-width="1.25" clip-path="url(#cp2)"/>
<polyline points="492.42,467.42 496.32,468.55 500.23,469.61 504.14,470.59 508.05,471.49 511.95,472.32 515.86,473.06 519.77,473.73 523.68,474.32 527.58,474.83 531.49,475.27 535.4,475.63 539.3,475.92 543.21,476.14 547.12,476.28 551.03,476.36 554.93,476.37 558.84,476.32 562.75,476.21 566.66,476.03 570.56,475.8 574.47,475.51 578.38,475.16 582.28,474.76 586.19,474.32 590.1,473.82 594.01,473.29 597.91,472.7 601.82,472.08 605.73,471.41 609.63,470.71 613.54,469.97 617.45,469.2 621.36,468.39 625.26,467.55" fill="none" stroke="#55b0cf" stroke-width="1.25" clip-path="url(#cp2)"/>
<polyline points="504.14,466.94 508.05,467.84 511.95,468.66 515.86,469.41 519.77,470.09 523.68,470.69 527.58,471.22 531.49,471.67 535.4,472.05 539.3,472.37 543.21,472.61 547.12,472.78 551.03,472.89 554.93,472.94 558.84,472.92 562.75,472.84 566.66,472.71 570.56,472.51 574.47,472.26 578.38,471.96 582.28,471.61 586.19,471.2 590.1,470.75 594.01,470.26 597.91,469.72 601.82,469.14 605.73,468.52 609.63,467.86 613.54,467.16" fill="none" stroke="#55b0cf" stroke-width="1.25" clip-path="url(#cp2)"/>
<polyline points="375.2,612.29 379.11,610.59 383.01,608.91 386.92,607.22 390.83,605.55 394.74,603.88 398.64,602.22 402.55,600.57 406.46,598.92 410.37,597.29 414.27,595.66 418.18,594.05 422.09,592.45 425.99,590.87 429.9,589.3 433.81,587.75 437.72,586.23 441.62,584.73 445.53,583.25 449.44,581.81 453.34,580.4 457.25,579.04 461.16,577.73 465.07,576.47 468.97,575.28 472.88,574.17 476.79,573.16 480.7,572.25 484.6,571.47 488.51,570.84 492.42,570.39 496.32,570.13 500.23,570.1 504.14,570.32 508.05,570.79 511.95,571.55 515.86,572.57 519.77,573.86 523.68,575.39 527.58,577.15 531.49,579.11 535.4,581.24 539.3,583.52 543.21,585.93 547.12,588.45 551.03,591.06 554.93,593.76 558.84,596.51 562.75,599.33 566.66,602.2 570.56,605.11 574.47,608.05 578.38,611.03 582.28,614.03 586.19,617.06 590.1,620.11 594.01,623.18 597.91,626.27 601.82,629.37" fill="none" stroke="#55b0cf" stroke-width="1.25" clip-path="url(#cp2)"/>
<polyline points="375.2,626.73 379.11,625.03 383.01,623.34 386.92,621.68 390.83,620.02 394.74,618.39 398.64,616.78 402.55,615.18 406.46,613.61 410.37,612.07 414.27,610.55 418.18,609.06 422.09,607.6 425.99,606.18 429.9,604.79 433.81,603.44 437.72,602.14 441.62,600.88 445.53,599.68 449.44,598.54 453.34,597.46 457.25,596.44 461.16,595.5 465.07,594.64 468.97,593.87 472.88,593.19 476.79,592.62 480.7,592.16 484.6,591.81 488.51,591.59 492.42,591.5 496.32,591.54 500.23,591.74 504.14,592.07 508.05,592.56 511.95,593.21 515.86,594 519.77,594.95 523.68,596.04 527.58,597.28 531.49,598.65 535.4,600.16 539.3,601.79 543.21,603.54 547.12,605.4 551.03,607.36 554.93,609.41 558.84,611.56 562.75,613.78 566.66,616.08 570.56,618.45 574.47,620.87 578.38,623.36 582.28,625.9 586.19,628.49 590.1,631.12" fill="none" stroke="#55b0cf" stroke-width="1.25" clip-path="url(#cp2)"/>
<polyline points="402.55,630.45 406.46,628.7 410.37,626.98 414.27,625.29 418.18,623.64 422.09,622.03 425.99,620.46 429.9,618.94 433.81,617.46 437.72,616.04 441.62,614.68 445.53,613.37 449.44,612.13 453.34,610.97 457.25,609.88 461.16,608.87 465.07,607.94 468.97,607.11 472.88,606.38 476.79,605.76 480.7,605.24 484.6,604.84 488.51,604.57 492.42,604.42 496.32,604.41 500.23,604.53 504.14,604.78 508.05,605.18 511.95,605.72 515.86,606.41 519.77,607.23 523.68,608.19 527.58,609.29 531.49,610.52 535.4,611.88 539.3,613.36 543.21,614.96 547.12,616.67 551.03,618.48 554.93,620.39 558.84,622.4 562.75,624.49 566.66,626.67 570.56,628.92 574.47,631.24" fill="none" stroke="#55b0cf" stroke-width="1.25" clip-path="url(#cp2)"/>
<polyline points="433.81,629.47 437.72,628.16 441.62,626.91 445.53,625.72 449.44,624.6 453.34,623.56 457.25,622.6 461.16,621.71 465.07,620.92 468.97,620.22 472.88,619.61 476.79,619.11 480.7,618.71 484.6,618.41 488.51,618.24 492.42,618.17 496.32,618.23 500.23,618.41 504.14,618.71 508.05,619.14 511.95,619.69 515.86,620.36 519.77,621.17 523.68,622.09 527.58,623.14 531.49,624.3 535.4,625.58 539.3,626.98 543.21,628.48 547.12,630.09" fill="none" stroke="#55b0cf" stroke-width="1.25" clip-path="url(#cp2)"/>
<polyline points="375.2,603.48 644.8,492.12" fill="none" stroke="#d0474c" stroke-width="1.15" clip-path="url(#cp2)"/>
<line x1="373.8" y1="626.1" x2="373.8" y2="463.1" stroke="#4f7cb8" stroke-width="1.9" />
<polygon points="373.8,459.1 376.2,464.6 371.4,464.6" fill="#4f7cb8"/>
<line x1="373.8" y1="626.1" x2="658.8" y2="626.1" stroke="#4f7cb8" stroke-width="1.9" />
<polygon points="662.8,626.1 657.3,628.5 657.3,623.7" fill="#4f7cb8"/>
<text x="375.2" y="635.1" font-family="Liberation Sans" font-size="9.3" font-weight="bold" font-style="normal" fill="#000" text-anchor="middle" >-4</text>
<text x="442.6" y="635.1" font-family="Liberation Sans" font-size="9.3" font-weight="bold" font-style="normal" fill="#000" text-anchor="middle" >-2</text>
<text x="510" y="635.1" font-family="Liberation Sans" font-size="9.3" font-weight="bold" font-style="normal" fill="#000" text-anchor="middle" >0</text>
<text x="577.4" y="635.1" font-family="Liberation Sans" font-size="9.3" font-weight="bold" font-style="normal" fill="#000" text-anchor="middle" >2</text>
<text x="644.8" y="635.1" font-family="Liberation Sans" font-size="9.3" font-weight="bold" font-style="normal" fill="#000" text-anchor="middle" >4</text>
<text x="370.8" y="492.2" font-family="Liberation Sans" font-size="9.3" font-weight="bold" font-style="normal" fill="#000" text-anchor="end" >0.4</text>
<text x="370.8" y="520.4" font-family="Liberation Sans" font-size="9.3" font-weight="bold" font-style="normal" fill="#000" text-anchor="end" >0.2</text>
<text x="370.8" y="550.6" font-family="Liberation Sans" font-size="9.3" font-weight="bold" font-style="normal" fill="#000" text-anchor="end" >0</text>
<text x="370.8" y="578.3" font-family="Liberation Sans" font-size="9.3" font-weight="bold" font-style="normal" fill="#000" text-anchor="end" >-0.2</text>
<text x="370.8" y="607.5" font-family="Liberation Sans" font-size="9.3" font-weight="bold" font-style="normal" fill="#000" text-anchor="end" >-0.4</text>
<text x="450.8" y="468.3" font-family="Liberation Sans" font-size="11.6" font-weight="normal" font-style="normal" fill="#000" text-anchor="start" textLength="109.1" lengthAdjust="spacingAndGlyphs" >Type I 3-fold Fermion</text>
<text x="346" y="550.8" font-family="Liberation Sans" font-size="12" font-weight="normal" font-style="italic" fill="#000" text-anchor="start" >E</text>
<text x="505.3" y="649.2" font-family="Liberation Serif" font-style="italic" font-size="15">k<tspan font-size="11" dx="1" dy="2.8">z</tspan></text>
<clipPath id="cp3"><rect x="33.3" y="685.4" width="270.4" height="154.2"/></clipPath>
<line x1="33.3" y1="685.4" x2="303.7" y2="685.4" stroke="#dcdcdc" stroke-width="1.0" />
<polyline points="33.3,712.32 37.88,714.4 42.47,716.49 47.05,718.6 51.63,720.72 56.22,722.85 60.8,725.01 65.38,727.19 69.96,729.39 74.55,731.62 79.13,733.87 83.71,736.16 88.3,738.48 92.88,740.85 97.46,743.26 102.05,745.72 106.63,748.25 111.21,750.84 115.79,753.51 120.38,756.26 124.96,759.12 129.54,762.09 134.13,765.2 138.71,768.45 143.29,771.87 147.88,775.47 152.46,779.28 157.04,783.31 161.63,787.58 166.21,792.09 170.79,796.86 175.37,801.89 179.96,807.16 184.54,812.67 189.12,818.4 193.71,824.33 198.29,830.46 202.87,836.74 207.46,843.18" fill="none" stroke="#55b0cf" stroke-width="1.25" clip-path="url(#cp3)"/>
<polyline points="129.54,679.84 134.13,686.12 138.71,692.25 143.29,698.23 147.88,704.02 152.46,709.62 157.04,715.02 161.63,720.19 166.21,725.13 170.79,729.83 175.37,734.3 179.96,738.54 184.54,742.56 189.12,746.37 193.71,749.98 198.29,753.42 202.87,756.69 207.46,759.82 212.04,762.83 216.62,765.71 221.21,768.5 225.79,771.2 230.37,773.82 234.95,776.36 239.54,778.85 244.12,781.28 248.7,783.67 253.29,786.01 257.87,788.31 262.45,790.58 267.04,792.82 271.62,795.03 276.2,797.21 280.78,799.38 285.37,801.52 289.95,803.65 294.53,805.75 299.12,807.85 303.7,809.92" fill="none" stroke="#55b0cf" stroke-width="1.25" clip-path="url(#cp3)"/>
<polyline points="33.3,718.34 37.88,720.59 42.47,722.86 47.05,725.15 51.63,727.47 56.22,729.82 60.8,732.2 65.38,734.61 69.96,737.05 74.55,739.54 79.13,742.06 83.71,744.64 88.3,747.26 92.88,749.94 97.46,752.69 102.05,755.5 106.63,758.38 111.21,761.35 115.79,764.4 120.38,767.55 124.96,770.81 129.54,774.18 134.13,777.67 138.71,781.3 143.29,785.07 147.88,788.99 152.46,793.07 157.04,797.31 161.63,801.73 166.21,806.32 170.79,811.09 175.37,816.04 179.96,821.16 184.54,826.46 189.12,831.92 193.71,837.54 198.29,843.31" fill="none" stroke="#55b0cf" stroke-width="1.25" clip-path="url(#cp3)"/>
<polyline points="138.71,679.78 143.29,685.44 147.88,690.95 152.46,696.32 157.04,701.52 161.63,706.56 166.21,711.43 170.79,716.14 175.37,720.67 179.96,725.04 184.54,729.25 189.12,733.3 193.71,737.2 198.29,740.95 202.87,744.56 207.46,748.05 212.04,751.41 216.62,754.67 221.21,757.82 225.79,760.87 230.37,763.84 234.95,766.73 239.54,769.54 244.12,772.29 248.7,774.98 253.29,777.61 257.87,780.18 262.45,782.71 267.04,785.2 271.62,787.65 276.2,790.06 280.78,792.44 285.37,794.79 289.95,797.11 294.53,799.4 299.12,801.67 303.7,803.91" fill="none" stroke="#55b0cf" stroke-width="1.25" clip-path="url(#cp3)"/>
<polyline points="33.3,724.01 37.88,726.4 42.47,728.82 47.05,731.26 51.63,733.74 56.22,736.26 60.8,738.81 65.38,741.4 69.96,744.03 74.55,746.7 79.13,749.43 83.71,752.21 88.3,755.05 92.88,757.95 97.46,760.91 102.05,763.95 106.63,767.06 111.21,770.26 115.79,773.54 120.38,776.92 124.96,780.39 129.54,783.98 134.13,787.67 138.71,791.49 143.29,795.43 147.88,799.5 152.46,803.7 157.04,808.04 161.63,812.53 166.21,817.15 170.79,821.92 175.37,826.84 179.96,831.89 184.54,837.09 189.12,842.43 193.71,847.9" fill="none" stroke="#55b0cf" stroke-width="1.25" clip-path="url(#cp3)"/>
<polyline points="147.88,680.68 152.46,685.92 157.04,691.04 161.63,696.02 166.21,700.86 170.79,705.57 175.37,710.13 179.96,714.56 184.54,718.86 189.12,723.02 193.71,727.05 198.29,730.96 202.87,734.75 207.46,738.43 212.04,741.99 216.62,745.45 221.21,748.82 225.79,752.09 230.37,755.28 234.95,758.38 239.54,761.41 244.12,764.37 248.7,767.26 253.29,770.1 257.87,772.87 262.45,775.59 267.04,778.27 271.62,780.9 276.2,783.48 280.78,786.03 285.37,788.54 289.95,791.01 294.53,793.46 299.12,795.87 303.7,798.26" fill="none" stroke="#55b0cf" stroke-width="1.25" clip-path="url(#cp3)"/>
<polyline points="33.3,729.38 37.88,731.89 42.47,734.43 47.05,737.01 51.63,739.62 56.22,742.27 60.8,744.96 65.38,747.69 69.96,750.47 74.55,753.3 79.13,756.18 83.71,759.12 88.3,762.11 92.88,765.17 97.46,768.3 102.05,771.5 106.63,774.77 111.21,778.13 115.79,781.57 120.38,785.1 124.96,788.72 129.54,792.44 134.13,796.27 138.71,800.2 143.29,804.25 147.88,808.41 152.46,812.69 157.04,817.08 161.63,821.61 166.21,826.25 170.79,831.02 175.37,835.92 179.96,840.93 184.54,846.07" fill="none" stroke="#55b0cf" stroke-width="1.25" clip-path="url(#cp3)"/>
<polyline points="157.04,682.16 161.63,687.1 166.21,691.93 170.79,696.63 175.37,701.22 179.96,705.68 184.54,710.03 189.12,714.26 193.71,718.38 198.29,722.39 202.87,726.29 207.46,730.09 212.04,733.78 216.62,737.38 221.21,740.89 225.79,744.31 230.37,747.65 234.95,750.91 239.54,754.09 244.12,757.21 248.7,760.26 253.29,763.24 257.87,766.17 262.45,769.04 267.04,771.86 271.62,774.63 276.2,777.36 280.78,780.04 285.37,782.68 289.95,785.29 294.53,787.86 299.12,790.39 303.7,792.9" fill="none" stroke="#55b0cf" stroke-width="1.25" clip-path="url(#cp3)"/>
<polyline points="33.3,734.5 37.88,737.11 42.47,739.76 47.05,742.44 51.63,745.17 56.22,747.93 60.8,750.74 65.38,753.59 69.96,756.49 74.55,759.44 79.13,762.44 83.71,765.51 88.3,768.63 92.88,771.81 97.46,775.06 102.05,778.39 106.63,781.78 111.21,785.26 115.79,788.81 120.38,792.45 124.96,796.18 129.54,800.01 134.13,803.92 138.71,807.94 143.29,812.06 147.88,816.28 152.46,820.61 157.04,825.05 161.63,829.6 166.21,834.25 170.79,839.02 175.37,843.9" fill="none" stroke="#55b0cf" stroke-width="1.25" clip-path="url(#cp3)"/>
<polyline points="161.63,679.23 166.21,684.05 170.79,688.75 175.37,693.35 179.96,697.84 184.54,702.22 189.12,706.5 193.71,710.68 198.29,714.76 202.87,718.74 207.46,722.62 212.04,726.41 216.62,730.11 221.21,733.73 225.79,737.26 230.37,740.71 234.95,744.09 239.54,747.39 244.12,750.62 248.7,753.79 253.29,756.9 257.87,759.95 262.45,762.94 267.04,765.88 271.62,768.77 276.2,771.61 280.78,774.4 285.37,777.16 289.95,779.87 294.53,782.54 299.12,785.18 303.7,787.79" fill="none" stroke="#55b0cf" stroke-width="1.25" clip-path="url(#cp3)"/>
<polyline points="33.3,739.39 37.88,742.1 42.47,744.84 47.05,747.62 51.63,750.44 56.22,753.3 60.8,756.2 65.38,759.16 69.96,762.16 74.55,765.21 79.13,768.32 83.71,771.48 88.3,774.7 92.88,777.99 97.46,781.34 102.05,784.76 106.63,788.26 111.21,791.82 115.79,795.47 120.38,799.2 124.96,803.01 129.54,806.9 134.13,810.89 138.71,814.97 143.29,819.14 147.88,823.41 152.46,827.78 157.04,832.25 161.63,836.81 166.21,841.48 170.79,846.25" fill="none" stroke="#55b0cf" stroke-width="1.25" clip-path="url(#cp3)"/>
<polyline points="170.79,681.62 175.37,686.23 179.96,690.74 184.54,695.15 189.12,699.46 193.71,703.69 198.29,707.81 202.87,711.85 207.46,715.8 212.04,719.66 216.62,723.44 221.21,727.14 225.79,730.76 230.37,734.3 234.95,737.77 239.54,741.16 244.12,744.5 248.7,747.76 253.29,750.97 257.87,754.11 262.45,757.21 267.04,760.24 271.62,763.23 276.2,766.17 280.78,769.06 285.37,771.91 289.95,774.71 294.53,777.48 299.12,780.21 303.7,782.91" fill="none" stroke="#55b0cf" stroke-width="1.25" clip-path="url(#cp3)"/>
<polyline points="33.3,744.09 37.88,746.88 42.47,749.7 47.05,752.56 51.63,755.47 56.22,758.41 60.8,761.4 65.38,764.44 69.96,767.53 74.55,770.67 79.13,773.86 83.71,777.11 88.3,780.42 92.88,783.79 97.46,787.22 102.05,790.73 106.63,794.3 111.21,797.94 115.79,801.66 120.38,805.45 124.96,809.33 129.54,813.29 134.13,817.33 138.71,821.46 143.29,825.67 147.88,829.98 152.46,834.37 157.04,838.86 161.63,843.45" fill="none" stroke="#55b0cf" stroke-width="1.25" clip-path="url(#cp3)"/>
<polyline points="175.37,679.67 179.96,684.2 184.54,688.63 189.12,692.97 193.71,697.23 198.29,701.4 202.87,705.48 207.46,709.49 212.04,713.4 216.62,717.24 221.21,721.01 225.79,724.69 230.37,728.31 234.95,731.85 239.54,735.33 244.12,738.74 248.7,742.09 253.29,745.38 257.87,748.61 262.45,751.78 267.04,754.9 271.62,757.97 276.2,760.99 280.78,763.97 285.37,766.9 289.95,769.79 294.53,772.63 299.12,775.44 303.7,778.22" fill="none" stroke="#55b0cf" stroke-width="1.25" clip-path="url(#cp3)"/>
<polyline points="33.3,748.62 37.88,751.48 42.47,754.37 47.05,757.31 51.63,760.28 56.22,763.3 60.8,766.37 65.38,769.48 69.96,772.64 74.55,775.86 79.13,779.13 83.71,782.45 88.3,785.83 92.88,789.27 97.46,792.78 102.05,796.35 106.63,799.98 111.21,803.69 115.79,807.47 120.38,811.32 124.96,815.25 129.54,819.26 134.13,823.34 138.71,827.51 143.29,831.76 147.88,836.09 152.46,840.52 157.04,845.02" fill="none" stroke="#55b0cf" stroke-width="1.25" clip-path="url(#cp3)"/>
<polyline points="179.96,678.1 184.54,682.55 189.12,686.92 193.71,691.21 198.29,695.41 202.87,699.53 207.46,703.58 212.04,707.54 216.62,711.43 221.21,715.25 225.79,718.99 230.37,722.67 234.95,726.28 239.54,729.82 244.12,733.3 248.7,736.71 253.29,740.07 257.87,743.37 262.45,746.62 267.04,749.81 271.62,752.95 276.2,756.05 280.78,759.1 285.37,762.1 289.95,765.06 294.53,767.98 299.12,770.86 303.7,773.7" fill="none" stroke="#55b0cf" stroke-width="1.25" clip-path="url(#cp3)"/>
<polyline points="33.3,752.99 37.88,755.91 42.47,758.88 47.05,761.88 51.63,764.92 56.22,768 60.8,771.13 65.38,774.31 69.96,777.54 74.55,780.82 79.13,784.15 83.71,787.54 88.3,790.98 92.88,794.49 97.46,798.05 102.05,801.68 106.63,805.37 111.21,809.13 115.79,812.96 120.38,816.86 124.96,820.83 129.54,824.88 134.13,829 138.71,833.21 143.29,837.48 147.88,841.84 152.46,846.28" fill="none" stroke="#55b0cf" stroke-width="1.25" clip-path="url(#cp3)"/>
<polyline points="189.12,681.23 193.71,685.54 198.29,689.77 202.87,693.92 207.46,698 212.04,702.01 216.62,705.94 221.21,709.8 225.79,713.6 230.37,717.32 234.95,720.98 239.54,724.58 244.12,728.12 248.7,731.59 253.29,735.01 257.87,738.38 262.45,741.68 267.04,744.94 271.62,748.15 276.2,751.3 280.78,754.42 285.37,757.48 289.95,760.51 294.53,763.49 299.12,766.43 303.7,769.34" fill="none" stroke="#55b0cf" stroke-width="1.25" clip-path="url(#cp3)"/>
<polyline points="33.3,757.23 37.88,760.21 42.47,763.22 47.05,766.28 51.63,769.38 56.22,772.53 60.8,775.72 65.38,778.96 69.96,782.24 74.55,785.58 79.13,788.97 83.71,792.41 88.3,795.91 92.88,799.47 97.46,803.08 102.05,806.76 106.63,810.5 111.21,814.31 115.79,818.18 120.38,822.12 124.96,826.13 129.54,830.22 134.13,834.37 138.71,838.6 143.29,842.91" fill="none" stroke="#55b0cf" stroke-width="1.25" clip-path="url(#cp3)"/>
<polyline points="193.71,680.17 198.29,684.42 202.87,688.6 207.46,692.71 212.04,696.75 216.62,700.72 221.21,704.62 225.79,708.46 230.37,712.23 234.95,715.94 239.54,719.58 244.12,723.17 248.7,726.7 253.29,730.17 257.87,733.59 262.45,736.95 267.04,740.26 271.62,743.53 276.2,746.74 280.78,749.91 285.37,753.03 289.95,756.12 294.53,759.16 299.12,762.16 303.7,765.12" fill="none" stroke="#55b0cf" stroke-width="1.25" clip-path="url(#cp3)"/>
<polyline points="33.3,761.33 37.88,764.36 42.47,767.44 47.05,770.55 51.63,773.7 56.22,776.9 60.8,780.14 65.38,783.43 69.96,786.77 74.55,790.16 79.13,793.6 83.71,797.09 88.3,800.64 92.88,804.24 97.46,807.9 102.05,811.63 106.63,815.41 111.21,819.26 115.79,823.17 120.38,827.15 124.96,831.19 129.54,835.3 134.13,839.49 138.71,843.74" fill="none" stroke="#55b0cf" stroke-width="1.25" clip-path="url(#cp3)"/>
<polyline points="198.29,679.33 202.87,683.53 207.46,687.67 212.04,691.74 216.62,695.74 221.21,699.68 225.79,703.55 230.37,707.36 234.95,711.11 239.54,714.8 244.12,718.43 248.7,722 253.29,725.52 257.87,728.98 262.45,732.4 267.04,735.76 271.62,739.07 276.2,742.34 280.78,745.56 285.37,748.73 289.95,751.87 294.53,754.96 299.12,758.01 303.7,761.03" fill="none" stroke="#55b0cf" stroke-width="1.25" clip-path="url(#cp3)"/>
<polyline points="33.3,765.32 37.88,768.4 42.47,771.52 47.05,774.68 51.63,777.89 56.22,781.13 60.8,784.42 65.38,787.76 69.96,791.14 74.55,794.58 79.13,798.06 83.71,801.6 88.3,805.19 92.88,808.84 97.46,812.54 102.05,816.3 106.63,820.12 111.21,824.01 115.79,827.95 120.38,831.96 124.96,836.03 129.54,840.17 134.13,844.38" fill="none" stroke="#55b0cf" stroke-width="1.25" clip-path="url(#cp3)"/>
<polyline points="202.87,678.68 207.46,682.84 212.04,686.93 216.62,690.96 221.21,694.93 225.79,698.83 230.37,702.68 234.95,706.46 239.54,710.19 244.12,713.86 248.7,717.48 253.29,721.04 257.87,724.54 262.45,728 267.04,731.41 271.62,734.77 276.2,738.08 280.78,741.35 285.37,744.57 289.95,747.75 294.53,750.89 299.12,753.99 303.7,757.05" fill="none" stroke="#55b0cf" stroke-width="1.25" clip-path="url(#cp3)"/>
<polyline points="33.3,769.2 37.88,772.33 42.47,775.49 47.05,778.7 51.63,781.94 56.22,785.23 60.8,788.57 65.38,791.95 69.96,795.38 74.55,798.85 79.13,802.38 83.71,805.96 88.3,809.59 92.88,813.27 97.46,817.01 102.05,820.81 106.63,824.66 111.21,828.58 115.79,832.55 120.38,836.59 124.96,840.69 129.54,844.85" fill="none" stroke="#55b0cf" stroke-width="1.25" clip-path="url(#cp3)"/>
<polyline points="212.04,682.31 216.62,686.37 221.21,690.36 225.79,694.3 230.37,698.17 234.95,701.99 239.54,705.75 244.12,709.46 248.7,713.11 253.29,716.71 257.87,720.25 262.45,723.75 267.04,727.2 271.62,730.6 276.2,733.95 280.78,737.26 285.37,740.53 289.95,743.75 294.53,746.93 299.12,750.08 303.7,753.18" fill="none" stroke="#55b0cf" stroke-width="1.25" clip-path="url(#cp3)"/>
<polyline points="33.3,772.98 37.88,776.15 42.47,779.36 47.05,782.6 51.63,785.89 56.22,789.22 60.8,792.6 65.38,796.02 69.96,799.48 74.55,803 79.13,806.56 83.71,810.17 88.3,813.84 92.88,817.56 97.46,821.33 102.05,825.16 106.63,829.04 111.21,832.99 115.79,836.99 120.38,841.05 124.96,845.17" fill="none" stroke="#55b0cf" stroke-width="1.25" clip-path="url(#cp3)"/>
<polyline points="216.62,681.94 221.21,685.96 225.79,689.92 230.37,693.82 234.95,697.67 239.54,701.46 244.12,705.19 248.7,708.88 253.29,712.51 257.87,716.09 262.45,719.63 267.04,723.11 271.62,726.55 276.2,729.94 280.78,733.29 285.37,736.6 289.95,739.86 294.53,743.08 299.12,746.27 303.7,749.41" fill="none" stroke="#55b0cf" stroke-width="1.25" clip-path="url(#cp3)"/>
<polyline points="33.3,776.67 37.88,779.88 42.47,783.12 47.05,786.41 51.63,789.73 56.22,793.1 60.8,796.51 65.38,799.97 69.96,803.47 74.55,807.02 79.13,810.62 83.71,814.26 88.3,817.96 92.88,821.71 97.46,825.51 102.05,829.37 106.63,833.28 111.21,837.25 115.79,841.28 120.38,845.36" fill="none" stroke="#55b0cf" stroke-width="1.25" clip-path="url(#cp3)"/>
<polyline points="221.21,681.7 225.79,685.68 230.37,689.61 234.95,693.48 239.54,697.3 244.12,701.07 248.7,704.78 253.29,708.44 257.87,712.06 262.45,715.62 267.04,719.14 271.62,722.62 276.2,726.04 280.78,729.43 285.37,732.77 289.95,736.07 294.53,739.33 299.12,742.55 303.7,745.73" fill="none" stroke="#55b0cf" stroke-width="1.25" clip-path="url(#cp3)"/>
<polyline points="33.3,780.28 37.88,783.52 42.47,786.8 47.05,790.12 51.63,793.48 56.22,796.88 60.8,800.33 65.38,803.82 69.96,807.35 74.55,810.93 79.13,814.56 83.71,818.24 88.3,821.97 92.88,825.75 97.46,829.58 102.05,833.46 106.63,837.4 111.21,841.39 115.79,845.44" fill="none" stroke="#55b0cf" stroke-width="1.25" clip-path="url(#cp3)"/>
<polyline points="225.79,681.57 230.37,685.52 234.95,689.42 239.54,693.26 244.12,697.06 248.7,700.8 253.29,704.49 257.87,708.14 262.45,711.73 267.04,715.28 271.62,718.79 276.2,722.25 280.78,725.66 285.37,729.04 289.95,732.37 294.53,735.67 299.12,738.92 303.7,742.14" fill="none" stroke="#55b0cf" stroke-width="1.25" clip-path="url(#cp3)"/>
<polyline points="33.3,783.8 37.88,787.08 42.47,790.39 47.05,793.74 51.63,797.14 56.22,800.57 60.8,804.05 65.38,807.57 69.96,811.13 74.55,814.75 79.13,818.4 83.71,822.11 88.3,825.86 92.88,829.67 97.46,833.52 102.05,837.43 106.63,841.39 111.21,845.41" fill="none" stroke="#55b0cf" stroke-width="1.25" clip-path="url(#cp3)"/>
<polyline points="230.37,681.55 234.95,685.47 239.54,689.34 244.12,693.16 248.7,696.92 253.29,700.64 257.87,704.32 262.45,707.94 267.04,711.52 271.62,715.05 276.2,718.54 280.78,721.99 285.37,725.4 289.95,728.76 294.53,732.09 299.12,735.38 303.7,738.63" fill="none" stroke="#55b0cf" stroke-width="1.25" clip-path="url(#cp3)"/>
<polyline points="33.3,787.25 37.88,790.56 42.47,793.9 47.05,797.29 51.63,800.71 56.22,804.17 60.8,807.68 65.38,811.23 69.96,814.82 74.55,818.46 79.13,822.15 83.71,825.88 88.3,829.66 92.88,833.49 97.46,837.37 102.05,841.3 106.63,845.28" fill="none" stroke="#55b0cf" stroke-width="1.25" clip-path="url(#cp3)"/>
<polyline points="234.95,681.63 239.54,685.52 244.12,689.36 248.7,693.15 253.29,696.89 257.87,700.59 262.45,704.24 267.04,707.85 271.62,711.41 276.2,714.93 280.78,718.4 285.37,721.84 289.95,725.24 294.53,728.59 299.12,731.91 303.7,735.19" fill="none" stroke="#55b0cf" stroke-width="1.25" clip-path="url(#cp3)"/>
<polyline points="33.3,790.63 37.88,793.97 42.47,797.34 47.05,800.75 51.63,804.21 56.22,807.7 60.8,811.23 65.38,814.81 69.96,818.43 74.55,822.09 79.13,825.8 83.71,829.56 88.3,833.36 92.88,837.22 97.46,841.12 102.05,845.07" fill="none" stroke="#55b0cf" stroke-width="1.25" clip-path="url(#cp3)"/>
<polyline points="239.54,681.79 244.12,685.65 248.7,689.47 253.29,693.23 257.87,696.95 262.45,700.63 267.04,704.26 271.62,707.85 276.2,711.39 280.78,714.9 285.37,718.36 289.95,721.78 294.53,725.17 299.12,728.51 303.7,731.82" fill="none" stroke="#55b0cf" stroke-width="1.25" clip-path="url(#cp3)"/>
<polyline points="33.3,793.95 37.88,797.31 42.47,800.71 47.05,804.15 51.63,807.63 56.22,811.15 60.8,814.71 65.38,818.31 69.96,821.95 74.55,825.64 79.13,829.38 83.71,833.16 88.3,836.98 92.88,840.85 97.46,844.77" fill="none" stroke="#55b0cf" stroke-width="1.25" clip-path="url(#cp3)"/>
<polyline points="244.12,682.04 248.7,685.87 253.29,689.66 257.87,693.4 262.45,697.1 267.04,700.75 271.62,704.36 276.2,707.93 280.78,711.46 285.37,714.95 289.95,718.4 294.53,721.81 299.12,725.18 303.7,728.52" fill="none" stroke="#55b0cf" stroke-width="1.25" clip-path="url(#cp3)"/>
<polyline points="33.3,797.2 37.88,800.59 42.47,804.01 47.05,807.48 51.63,810.98 56.22,814.53 60.8,818.11 65.38,821.74 69.96,825.4 74.55,829.12 79.13,832.87 83.71,836.67 88.3,840.52 92.88,844.41" fill="none" stroke="#55b0cf" stroke-width="1.25" clip-path="url(#cp3)"/>
<polyline points="248.7,682.35 253.29,686.16 257.87,689.92 262.45,693.64 267.04,697.32 271.62,700.95 276.2,704.55 280.78,708.1 285.37,711.61 289.95,715.09 294.53,718.52 299.12,721.92 303.7,725.28" fill="none" stroke="#55b0cf" stroke-width="1.25" clip-path="url(#cp3)"/>
<polyline points="33.3,800.39 37.88,803.81 42.47,807.26 47.05,810.75 51.63,814.27 56.22,817.84 60.8,821.45 65.38,825.09 69.96,828.78 74.55,832.52 79.13,836.29 83.71,840.11 88.3,843.98" fill="none" stroke="#55b0cf" stroke-width="1.25" clip-path="url(#cp3)"/>
<polyline points="248.7,678.91 253.29,682.74 257.87,686.52 262.45,690.26 267.04,693.96 271.62,697.61 276.2,701.23 280.78,704.8 285.37,708.34 289.95,711.83 294.53,715.29 299.12,718.71 303.7,722.1" fill="none" stroke="#55b0cf" stroke-width="1.25" clip-path="url(#cp3)"/>
<polyline points="33.3,803.53 37.88,806.97 42.47,810.44 47.05,813.95 51.63,817.5 56.22,821.09 60.8,824.72 65.38,828.39 69.96,832.1 74.55,835.85 79.13,839.65 83.71,843.49" fill="none" stroke="#55b0cf" stroke-width="1.25" clip-path="url(#cp3)"/>
<polyline points="253.29,679.38 257.87,683.18 262.45,686.94 267.04,690.66 271.62,694.33 276.2,697.97 280.78,701.56 285.37,705.12 289.95,708.64 294.53,712.12 299.12,715.57 303.7,718.97" fill="none" stroke="#55b0cf" stroke-width="1.25" clip-path="url(#cp3)"/>
<polyline points="33.3,806.61 37.88,810.07 42.47,813.57 47.05,817.1 51.63,820.67 56.22,824.28 60.8,827.93 65.38,831.62 69.96,835.35 74.55,839.12 79.13,842.94" fill="none" stroke="#55b0cf" stroke-width="1.25" clip-path="url(#cp3)"/>
<polyline points="257.87,679.91 262.45,683.69 267.04,687.42 271.62,691.12 276.2,694.77 280.78,698.39 285.37,701.96 289.95,705.5 294.53,709.01 299.12,712.47 303.7,715.9" fill="none" stroke="#55b0cf" stroke-width="1.25" clip-path="url(#cp3)"/>
<polyline points="33.3,809.64 37.88,813.13 42.47,816.64 47.05,820.2 51.63,823.79 56.22,827.42 60.8,831.09 65.38,834.79 69.96,838.54 74.55,842.33 79.13,846.16" fill="none" stroke="#55b0cf" stroke-width="1.25" clip-path="url(#cp3)"/>
<polyline points="262.45,680.49 267.04,684.25 271.62,687.96 276.2,691.63 280.78,695.26 285.37,698.86 289.95,702.42 294.53,705.94 299.12,709.43 303.7,712.88" fill="none" stroke="#55b0cf" stroke-width="1.25" clip-path="url(#cp3)"/>
<polyline points="33.3,812.63 37.88,816.13 42.47,819.67 47.05,823.24 51.63,826.85 56.22,830.5 60.8,834.19 65.38,837.91 69.96,841.68 74.55,845.49" fill="none" stroke="#55b0cf" stroke-width="1.25" clip-path="url(#cp3)"/>
<polyline points="267.04,681.12 271.62,684.85 276.2,688.54 280.78,692.2 285.37,695.81 289.95,699.39 294.53,702.93 299.12,706.44 303.7,709.91" fill="none" stroke="#55b0cf" stroke-width="1.25" clip-path="url(#cp3)"/>
<polyline points="33.3,815.57 37.88,819.09 42.47,822.65 47.05,826.24 51.63,829.87 56.22,833.53 60.8,837.24 65.38,840.98 69.96,844.76" fill="none" stroke="#55b0cf" stroke-width="1.25" clip-path="url(#cp3)"/>
<polyline points="271.62,681.8 276.2,685.51 280.78,689.18 285.37,692.81 289.95,696.4 294.53,699.96 299.12,703.49 303.7,706.98" fill="none" stroke="#55b0cf" stroke-width="1.25" clip-path="url(#cp3)"/>
<polyline points="33.3,818.47 37.88,822.01 42.47,825.58 47.05,829.19 51.63,832.84 56.22,836.52 60.8,840.24 65.38,844" fill="none" stroke="#55b0cf" stroke-width="1.25" clip-path="url(#cp3)"/>
<polyline points="271.62,678.8 276.2,682.52 280.78,686.2 285.37,689.85 289.95,693.47 294.53,697.04 299.12,700.58 303.7,704.09" fill="none" stroke="#55b0cf" stroke-width="1.25" clip-path="url(#cp3)"/>
<polyline points="33.3,821.32 37.88,824.88 42.47,828.47 47.05,832.1 51.63,835.76 56.22,839.46 60.8,843.2" fill="none" stroke="#55b0cf" stroke-width="1.25" clip-path="url(#cp3)"/>
<polyline points="276.2,679.58 280.78,683.28 285.37,686.94 289.95,690.57 294.53,694.17 299.12,697.72 303.7,701.25" fill="none" stroke="#55b0cf" stroke-width="1.25" clip-path="url(#cp3)"/>
<polyline points="33.3,824.13 37.88,827.71 42.47,831.32 47.05,834.96 51.63,838.64 56.22,842.35 60.8,846.11" fill="none" stroke="#55b0cf" stroke-width="1.25" clip-path="url(#cp3)"/>
<polyline points="280.78,680.4 285.37,684.08 289.95,687.72 294.53,691.33 299.12,694.91 303.7,698.45" fill="none" stroke="#55b0cf" stroke-width="1.25" clip-path="url(#cp3)"/>
<polyline points="33.3,826.91 37.88,830.5 42.47,834.12 47.05,837.78 51.63,841.48 56.22,845.21" fill="none" stroke="#55b0cf" stroke-width="1.25" clip-path="url(#cp3)"/>
<polyline points="285.37,681.25 289.95,684.91 294.53,688.53 299.12,692.12 303.7,695.68" fill="none" stroke="#55b0cf" stroke-width="1.25" clip-path="url(#cp3)"/>
<polyline points="33.3,829.65 37.88,833.25 42.47,836.89 47.05,840.57 51.63,844.28" fill="none" stroke="#55b0cf" stroke-width="1.25" clip-path="url(#cp3)"/>
<polyline points="289.95,682.14 294.53,685.78 299.12,689.38 303.7,692.95" fill="none" stroke="#55b0cf" stroke-width="1.25" clip-path="url(#cp3)"/>
<polyline points="33.3,832.35 37.88,835.97 42.47,839.63 47.05,843.31" fill="none" stroke="#55b0cf" stroke-width="1.25" clip-path="url(#cp3)"/>
<polyline points="289.95,679.4 294.53,683.05 299.12,686.67 303.7,690.26" fill="none" stroke="#55b0cf" stroke-width="1.25" clip-path="url(#cp3)"/>
<polyline points="33.3,835.02 37.88,838.66 42.47,842.32 47.05,846.03" fill="none" stroke="#55b0cf" stroke-width="1.25" clip-path="url(#cp3)"/>
<polyline points="294.53,680.37 299.12,684 303.7,687.6" fill="none" stroke="#55b0cf" stroke-width="1.25" clip-path="url(#cp3)"/>
<polyline points="33.3,837.66 37.88,841.31 42.47,844.99" fill="none" stroke="#55b0cf" stroke-width="1.25" clip-path="url(#cp3)"/>
<polyline points="299.12,681.36 303.7,684.98" fill="none" stroke="#55b0cf" stroke-width="1.25" clip-path="url(#cp3)"/>
<polyline points="33.3,840.26 37.88,843.92" fill="none" stroke="#55b0cf" stroke-width="1.25" clip-path="url(#cp3)"/>
<polyline points="33.3,706.02 303.7,817.38" fill="none" stroke="#d0474c" stroke-width="1.15" clip-path="url(#cp3)"/>
<line x1="33.3" y1="839.6" x2="33.3" y2="679.2" stroke="#4f7cb8" stroke-width="1.9" />
<polygon points="33.3,675.2 35.7,680.7 30.9,680.7" fill="#4f7cb8"/>
<line x1="33.3" y1="839.6" x2="319.4" y2="839.6" stroke="#4f7cb8" stroke-width="1.9" />
<polygon points="323.4,839.6 317.9,842 317.9,837.2" fill="#4f7cb8"/>
<text x="33.3" y="848.6" font-family="Liberation Sans" font-size="9.3" font-weight="bold" font-style="normal" fill="#000" text-anchor="middle" >-4</text>
<text x="100.9" y="848.6" font-family="Liberation Sans" font-size="9.3" font-weight="bold" font-style="normal" fill="#000" text-anchor="middle" >-2</text>
<text x="168.5" y="848.6" font-family="Liberation Sans" font-size="9.3" font-weight="bold" font-style="normal" fill="#000" text-anchor="middle" >0</text>
<text x="236.1" y="848.6" font-family="Liberation Sans" font-size="9.3" font-weight="bold" font-style="normal" fill="#000" text-anchor="middle" >2</text>
<text x="303.7" y="848.6" font-family="Liberation Sans" font-size="9.3" font-weight="bold" font-style="normal" fill="#000" text-anchor="middle" >4</text>
<text x="31.4" y="706.2" font-family="Liberation Sans" font-size="9.3" font-weight="bold" font-style="normal" fill="#000" text-anchor="end" >0.4</text>
<text x="31.4" y="733.9" font-family="Liberation Sans" font-size="9.3" font-weight="bold" font-style="normal" fill="#000" text-anchor="end" >0.2</text>
<text x="31.4" y="765.1" font-family="Liberation Sans" font-size="9.3" font-weight="bold" font-style="normal" fill="#000" text-anchor="end" >0</text>
<text x="31.4" y="790.3" font-family="Liberation Sans" font-size="9.3" font-weight="bold" font-style="normal" fill="#000" text-anchor="end" >-0.2</text>
<text x="31.4" y="822.1" font-family="Liberation Sans" font-size="9.3" font-weight="bold" font-style="normal" fill="#000" text-anchor="end" >-0.4</text>
<text x="114.1" y="680.7" font-family="Liberation Sans" font-size="11.6" font-weight="normal" font-style="normal" fill="#000" text-anchor="start" textLength="107.3" lengthAdjust="spacingAndGlyphs" >Type II Weyl Fermion</text>
<text x="5.8" y="761.8" font-family="Liberation Sans" font-size="12" font-weight="normal" font-style="italic" fill="#000" text-anchor="start" >E</text>
<text x="163.7" y="861.5" font-family="Liberation Serif" font-style="italic" font-size="15">k<tspan font-size="11" dx="1" dy="2.8">z</tspan></text>
<clipPath id="cp4"><rect x="376" y="684.5" width="269.5" height="154.4"/></clipPath>
<line x1="375.5" y1="684.5" x2="645.5" y2="684.5" stroke="#dcdcdc" stroke-width="1.0" />
<polyline points="376,702.2 646.2,802.17" fill="none" stroke="#55b0cf" stroke-width="1.2" clip-path="url(#cp4)"/>
<polyline points="376,697.6 646.2,796.49" fill="none" stroke="#55b0cf" stroke-width="1.2" clip-path="url(#cp4)"/>
<polyline points="376,693 646.2,790.81" fill="none" stroke="#55b0cf" stroke-width="1.2" clip-path="url(#cp4)"/>
<polyline points="376,688.4 646.2,785.13" fill="none" stroke="#55b0cf" stroke-width="1.2" clip-path="url(#cp4)"/>
<polyline points="376,683.8 646.2,779.45" fill="none" stroke="#55b0cf" stroke-width="1.2" clip-path="url(#cp4)"/>
<polyline points="376,679.2 646.2,773.77" fill="none" stroke="#55b0cf" stroke-width="1.2" clip-path="url(#cp4)"/>
<polyline points="376,674.6 646.2,768.09" fill="none" stroke="#55b0cf" stroke-width="1.2" clip-path="url(#cp4)"/>
<polyline points="376,670 646.2,762.41" fill="none" stroke="#55b0cf" stroke-width="1.2" clip-path="url(#cp4)"/>
<polyline points="376,665.4 646.2,756.73" fill="none" stroke="#55b0cf" stroke-width="1.2" clip-path="url(#cp4)"/>
<polyline points="376,660.8 646.2,751.05" fill="none" stroke="#55b0cf" stroke-width="1.2" clip-path="url(#cp4)"/>
<polyline points="376,656.2 646.2,745.37" fill="none" stroke="#55b0cf" stroke-width="1.2" clip-path="url(#cp4)"/>
<polyline points="376,651.6 646.2,739.69" fill="none" stroke="#55b0cf" stroke-width="1.2" clip-path="url(#cp4)"/>
<polyline points="376,647 646.2,734" fill="none" stroke="#55b0cf" stroke-width="1.2" clip-path="url(#cp4)"/>
<polyline points="376,642.4 646.2,728.32" fill="none" stroke="#55b0cf" stroke-width="1.2" clip-path="url(#cp4)"/>
<polyline points="376,637.8 646.2,722.64" fill="none" stroke="#55b0cf" stroke-width="1.2" clip-path="url(#cp4)"/>
<polyline points="376,633.2 646.2,716.96" fill="none" stroke="#55b0cf" stroke-width="1.2" clip-path="url(#cp4)"/>
<polyline points="376,628.6 646.2,711.28" fill="none" stroke="#55b0cf" stroke-width="1.2" clip-path="url(#cp4)"/>
<polyline points="376,624 646.2,705.6" fill="none" stroke="#55b0cf" stroke-width="1.2" clip-path="url(#cp4)"/>
<polyline points="376,619.4 646.2,699.92" fill="none" stroke="#55b0cf" stroke-width="1.2" clip-path="url(#cp4)"/>
<polyline points="376,614.8 646.2,694.24" fill="none" stroke="#55b0cf" stroke-width="1.2" clip-path="url(#cp4)"/>
<polyline points="376,610.2 646.2,688.56" fill="none" stroke="#55b0cf" stroke-width="1.2" clip-path="url(#cp4)"/>
<polyline points="376,605.6 646.2,682.88" fill="none" stroke="#55b0cf" stroke-width="1.2" clip-path="url(#cp4)"/>
<polyline points="376,601 646.2,677.2" fill="none" stroke="#55b0cf" stroke-width="1.2" clip-path="url(#cp4)"/>
<polyline points="376,596.4 646.2,671.52" fill="none" stroke="#55b0cf" stroke-width="1.2" clip-path="url(#cp4)"/>
<polyline points="376,591.8 646.2,665.83" fill="none" stroke="#55b0cf" stroke-width="1.2" clip-path="url(#cp4)"/>
<polyline points="376,587.2 646.2,660.15" fill="none" stroke="#55b0cf" stroke-width="1.2" clip-path="url(#cp4)"/>
<polyline points="508.3,684.5 646.2,811.5" fill="none" stroke="#55b0cf" stroke-width="1.0" clip-path="url(#cp4)"/>
<polyline points="511.73,684.5 646.2,810.89" fill="none" stroke="#55b0cf" stroke-width="1.0" clip-path="url(#cp4)"/>
<polyline points="514.94,684.5 646.2,810.3" fill="none" stroke="#55b0cf" stroke-width="1.0" clip-path="url(#cp4)"/>
<polyline points="517.95,684.5 646.2,809.72" fill="none" stroke="#55b0cf" stroke-width="1.0" clip-path="url(#cp4)"/>
<polyline points="520.76,684.5 646.2,809.14" fill="none" stroke="#55b0cf" stroke-width="1.0" clip-path="url(#cp4)"/>
<polyline points="523.35,684.5 646.2,808.59" fill="none" stroke="#55b0cf" stroke-width="1.0" clip-path="url(#cp4)"/>
<polyline points="525.74,684.5 646.2,808.04" fill="none" stroke="#55b0cf" stroke-width="1.0" clip-path="url(#cp4)"/>
<polyline points="527.92,684.5 646.2,807.51" fill="none" stroke="#55b0cf" stroke-width="1.0" clip-path="url(#cp4)"/>
<polyline points="529.89,684.5 646.2,807" fill="none" stroke="#55b0cf" stroke-width="1.0" clip-path="url(#cp4)"/>
<polyline points="531.66,684.5 646.2,806.5" fill="none" stroke="#55b0cf" stroke-width="1.0" clip-path="url(#cp4)"/>
<polyline points="533.21,684.5 646.2,806.02" fill="none" stroke="#55b0cf" stroke-width="1.0" clip-path="url(#cp4)"/>
<polyline points="534.56,684.5 646.2,805.57" fill="none" stroke="#55b0cf" stroke-width="1.0" clip-path="url(#cp4)"/>
<polyline points="535.7,684.5 646.2,805.13" fill="none" stroke="#55b0cf" stroke-width="1.0" clip-path="url(#cp4)"/>
<polyline points="536.64,684.5 646.2,804.72" fill="none" stroke="#55b0cf" stroke-width="1.0" clip-path="url(#cp4)"/>
<polyline points="537.37,684.5 646.2,804.34" fill="none" stroke="#55b0cf" stroke-width="1.0" clip-path="url(#cp4)"/>
<polyline points="537.88,684.5 646.2,804" fill="none" stroke="#55b0cf" stroke-width="1.0" clip-path="url(#cp4)"/>
<polyline points="538.2,684.5 646.2,803.7" fill="none" stroke="#55b0cf" stroke-width="1.0" clip-path="url(#cp4)"/>
<polyline points="538.3,684.5 646.2,803.5" fill="none" stroke="#55b0cf" stroke-width="1.0" clip-path="url(#cp4)"/>
<polyline points="458,684.5 460.84,687.79 463.93,691.16 467.29,694.61 470.91,698.15 474.79,701.76 478.93,705.47 483.33,709.25 487.99,713.12 492.91,717.07 498.1,721.1 503.54,725.22 509.25,729.42 515.22,733.7 521.45,738.07 527.94,742.51 534.69,747.04 541.7,751.66 548.97,756.36 556.5,761.14 564.3,766 572.36,770.95 580.67,775.97 589.25,781.09 598.09,786.28 607.19,791.56 616.55,796.92 626.17,802.36 636.06,807.89 646.2,813.5" fill="none" stroke="#55b0cf" stroke-width="1.0" clip-path="url(#cp4)"/>
<polyline points="468,684.5 471.29,688.35 474.79,692.24 478.49,696.18 482.4,700.15 486.51,704.16 490.82,708.21 495.34,712.31 500.06,716.44 504.98,720.62 510.11,724.83 515.44,729.09 520.97,733.38 526.71,737.72 532.65,742.1 538.79,746.51 545.14,750.97 551.69,755.47 558.45,760.01 565.41,764.59 572.57,769.21 579.94,773.87 587.51,778.57 595.28,783.31 603.26,788.09 611.44,792.91 619.82,797.77 628.41,802.67 637.2,807.62 646.2,812.6" fill="none" stroke="#55b0cf" stroke-width="1.0" clip-path="url(#cp4)"/>
<polyline points="478,684.5 481.75,688.92 485.65,693.33 489.7,697.74 493.89,702.15 498.23,706.56 502.71,710.96 507.35,715.37 512.12,719.77 517.05,724.17 522.11,728.56 527.33,732.96 532.69,737.35 538.2,741.74 543.85,746.13 549.65,750.51 555.6,754.9 561.69,759.28 567.93,763.66 574.31,768.04 580.85,772.41 587.52,776.79 594.35,781.16 601.31,785.53 608.43,789.9 615.69,794.26 623.1,798.62 630.65,802.98 638.35,807.34 646.2,811.7" fill="none" stroke="#55b0cf" stroke-width="1.0" clip-path="url(#cp4)"/>
<polyline points="488,684.5 492.21,689.48 496.51,694.42 500.91,699.31 505.38,704.15 509.95,708.95 514.61,713.71 519.35,718.42 524.19,723.09 529.11,727.71 534.12,732.29 539.22,736.83 544.41,741.32 549.69,745.76 555.06,750.16 560.51,754.51 566.06,758.83 571.69,763.09 577.41,767.31 583.22,771.49 589.12,775.62 595.11,779.71 601.18,783.75 607.35,787.75 613.6,791.7 619.94,795.61 626.37,799.48 632.89,803.29 639.5,807.07 646.2,810.8" fill="none" stroke="#55b0cf" stroke-width="1.0" clip-path="url(#cp4)"/>
<polyline points="497,684.5 501.62,689.98 506.27,695.37 510.96,700.68 515.7,705.91 520.46,711.06 525.27,716.13 530.11,721.11 534.99,726.01 539.91,730.83 544.87,735.56 549.86,740.22 554.89,744.79 559.96,749.28 565.07,753.68 570.22,758.01 575.4,762.25 580.62,766.41 585.88,770.49 591.17,774.48 596.5,778.39 601.88,782.22 607.28,785.97 612.73,789.64 618.21,793.22 623.74,796.72 629.3,800.14 634.89,803.47 640.53,806.73 646.2,809.9" fill="none" stroke="#55b0cf" stroke-width="1.0" clip-path="url(#cp4)"/>
<polyline points="506,684.5 511.02,690.47 516.03,696.33 521.02,702.06 526.01,707.67 530.97,713.17 535.93,718.54 540.87,723.8 545.8,728.93 550.71,733.94 555.61,738.84 560.5,743.61 565.38,748.26 570.24,752.79 575.08,757.21 579.92,761.5 584.74,765.67 589.55,769.73 594.34,773.66 599.12,777.47 603.89,781.17 608.65,784.74 613.39,788.19 618.11,791.52 622.83,794.74 627.53,797.83 632.22,800.8 636.89,803.65 641.55,806.39 646.2,809" fill="none" stroke="#55b0cf" stroke-width="1.0" clip-path="url(#cp4)"/>
<polyline points="514,684.5 519.37,690.9 524.68,697.15 529.94,703.25 535.13,709.19 540.27,714.99 545.35,720.62 550.38,726.11 555.34,731.44 560.25,736.62 565.1,741.65 569.89,746.52 574.62,751.24 579.29,755.81 583.91,760.23 588.47,764.49 592.97,768.6 597.41,772.55 601.8,776.36 606.12,780.01 610.39,783.5 614.6,786.85 618.75,790.04 622.85,793.08 626.89,795.96 630.86,798.7 634.79,801.28 638.65,803.7 642.45,805.98 646.2,808.1" fill="none" stroke="#55b0cf" stroke-width="1.0" clip-path="url(#cp4)"/>
<polyline points="522,684.5 527.72,691.33 533.34,697.98 538.85,704.44 544.26,710.71 549.57,716.8 554.78,722.71 559.88,728.42 564.88,733.95 569.78,739.3 574.58,744.46 579.27,749.43 583.86,754.22 588.35,758.83 592.73,763.24 597.02,767.47 601.2,771.52 605.27,775.38 609.25,779.05 613.12,782.54 616.89,785.84 620.56,788.96 624.12,791.89 627.58,794.63 630.94,797.19 634.2,799.57 637.35,801.75 640.41,803.75 643.35,805.57 646.2,807.2" fill="none" stroke="#55b0cf" stroke-width="1.0" clip-path="url(#cp4)"/>
<polyline points="529,684.5 535.01,691.69 540.89,698.67 546.62,705.44 552.21,711.99 557.66,718.33 562.97,724.45 568.14,730.37 573.16,736.06 578.05,741.55 582.8,746.81 587.4,751.87 591.86,756.71 596.19,761.34 600.37,765.75 604.41,769.95 608.31,773.94 612.07,777.71 615.69,781.27 619.17,784.61 622.5,787.75 625.7,790.66 628.76,793.37 631.67,795.85 634.44,798.13 637.08,800.19 639.57,802.04 641.92,803.67 644.13,805.09 646.2,806.3" fill="none" stroke="#55b0cf" stroke-width="1.0" clip-path="url(#cp4)"/>
<defs><linearGradient id="jb" gradientUnits="userSpaceOnUse" x1="590" y1="741.5" x2="571.5" y2="758.3"><stop offset="0" stop-color="#1ca2de" stop-opacity="0.95"/><stop offset="0.45" stop-color="#22a4dc" stop-opacity="0.6"/><stop offset="1" stop-color="#3aaad8" stop-opacity="0"/></linearGradient></defs>
<polygon points="505,684.5 538.3,684.5 646.2,803.3 646.2,812" fill="url(#jb)" clip-path="url(#cp4)"/>
<polyline points="376.1,708.74 380.66,710.75 385.21,712.78 389.77,714.81 394.32,716.86 398.88,718.92 403.44,720.99 407.99,723.08 412.55,725.19 417.1,727.32 421.66,729.47 426.22,731.64 430.77,733.85 435.33,736.09 439.88,738.36 444.44,740.68 448.99,743.05 453.55,745.48 458.11,747.97 462.66,750.54 467.22,753.2 471.77,755.96 476.33,758.85 480.89,761.87 485.44,765.06 490,768.43 494.55,772.02 499.11,775.84 503.67,779.91 508.22,784.25 512.78,788.87 517.33,793.77 521.89,798.94 526.45,804.36 531,810.02 535.56,815.88 540.11,821.94 544.67,828.15 549.23,834.51 553.78,840.98 558.34,847.57" fill="none" stroke="#55b0cf" stroke-width="1.25" clip-path="url(#cp4)"/>
<polyline points="376.1,722.54 380.66,724.59 385.21,726.65 389.77,728.73 394.32,730.82 398.88,732.92 403.44,735.04 407.99,737.19 412.55,739.35 417.1,741.54 421.66,743.75 426.22,745.99 430.77,748.27 435.33,750.59 439.88,752.95 444.44,755.35 448.99,757.82 453.55,760.34 458.11,762.94 462.66,765.63 467.22,768.41 471.77,771.29 476.33,774.31 480.89,777.46 485.44,780.77 490,784.26 494.55,787.95 499.11,791.85 503.67,795.98 508.22,800.36 512.78,804.98 517.33,809.85 521.89,814.95 526.45,820.29 531,825.84 535.56,831.59 540.11,837.52 544.67,843.61" fill="none" stroke="#55b0cf" stroke-width="1.25" clip-path="url(#cp4)"/>
<polyline points="376.1,733.15 380.66,735.24 385.21,737.34 389.77,739.46 394.32,741.6 398.88,743.76 403.44,745.94 407.99,748.14 412.55,750.36 417.1,752.61 421.66,754.9 426.22,757.22 430.77,759.57 435.33,761.97 439.88,764.42 444.44,766.93 448.99,769.49 453.55,772.12 458.11,774.83 462.66,777.63 467.22,780.53 471.77,783.54 476.33,786.67 480.89,789.94 485.44,793.37 490,796.97 494.55,800.75 499.11,804.72 503.67,808.91 508.22,813.31 512.78,817.93 517.33,822.77 521.89,827.82 526.45,833.09 531,838.55 535.56,844.19" fill="none" stroke="#55b0cf" stroke-width="1.25" clip-path="url(#cp4)"/>
<polyline points="376.1,744.05 380.66,746.16 385.21,748.28 389.77,750.41 394.32,752.57 398.88,754.74 403.44,756.93 407.99,759.15 412.55,761.4 417.1,763.67 421.66,765.98 426.22,768.32 430.77,770.7 435.33,773.13 439.88,775.61 444.44,778.14 448.99,780.73 453.55,783.4 458.11,786.14 462.66,788.98 467.22,791.91 471.77,794.95 476.33,798.12 480.89,801.43 485.44,804.89 490,808.51 494.55,812.32 499.11,816.32 503.67,820.51 508.22,824.92 512.78,829.54 517.33,834.37 521.89,839.42 526.45,844.66" fill="none" stroke="#55b0cf" stroke-width="1.25" clip-path="url(#cp4)"/>
<polyline points="376.1,753.74 380.66,755.86 385.21,758 389.77,760.15 394.32,762.33 398.88,764.52 403.44,766.74 407.99,768.98 412.55,771.24 417.1,773.54 421.66,775.88 426.22,778.24 430.77,780.66 435.33,783.11 439.88,785.62 444.44,788.19 448.99,790.82 453.55,793.52 458.11,796.3 462.66,799.17 467.22,802.14 471.77,805.23 476.33,808.44 480.89,811.78 485.44,815.27 490,818.93 494.55,822.76 499.11,826.78 503.67,830.99 508.22,835.41 512.78,840.03 517.33,844.85" fill="none" stroke="#55b0cf" stroke-width="1.25" clip-path="url(#cp4)"/>
<polyline points="376.1,763.84 380.66,765.98 385.21,768.14 389.77,770.31 394.32,772.5 398.88,774.71 403.44,776.95 407.99,779.21 412.55,781.51 417.1,783.83 421.66,786.19 426.22,788.59 430.77,791.03 435.33,793.52 439.88,796.06 444.44,798.66 448.99,801.32 453.55,804.06 458.11,806.88 462.66,809.79 467.22,812.81 471.77,815.93 476.33,819.18 480.89,822.56 485.44,826.08 490,829.77 494.55,833.63 499.11,837.67 503.67,841.9 508.22,846.32" fill="none" stroke="#55b0cf" stroke-width="1.25" clip-path="url(#cp4)"/>
<polyline points="376.1,773.06 380.66,775.21 385.21,777.37 389.77,779.56 394.32,781.76 398.88,783.99 403.44,786.24 407.99,788.52 412.55,790.83 417.1,793.17 421.66,795.55 426.22,797.96 430.77,800.42 435.33,802.93 439.88,805.49 444.44,808.12 448.99,810.81 453.55,813.57 458.11,816.41 462.66,819.35 467.22,822.39 471.77,825.54 476.33,828.81 480.89,832.21 485.44,835.76 490,839.47 494.55,843.34" fill="none" stroke="#55b0cf" stroke-width="1.25" clip-path="url(#cp4)"/>
<polyline points="376.1,781.44 380.66,783.63 385.21,785.83 389.77,788.06 394.32,790.31 398.88,792.59 403.44,794.89 407.99,797.22 412.55,799.59 417.1,801.99 421.66,804.43 426.22,806.91 430.77,809.44 435.33,812.01 439.88,814.65 444.44,817.35 448.99,820.12 453.55,822.96 458.11,825.89 462.66,828.91 467.22,832.03 471.77,835.26 476.33,838.61 480.89,842.09" fill="none" stroke="#55b0cf" stroke-width="1.25" clip-path="url(#cp4)"/>
<polyline points="376.1,790.64 380.66,792.82 385.21,795.02 389.77,797.24 394.32,799.48 398.88,801.74 403.44,804.04 407.99,806.36 412.55,808.71 417.1,811.1 421.66,813.52 426.22,815.99 430.77,818.5 435.33,821.07 439.88,823.69 444.44,826.37 448.99,829.12 453.55,831.95 458.11,834.86 462.66,837.86 467.22,840.96 471.77,844.18" fill="none" stroke="#55b0cf" stroke-width="1.25" clip-path="url(#cp4)"/>
<polyline points="376.1,798.85 380.66,801.03 385.21,803.23 389.77,805.45 394.32,807.69 398.88,809.95 403.44,812.24 407.99,814.56 412.55,816.92 417.1,819.3 421.66,821.73 426.22,824.19 430.77,826.71 435.33,829.27 439.88,831.89 444.44,834.57 448.99,837.32 453.55,840.15 458.11,843.05" fill="none" stroke="#55b0cf" stroke-width="1.25" clip-path="url(#cp4)"/>
<polyline points="376.1,806.91 380.66,809.05 385.21,811.2 389.77,813.38 394.32,815.57 398.88,817.79 403.44,820.03 407.99,822.29 412.55,824.59 417.1,826.92 421.66,829.28 426.22,831.68 430.77,834.12 435.33,836.62 439.88,839.16 444.44,841.76 448.99,844.43" fill="none" stroke="#55b0cf" stroke-width="1.25" clip-path="url(#cp4)"/>
<polyline points="376.1,815.74 380.66,817.87 385.21,820.01 389.77,822.16 394.32,824.34 398.88,826.53 403.44,828.75 407.99,830.99 412.55,833.26 417.1,835.57 421.66,837.9 426.22,840.27 430.77,842.69" fill="none" stroke="#55b0cf" stroke-width="1.25" clip-path="url(#cp4)"/>
<polyline points="376.1,824.58 380.66,826.68 385.21,828.8 389.77,830.94 394.32,833.1 398.88,835.27 403.44,837.47 407.99,839.69 412.55,841.93" fill="none" stroke="#55b0cf" stroke-width="1.25" clip-path="url(#cp4)"/>
<polyline points="376.1,833.41 380.66,835.5 385.21,837.6 389.77,839.72 394.32,841.85 398.88,844" fill="none" stroke="#55b0cf" stroke-width="1.25" clip-path="url(#cp4)"/>
<polyline points="376.1,705.62 644.9,815.58" fill="none" stroke="#d0474c" stroke-width="1.15" clip-path="url(#cp4)"/>
<line x1="375.5" y1="838.9" x2="375.5" y2="678.2" stroke="#4f7cb8" stroke-width="1.9" />
<polygon points="375.5,674.2 377.9,679.7 373.1,679.7" fill="#4f7cb8"/>
<line x1="375.5" y1="838.9" x2="661.8" y2="838.9" stroke="#4f7cb8" stroke-width="1.9" />
<polygon points="665.8,838.9 660.3,841.3 660.3,836.5" fill="#4f7cb8"/>
<text x="376.1" y="847.9" font-family="Liberation Sans" font-size="9.3" font-weight="bold" font-style="normal" fill="#000" text-anchor="middle" >-4</text>
<text x="443.3" y="847.9" font-family="Liberation Sans" font-size="9.3" font-weight="bold" font-style="normal" fill="#000" text-anchor="middle" >-2</text>
<text x="510.5" y="847.9" font-family="Liberation Sans" font-size="9.3" font-weight="bold" font-style="normal" fill="#000" text-anchor="middle" >0</text>
<text x="577.7" y="847.9" font-family="Liberation Sans" font-size="9.3" font-weight="bold" font-style="normal" fill="#000" text-anchor="middle" >2</text>
<text x="644.9" y="847.9" font-family="Liberation Sans" font-size="9.3" font-weight="bold" font-style="normal" fill="#000" text-anchor="middle" >4</text>
<text x="374" y="705.2" font-family="Liberation Sans" font-size="9.3" font-weight="bold" font-style="normal" fill="#000" text-anchor="end" >0.4</text>
<text x="374" y="732.4" font-family="Liberation Sans" font-size="9.3" font-weight="bold" font-style="normal" fill="#000" text-anchor="end" >0.2</text>
<text x="374" y="764.1" font-family="Liberation Sans" font-size="9.3" font-weight="bold" font-style="normal" fill="#000" text-anchor="end" >0</text>
<text x="374" y="789.3" font-family="Liberation Sans" font-size="9.3" font-weight="bold" font-style="normal" fill="#000" text-anchor="end" >-0.2</text>
<text x="374" y="820.6" font-family="Liberation Sans" font-size="9.3" font-weight="bold" font-style="normal" fill="#000" text-anchor="end" >-0.4</text>
<text x="447.9" y="680.7" font-family="Liberation Sans" font-size="11.6" font-weight="normal" font-style="normal" fill="#000" text-anchor="start" textLength="112" lengthAdjust="spacingAndGlyphs" >Type II 3-fold Fermion</text>
<text x="348.4" y="761.8" font-family="Liberation Sans" font-size="12" font-weight="normal" font-style="italic" fill="#000" text-anchor="start" >E</text>
<text x="507.3" y="861.5" font-family="Liberation Serif" font-style="italic" font-size="15">k<tspan font-size="11" dx="1" dy="2.8">z</tspan></text>
</svg></body></html>
